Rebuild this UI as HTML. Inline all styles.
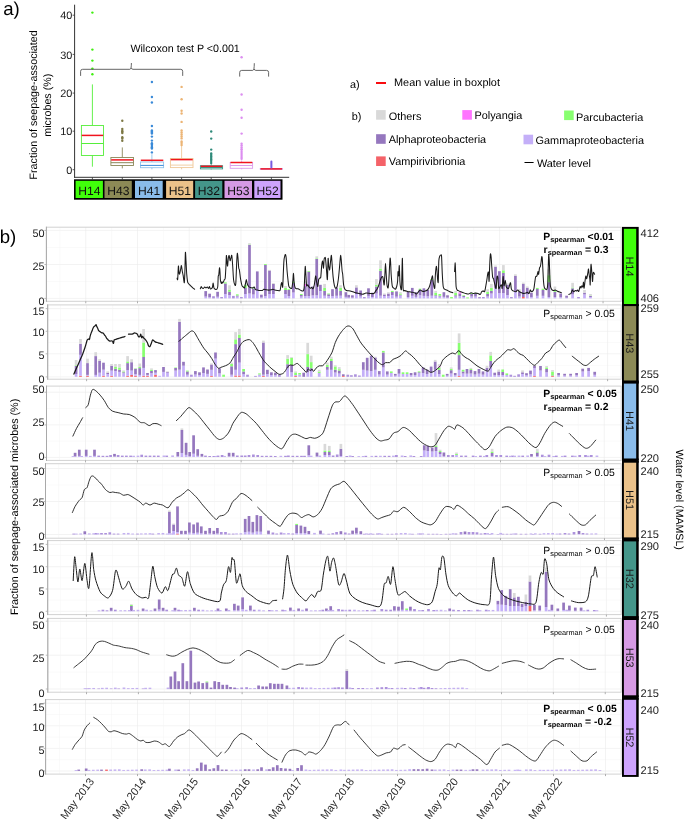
<!DOCTYPE html>
<html><head><meta charset="utf-8"><style>
html,body{margin:0;padding:0;background:#fff;}
svg{display:block;font-family:"Liberation Sans", sans-serif;-webkit-font-smoothing:antialiased;will-change:transform;text-rendering:geometricPrecision;}
</style></head><body>
<svg width="685" height="819" viewBox="0 0 685 819">
<rect x="0" y="0" width="685" height="819" fill="#fff"/>
<text x="3.2" y="14.6" font-size="18.6" text-anchor="start" fill="#000" font-weight="normal" >a)</text>
<text transform="translate(37.4,104.9) rotate(-90)" font-size="10.7" text-anchor="middle" fill="#000">Fraction of seepage-associated</text>
<text transform="translate(50.6,105.2) rotate(-90)" font-size="10.7" text-anchor="middle" fill="#000">microbes (%)</text>
<text x="72.4" y="173.9" font-size="10.9" text-anchor="end" fill="#1a1a1a" font-weight="normal" >0</text>
<line x1="72.6" y1="169.7" x2="74.6" y2="169.7" stroke="#333" stroke-width="0.8" />
<text x="72.4" y="135.4" font-size="10.9" text-anchor="end" fill="#1a1a1a" font-weight="normal" >10</text>
<line x1="72.6" y1="131.2" x2="74.6" y2="131.2" stroke="#333" stroke-width="0.8" />
<text x="72.4" y="97.3" font-size="10.9" text-anchor="end" fill="#1a1a1a" font-weight="normal" >20</text>
<line x1="72.6" y1="93.1" x2="74.6" y2="93.1" stroke="#333" stroke-width="0.8" />
<text x="72.4" y="58.6" font-size="10.9" text-anchor="end" fill="#1a1a1a" font-weight="normal" >30</text>
<line x1="72.6" y1="54.4" x2="74.6" y2="54.4" stroke="#333" stroke-width="0.8" />
<text x="72.4" y="19.4" font-size="10.9" text-anchor="end" fill="#1a1a1a" font-weight="normal" >40</text>
<line x1="72.6" y1="15.2" x2="74.6" y2="15.2" stroke="#333" stroke-width="0.8" />
<line x1="74.6" y1="4.7" x2="74.6" y2="177.8" stroke="#333" stroke-width="1" />
<line x1="74.1" y1="177.3" x2="289.2" y2="177.3" stroke="#333" stroke-width="1" />
<line x1="92.4" y1="84.4" x2="92.4" y2="125.5" stroke="#55ee3a" stroke-width="0.9" />
<line x1="92.4" y1="155.5" x2="92.4" y2="166.7" stroke="#55ee3a" stroke-width="0.9" />
<rect x="81.4" y="125.5" width="22.1" height="30" fill="none" stroke="#55ee3a" stroke-width="0.9"/>
<line x1="81.4" y1="143.5" x2="103.5" y2="143.5" stroke="#55ee3a" stroke-width="1.0" />
<line x1="81.7" y1="135.4" x2="103.2" y2="135.4" stroke="#f0141e" stroke-width="1.5" />
<circle cx="92.4" cy="12.6" r="1.2" fill="#40ee10"/>
<circle cx="92.4" cy="49.6" r="1.2" fill="#40ee10"/>
<circle cx="92.4" cy="60.6" r="1.2" fill="#40ee10"/>
<circle cx="92.4" cy="68.6" r="1.2" fill="#40ee10"/>
<circle cx="92.4" cy="74.2" r="1.2" fill="#40ee10"/>
<line x1="92.4" y1="177.3" x2="92.4" y2="179.3" stroke="#333" stroke-width="0.8" />
<line x1="122.3" y1="147.4" x2="122.3" y2="157.5" stroke="#8c8759" stroke-width="0.9" />
<line x1="122.3" y1="165.5" x2="122.3" y2="168.4" stroke="#8c8759" stroke-width="0.9" />
<rect x="110.9" y="157.5" width="22.6" height="8" fill="none" stroke="#8c8759" stroke-width="0.9"/>
<line x1="110.9" y1="162.7" x2="133.5" y2="162.7" stroke="#8c8759" stroke-width="1.0" />
<line x1="111.2" y1="159.9" x2="133.2" y2="159.9" stroke="#f0141e" stroke-width="1.5" />
<circle cx="122.3" cy="120.7" r="1.2" fill="#7d7845"/>
<circle cx="122.3" cy="129" r="1.2" fill="#7d7845"/>
<circle cx="122.3" cy="131" r="1.2" fill="#7d7845"/>
<circle cx="122.3" cy="131.8" r="1.2" fill="#7d7845"/>
<circle cx="122.3" cy="133" r="1.2" fill="#7d7845"/>
<circle cx="122.3" cy="137.2" r="1.2" fill="#7d7845"/>
<circle cx="122.3" cy="138.6" r="1.2" fill="#7d7845"/>
<circle cx="122.3" cy="140.8" r="1.2" fill="#7d7845"/>
<line x1="122.3" y1="177.3" x2="122.3" y2="179.3" stroke="#333" stroke-width="0.8" />
<line x1="151.9" y1="154.2" x2="151.9" y2="162" stroke="#8fc2ea" stroke-width="0.9" />
<line x1="151.9" y1="167.7" x2="151.9" y2="169.3" stroke="#8fc2ea" stroke-width="0.9" />
<rect x="140.5" y="162" width="23.1" height="5.7" fill="none" stroke="#8fc2ea" stroke-width="0.9"/>
<line x1="140.5" y1="165.4" x2="163.6" y2="165.4" stroke="#3a8ad8" stroke-width="1.0" />
<line x1="140.8" y1="160.3" x2="163.3" y2="160.3" stroke="#f0141e" stroke-width="1.5" />
<circle cx="151.9" cy="82" r="1.2" fill="#3a8ad8"/>
<circle cx="151.9" cy="97" r="1.2" fill="#3a8ad8"/>
<circle cx="151.9" cy="102.5" r="1.2" fill="#3a8ad8"/>
<circle cx="151.9" cy="126" r="1.2" fill="#3a8ad8"/>
<circle cx="151.9" cy="130.5" r="1.2" fill="#3a8ad8"/>
<circle cx="151.9" cy="131.5" r="1.2" fill="#3a8ad8"/>
<circle cx="151.9" cy="132.5" r="1.2" fill="#3a8ad8"/>
<circle cx="151.9" cy="133.6" r="1.2" fill="#3a8ad8"/>
<circle cx="151.9" cy="136.6" r="1.2" fill="#3a8ad8"/>
<circle cx="151.9" cy="140.6" r="1.2" fill="#3a8ad8"/>
<circle cx="151.9" cy="143.2" r="1.2" fill="#3a8ad8"/>
<circle cx="151.9" cy="144.5" r="1.2" fill="#3a8ad8"/>
<circle cx="151.9" cy="146" r="1.2" fill="#3a8ad8"/>
<circle cx="151.9" cy="147.3" r="1.2" fill="#3a8ad8"/>
<circle cx="151.9" cy="148.5" r="1.2" fill="#3a8ad8"/>
<circle cx="151.9" cy="152.4" r="1.2" fill="#3a8ad8"/>
<line x1="151.9" y1="177.3" x2="151.9" y2="179.3" stroke="#333" stroke-width="0.8" />
<line x1="181.6" y1="145.4" x2="181.6" y2="158.5" stroke="#efc898" stroke-width="0.9" />
<line x1="181.6" y1="167.6" x2="181.6" y2="169.3" stroke="#efc898" stroke-width="0.9" />
<rect x="170.4" y="158.5" width="22.6" height="9.1" fill="none" stroke="#efc898" stroke-width="0.9"/>
<line x1="170.4" y1="165.1" x2="193" y2="165.1" stroke="#f0cfa6" stroke-width="1.0" />
<line x1="170.7" y1="159.6" x2="192.7" y2="159.6" stroke="#f0141e" stroke-width="1.5" />
<circle cx="181.6" cy="86.9" r="1.2" fill="#ecb474"/>
<circle cx="181.6" cy="99.3" r="1.2" fill="#ecb474"/>
<circle cx="181.6" cy="110.7" r="1.2" fill="#ecb474"/>
<circle cx="181.6" cy="113.5" r="1.2" fill="#ecb474"/>
<circle cx="181.6" cy="121.9" r="1.2" fill="#ecb474"/>
<circle cx="181.6" cy="130.5" r="1.2" fill="#ecb474"/>
<circle cx="181.6" cy="132.5" r="1.2" fill="#ecb474"/>
<circle cx="181.6" cy="134.5" r="1.2" fill="#ecb474"/>
<circle cx="181.6" cy="136.5" r="1.2" fill="#ecb474"/>
<circle cx="181.6" cy="138.4" r="1.2" fill="#ecb474"/>
<circle cx="181.6" cy="141.5" r="1.2" fill="#ecb474"/>
<circle cx="181.6" cy="143" r="1.2" fill="#ecb474"/>
<circle cx="181.6" cy="145" r="1.2" fill="#ecb474"/>
<line x1="181.6" y1="177.3" x2="181.6" y2="179.3" stroke="#333" stroke-width="0.8" />
<line x1="211.2" y1="163.5" x2="211.2" y2="165.7" stroke="#3a9585" stroke-width="0.9" />
<line x1="211.2" y1="168.9" x2="211.2" y2="169.4" stroke="#3a9585" stroke-width="0.9" />
<rect x="200.4" y="165.7" width="22.2" height="3.2" fill="none" stroke="#3a9585" stroke-width="0.9"/>
<line x1="200.4" y1="167.5" x2="222.6" y2="167.5" stroke="#3a9585" stroke-width="1.0" />
<line x1="200.7" y1="166.3" x2="222.3" y2="166.3" stroke="#f0141e" stroke-width="1.5" />
<circle cx="211.2" cy="131.5" r="1.2" fill="#2f8a7a"/>
<circle cx="211.2" cy="138.6" r="1.2" fill="#2f8a7a"/>
<circle cx="211.2" cy="149.6" r="1.2" fill="#2f8a7a"/>
<circle cx="211.2" cy="153.4" r="1.2" fill="#2f8a7a"/>
<circle cx="211.2" cy="155" r="1.2" fill="#2f8a7a"/>
<circle cx="211.2" cy="156.5" r="1.2" fill="#2f8a7a"/>
<circle cx="211.2" cy="158" r="1.2" fill="#2f8a7a"/>
<circle cx="211.2" cy="159.5" r="1.2" fill="#2f8a7a"/>
<circle cx="211.2" cy="161" r="1.2" fill="#2f8a7a"/>
<circle cx="211.2" cy="162.9" r="1.2" fill="#2f8a7a"/>
<line x1="211.2" y1="177.3" x2="211.2" y2="179.3" stroke="#333" stroke-width="0.8" />
<line x1="241.6" y1="160.5" x2="241.6" y2="162.5" stroke="#dc9cec" stroke-width="0.9" />
<line x1="241.6" y1="168.3" x2="241.6" y2="169.3" stroke="#dc9cec" stroke-width="0.9" />
<rect x="230.2" y="162.5" width="22.4" height="5.8" fill="none" stroke="#dc9cec" stroke-width="0.9"/>
<line x1="230.2" y1="165.5" x2="252.6" y2="165.5" stroke="#dc9cec" stroke-width="1.0" />
<line x1="230.5" y1="162.5" x2="252.3" y2="162.5" stroke="#f0141e" stroke-width="1.5" />
<circle cx="241.6" cy="57.3" r="1.2" fill="#dc8ef0"/>
<circle cx="241.6" cy="94.5" r="1.2" fill="#dc8ef0"/>
<circle cx="241.6" cy="109.7" r="1.2" fill="#dc8ef0"/>
<circle cx="241.6" cy="117.7" r="1.2" fill="#dc8ef0"/>
<circle cx="241.6" cy="133.6" r="1.2" fill="#dc8ef0"/>
<circle cx="241.6" cy="143.8" r="1.2" fill="#dc8ef0"/>
<circle cx="241.6" cy="145.6" r="1.2" fill="#dc8ef0"/>
<circle cx="241.6" cy="147.5" r="1.2" fill="#dc8ef0"/>
<circle cx="241.6" cy="149.3" r="1.2" fill="#dc8ef0"/>
<circle cx="241.6" cy="151.1" r="1.2" fill="#dc8ef0"/>
<circle cx="241.6" cy="153" r="1.2" fill="#dc8ef0"/>
<circle cx="241.6" cy="155" r="1.2" fill="#dc8ef0"/>
<circle cx="241.6" cy="157" r="1.2" fill="#dc8ef0"/>
<circle cx="241.6" cy="158.8" r="1.2" fill="#dc8ef0"/>
<line x1="241.6" y1="177.3" x2="241.6" y2="179.3" stroke="#333" stroke-width="0.8" />
<line x1="271.4" y1="168.6" x2="271.4" y2="168.6" stroke="#c6a2fa" stroke-width="0.9" />
<line x1="271.4" y1="169.2" x2="271.4" y2="169.3" stroke="#c6a2fa" stroke-width="0.9" />
<rect x="260.2" y="168.6" width="22.2" height="0.6" fill="none" stroke="#c6a2fa" stroke-width="0.9"/>
<line x1="260.2" y1="168.9" x2="282.4" y2="168.9" stroke="#c6a2fa" stroke-width="1.0" />
<line x1="260.5" y1="168.9" x2="282.1" y2="168.9" stroke="#f0141e" stroke-width="1.5" />
<circle cx="271.4" cy="161.6" r="1.0" fill="#7a5ce0"/>
<circle cx="271.4" cy="162.6" r="1.0" fill="#7a5ce0"/>
<circle cx="271.4" cy="163.6" r="1.0" fill="#7a5ce0"/>
<circle cx="271.4" cy="164.6" r="1.0" fill="#7a5ce0"/>
<circle cx="271.4" cy="165.6" r="1.0" fill="#7a5ce0"/>
<circle cx="271.4" cy="166.6" r="1.0" fill="#7a5ce0"/>
<circle cx="271.4" cy="167.6" r="1.0" fill="#7a5ce0"/>
<line x1="271.4" y1="177.3" x2="271.4" y2="179.3" stroke="#333" stroke-width="0.8" />
<text x="130.4" y="52.3" font-size="10.7" text-anchor="start" fill="#000" font-weight="normal" >Wilcoxon test P &lt;0.001</text>
<path d="M80.6,75.9 L80.6,71.3 Q80.6,69.3 82.6,69.3 L129.9,69.3 Q131.4,69.3 131.4,63 M131.4,67.8 Q131.4,69.3 132.9,69.3 L180.7,69.3 Q182.7,69.3 182.7,71.3 L182.7,75.9" fill="none" stroke="#555" stroke-width="0.9"/>
<path d="M239.7,76.6 L239.7,72.4 Q239.7,70.4 241.7,70.4 L252.8,70.4 Q254.3,70.4 254.3,63.2 M254.3,68.9 Q254.3,70.4 255.8,70.4 L266.6,70.4 Q268.6,70.4 268.6,72.4 L268.6,76.6" fill="none" stroke="#555" stroke-width="0.9"/>
<rect x="74" y="179.3" width="208.5" height="20.4" fill="#000" />
<rect x="75.6" y="180.8" width="27.3" height="17.2" fill="#40ff0a" />
<text x="89.45" y="194.5" font-size="12.1" text-anchor="middle" fill="#111" font-weight="normal" >H14</text>
<rect x="104.5" y="180.8" width="27.3" height="17.2" fill="#8c8a56" />
<text x="118.35" y="194.5" font-size="12.1" text-anchor="middle" fill="#111" font-weight="normal" >H43</text>
<rect x="135" y="180.8" width="27.7" height="17.2" fill="#8abcea" />
<text x="149.05" y="194.5" font-size="12.1" text-anchor="middle" fill="#111" font-weight="normal" >H41</text>
<rect x="166.1" y="180.8" width="27.1" height="17.2" fill="#ebc28a" />
<text x="179.85" y="194.5" font-size="12.1" text-anchor="middle" fill="#111" font-weight="normal" >H51</text>
<rect x="195.1" y="180.8" width="27.2" height="17.2" fill="#44968a" />
<text x="208.9" y="194.5" font-size="12.1" text-anchor="middle" fill="#111" font-weight="normal" >H32</text>
<rect x="224.5" y="180.8" width="27.5" height="17.2" fill="#d69ae4" />
<text x="238.45" y="194.5" font-size="12.1" text-anchor="middle" fill="#111" font-weight="normal" >H53</text>
<rect x="254.3" y="180.8" width="26.2" height="17.2" fill="#cda3fd" />
<text x="267.6" y="194.5" font-size="12.1" text-anchor="middle" fill="#111" font-weight="normal" >H52</text>
<text x="350" y="87.9" font-size="10.9" text-anchor="start" fill="#000" font-weight="normal" >a)</text>
<line x1="376" y1="83" x2="386" y2="83" stroke="#f80c10" stroke-width="2.0" />
<text x="394" y="86.4" font-size="10.9" text-anchor="start" fill="#000" font-weight="normal" >Mean value in boxplot</text>
<text x="351.8" y="120.3" font-size="10.9" text-anchor="start" fill="#000" font-weight="normal" >b)</text>
<rect x="376.1" y="110.1" width="9.6" height="9.6" fill="#d9d9d9" />
<text x="388.7" y="119.6" font-size="10.9" text-anchor="start" fill="#000" font-weight="normal" >Others</text>
<rect x="462.3" y="110.1" width="9.6" height="9.6" fill="#ff74ff" />
<text x="474.4" y="119.2" font-size="10.9" text-anchor="start" fill="#000" font-weight="normal" >Polyangia</text>
<rect x="564.1" y="110.5" width="9.6" height="9.6" fill="#88ff70" />
<text x="576" y="120.5" font-size="10.9" text-anchor="start" fill="#000" font-weight="normal" >Parcubacteria</text>
<rect x="376.1" y="134.2" width="9.6" height="9.6" fill="#9577be" />
<text x="388.7" y="143" font-size="10.9" text-anchor="start" fill="#000" font-weight="normal" >Alphaproteobacteria</text>
<rect x="523.5" y="134.7" width="9.6" height="9.6" fill="#c4aff8" />
<text x="535.6" y="143.8" font-size="10.9" text-anchor="start" fill="#000" font-weight="normal" >Gammaproteobacteria</text>
<rect x="376.1" y="156.4" width="9.6" height="9.6" fill="#f46268" />
<text x="388.7" y="165.3" font-size="10.9" text-anchor="start" fill="#000" font-weight="normal" >Vampirivibrionia</text>
<line x1="524.5" y1="162.5" x2="533.6" y2="162.5" stroke="#000" stroke-width="1.0" />
<text x="536.9" y="166.8" font-size="10.9" text-anchor="start" fill="#000" font-weight="normal" >Water level</text>
<text x="-0.3" y="242.7" font-size="18.6" text-anchor="start" fill="#000" font-weight="normal" >b)</text>
<text transform="translate(18.2,506.9) rotate(-90)" font-size="10.75" text-anchor="middle" fill="#000">Fraction of seepage-associated microbes (%)</text>
<text transform="translate(675.6,499.7) rotate(90)" font-size="10.6" text-anchor="middle" fill="#000">Water level (MAMSL)</text>
<line x1="46.4" y1="247.45" x2="621.2" y2="247.45" stroke="#f4f4f4" stroke-width="0.5" />
<line x1="46.4" y1="281.45" x2="621.2" y2="281.45" stroke="#f4f4f4" stroke-width="0.5" />
<line x1="46.4" y1="230.4" x2="621.2" y2="230.4" stroke="#ebebeb" stroke-width="0.6" />
<line x1="46.4" y1="264.5" x2="621.2" y2="264.5" stroke="#ebebeb" stroke-width="0.6" />
<line x1="46.4" y1="298.4" x2="621.2" y2="298.4" stroke="#ebebeb" stroke-width="0.6" />
<line x1="59.91" y1="227.2" x2="59.91" y2="301.3" stroke="#f4f4f4" stroke-width="0.5" />
<line x1="111.64" y1="227.2" x2="111.64" y2="301.3" stroke="#f4f4f4" stroke-width="0.5" />
<line x1="163.36" y1="227.2" x2="163.36" y2="301.3" stroke="#f4f4f4" stroke-width="0.5" />
<line x1="215.09" y1="227.2" x2="215.09" y2="301.3" stroke="#f4f4f4" stroke-width="0.5" />
<line x1="266.82" y1="227.2" x2="266.82" y2="301.3" stroke="#f4f4f4" stroke-width="0.5" />
<line x1="318.55" y1="227.2" x2="318.55" y2="301.3" stroke="#f4f4f4" stroke-width="0.5" />
<line x1="370.28" y1="227.2" x2="370.28" y2="301.3" stroke="#f4f4f4" stroke-width="0.5" />
<line x1="422.01" y1="227.2" x2="422.01" y2="301.3" stroke="#f4f4f4" stroke-width="0.5" />
<line x1="473.74" y1="227.2" x2="473.74" y2="301.3" stroke="#f4f4f4" stroke-width="0.5" />
<line x1="525.46" y1="227.2" x2="525.46" y2="301.3" stroke="#f4f4f4" stroke-width="0.5" />
<line x1="577.19" y1="227.2" x2="577.19" y2="301.3" stroke="#f4f4f4" stroke-width="0.5" />
<line x1="85.77" y1="227.2" x2="85.77" y2="301.3" stroke="#ebebeb" stroke-width="0.6" />
<line x1="137.5" y1="227.2" x2="137.5" y2="301.3" stroke="#ebebeb" stroke-width="0.6" />
<line x1="189.23" y1="227.2" x2="189.23" y2="301.3" stroke="#ebebeb" stroke-width="0.6" />
<line x1="240.96" y1="227.2" x2="240.96" y2="301.3" stroke="#ebebeb" stroke-width="0.6" />
<line x1="292.69" y1="227.2" x2="292.69" y2="301.3" stroke="#ebebeb" stroke-width="0.6" />
<line x1="344.41" y1="227.2" x2="344.41" y2="301.3" stroke="#ebebeb" stroke-width="0.6" />
<line x1="396.14" y1="227.2" x2="396.14" y2="301.3" stroke="#ebebeb" stroke-width="0.6" />
<line x1="447.87" y1="227.2" x2="447.87" y2="301.3" stroke="#ebebeb" stroke-width="0.6" />
<line x1="499.6" y1="227.2" x2="499.6" y2="301.3" stroke="#ebebeb" stroke-width="0.6" />
<line x1="551.33" y1="227.2" x2="551.33" y2="301.3" stroke="#ebebeb" stroke-width="0.6" />
<line x1="603.06" y1="227.2" x2="603.06" y2="301.3" stroke="#ebebeb" stroke-width="0.6" />
<rect x="204.35" y="296.57" width="2.7" height="1.82" fill="#c4aff8" />
<rect x="204.35" y="291.1" width="2.7" height="5.47" fill="#9577be" />
<rect x="208.25" y="297.22" width="2.7" height="1.18" fill="#c4aff8" />
<rect x="208.25" y="293.7" width="2.7" height="3.52" fill="#9577be" />
<rect x="212.15" y="296.2" width="2.7" height="2.2" fill="#ad92dc" />
<rect x="216.25" y="296.75" width="2.7" height="1.65" fill="#c4aff8" />
<rect x="216.25" y="291.8" width="2.7" height="4.95" fill="#9577be" />
<rect x="220.25" y="297" width="2.7" height="1.4" fill="#ad92dc" />
<rect x="224.05" y="294" width="2.7" height="4.4" fill="#c4aff8" />
<rect x="224.05" y="283.5" width="2.7" height="10.5" fill="#9577be" />
<rect x="224.05" y="282.3" width="2.7" height="1.2" fill="#88ff70" />
<rect x="228.15" y="295" width="2.7" height="3.4" fill="#c4aff8" />
<rect x="228.15" y="291.8" width="2.7" height="3.2" fill="#9577be" />
<rect x="228.15" y="289.6" width="2.7" height="2.2" fill="#88ff70" />
<rect x="228.15" y="285.3" width="2.7" height="4.3" fill="#d9d9d9" />
<rect x="232.05" y="295.9" width="2.7" height="2.5" fill="#ad92dc" />
<rect x="235.95" y="296.5" width="2.7" height="1.9" fill="#c4aff8" />
<rect x="235.95" y="295.5" width="2.7" height="1" fill="#9577be" />
<rect x="235.95" y="294.3" width="2.7" height="1.2" fill="#88ff70" />
<rect x="240.05" y="297" width="2.7" height="1.4" fill="#ad92dc" />
<rect x="244.05" y="294" width="2.7" height="4.4" fill="#c4aff8" />
<rect x="244.05" y="288" width="2.7" height="6" fill="#9577be" />
<rect x="244.05" y="285" width="2.7" height="3" fill="#88ff70" />
<rect x="244.05" y="283.8" width="2.7" height="1.2" fill="#d9d9d9" />
<rect x="248.15" y="293.5" width="2.7" height="4.9" fill="#c4aff8" />
<rect x="248.15" y="245" width="2.7" height="48.5" fill="#9577be" />
<rect x="248.15" y="244.5" width="2.7" height="0.5" fill="#88ff70" />
<rect x="248.15" y="243.2" width="2.7" height="1.3" fill="#d9d9d9" />
<rect x="252.05" y="294.5" width="2.7" height="3.9" fill="#c4aff8" />
<rect x="252.05" y="288.5" width="2.7" height="6" fill="#9577be" />
<rect x="252.05" y="287.4" width="2.7" height="1.1" fill="#88ff70" />
<rect x="255.95" y="290" width="2.7" height="8.4" fill="#c4aff8" />
<rect x="255.95" y="271.4" width="2.7" height="18.6" fill="#9577be" />
<rect x="260.05" y="297.47" width="2.7" height="0.93" fill="#c4aff8" />
<rect x="260.05" y="294.7" width="2.7" height="2.77" fill="#9577be" />
<rect x="264.05" y="296" width="2.7" height="2.4" fill="#c4aff8" />
<rect x="264.05" y="265" width="2.7" height="31" fill="#9577be" />
<rect x="264.05" y="264.1" width="2.7" height="0.9" fill="#88ff70" />
<rect x="268.15" y="294" width="2.7" height="4.4" fill="#c4aff8" />
<rect x="268.15" y="270.5" width="2.7" height="23.5" fill="#9577be" />
<rect x="268.15" y="269.9" width="2.7" height="0.6" fill="#d9d9d9" />
<rect x="272.05" y="294" width="2.7" height="4.4" fill="#c4aff8" />
<rect x="272.05" y="284" width="2.7" height="10" fill="#9577be" />
<rect x="272.05" y="283.1" width="2.7" height="0.9" fill="#d9d9d9" />
<rect x="284.15" y="294" width="2.7" height="4.4" fill="#c4aff8" />
<rect x="284.15" y="290" width="2.7" height="4" fill="#9577be" />
<rect x="284.15" y="288" width="2.7" height="2" fill="#88ff70" />
<rect x="284.15" y="286" width="2.7" height="2" fill="#d9d9d9" />
<rect x="287.55" y="296" width="2.7" height="2.4" fill="#c4aff8" />
<rect x="287.55" y="290" width="2.7" height="6" fill="#9577be" />
<rect x="287.55" y="289.2" width="2.7" height="0.8" fill="#88ff70" />
<rect x="292.05" y="292.5" width="2.7" height="5.9" fill="#c4aff8" />
<rect x="292.05" y="283" width="2.7" height="9.5" fill="#9577be" />
<rect x="292.05" y="281.7" width="2.7" height="1.3" fill="#88ff70" />
<rect x="299.95" y="296.5" width="2.7" height="1.9" fill="#c4aff8" />
<rect x="299.95" y="295" width="2.7" height="1.5" fill="#9577be" />
<rect x="299.95" y="294" width="2.7" height="1" fill="#88ff70" />
<rect x="303.95" y="296" width="2.7" height="2.4" fill="#c4aff8" />
<rect x="303.95" y="286.1" width="2.7" height="9.9" fill="#9577be" />
<rect x="303.95" y="283.9" width="2.7" height="2.2" fill="#ff74ff" />
<rect x="303.95" y="280.8" width="2.7" height="3.1" fill="#d9d9d9" />
<rect x="307.45" y="296" width="2.7" height="2.4" fill="#c4aff8" />
<rect x="307.45" y="271.7" width="2.7" height="24.3" fill="#9577be" />
<rect x="307.45" y="271" width="2.7" height="0.7" fill="#88ff70" />
<rect x="311.45" y="295.42" width="2.7" height="2.98" fill="#c4aff8" />
<rect x="311.45" y="286.5" width="2.7" height="8.92" fill="#9577be" />
<rect x="315.35" y="295.3" width="2.7" height="3.1" fill="#c4aff8" />
<rect x="315.35" y="259" width="2.7" height="36.3" fill="#9577be" />
<rect x="315.35" y="258.3" width="2.7" height="0.7" fill="#88ff70" />
<rect x="315.35" y="256.3" width="2.7" height="2" fill="#d9d9d9" />
<rect x="319.05" y="291" width="2.7" height="7.4" fill="#c4aff8" />
<rect x="319.05" y="284.8" width="2.7" height="6.2" fill="#9577be" />
<rect x="323.25" y="295.7" width="2.7" height="2.7" fill="#c4aff8" />
<rect x="323.25" y="290.9" width="2.7" height="4.8" fill="#9577be" />
<rect x="323.25" y="287.9" width="2.7" height="3" fill="#88ff70" />
<rect x="323.25" y="283.9" width="2.7" height="4" fill="#d9d9d9" />
<rect x="327.25" y="296" width="2.7" height="2.4" fill="#c4aff8" />
<rect x="327.25" y="294.3" width="2.7" height="1.7" fill="#9577be" />
<rect x="327.25" y="293.5" width="2.7" height="0.8" fill="#88ff70" />
<rect x="331.15" y="296.1" width="2.7" height="2.3" fill="#c4aff8" />
<rect x="331.15" y="289.2" width="2.7" height="6.9" fill="#9577be" />
<rect x="335.25" y="295.77" width="2.7" height="2.62" fill="#c4aff8" />
<rect x="335.25" y="287.9" width="2.7" height="7.88" fill="#9577be" />
<rect x="339.25" y="295.7" width="2.7" height="2.7" fill="#c4aff8" />
<rect x="339.25" y="290.9" width="2.7" height="4.8" fill="#9577be" />
<rect x="339.25" y="287.9" width="2.7" height="3" fill="#88ff70" />
<rect x="339.25" y="285.2" width="2.7" height="2.7" fill="#d9d9d9" />
<rect x="344.55" y="296.85" width="2.7" height="1.55" fill="#c4aff8" />
<rect x="344.55" y="292.2" width="2.7" height="4.65" fill="#9577be" />
<rect x="347.35" y="297.52" width="2.7" height="0.88" fill="#c4aff8" />
<rect x="347.35" y="294.9" width="2.7" height="2.62" fill="#9577be" />
<rect x="351.05" y="297.62" width="2.7" height="0.77" fill="#c4aff8" />
<rect x="351.05" y="295.3" width="2.7" height="2.32" fill="#9577be" />
<rect x="355.05" y="294" width="2.7" height="4.4" fill="#c4aff8" />
<rect x="355.05" y="287.4" width="2.7" height="6.6" fill="#9577be" />
<rect x="355.05" y="285.2" width="2.7" height="2.2" fill="#d9d9d9" />
<rect x="359.25" y="296.42" width="2.7" height="1.98" fill="#c4aff8" />
<rect x="359.25" y="290.5" width="2.7" height="5.92" fill="#9577be" />
<rect x="362.95" y="297" width="2.7" height="1.4" fill="#ad92dc" />
<rect x="367.15" y="295.88" width="2.7" height="2.52" fill="#c4aff8" />
<rect x="367.15" y="288.3" width="2.7" height="7.57" fill="#9577be" />
<rect x="371.05" y="296.97" width="2.7" height="1.43" fill="#c4aff8" />
<rect x="371.05" y="292.7" width="2.7" height="4.27" fill="#9577be" />
<rect x="375.05" y="293.5" width="2.7" height="4.9" fill="#c4aff8" />
<rect x="375.05" y="286.5" width="2.7" height="7" fill="#9577be" />
<rect x="375.05" y="284.8" width="2.7" height="1.7" fill="#88ff70" />
<rect x="375.05" y="279.1" width="2.7" height="5.7" fill="#d9d9d9" />
<rect x="379.15" y="295.7" width="2.7" height="2.7" fill="#c4aff8" />
<rect x="379.15" y="270.8" width="2.7" height="24.9" fill="#9577be" />
<rect x="379.15" y="268.6" width="2.7" height="2.2" fill="#88ff70" />
<rect x="379.15" y="260.3" width="2.7" height="8.3" fill="#d9d9d9" />
<rect x="383.05" y="296" width="2.7" height="2.4" fill="#c4aff8" />
<rect x="383.05" y="294.5" width="2.7" height="1.5" fill="#9577be" />
<rect x="383.05" y="293.5" width="2.7" height="1" fill="#d9d9d9" />
<rect x="387.05" y="296" width="2.7" height="2.4" fill="#c4aff8" />
<rect x="387.05" y="293.5" width="2.7" height="2.5" fill="#9577be" />
<rect x="387.05" y="292.2" width="2.7" height="1.3" fill="#d9d9d9" />
<rect x="390.95" y="295" width="2.7" height="3.4" fill="#c4aff8" />
<rect x="390.95" y="292" width="2.7" height="3" fill="#9577be" />
<rect x="390.95" y="290.9" width="2.7" height="1.1" fill="#88ff70" />
<rect x="395.15" y="296.65" width="2.7" height="1.75" fill="#c4aff8" />
<rect x="395.15" y="291.4" width="2.7" height="5.25" fill="#9577be" />
<rect x="399.05" y="295.5" width="2.7" height="2.9" fill="#c4aff8" />
<rect x="399.05" y="294.8" width="2.7" height="0.7" fill="#9577be" />
<rect x="399.05" y="293.5" width="2.7" height="1.3" fill="#88ff70" />
<rect x="399.05" y="292.2" width="2.7" height="1.3" fill="#d9d9d9" />
<rect x="406.75" y="297" width="2.7" height="1.4" fill="#c4aff8" />
<rect x="406.75" y="291.8" width="2.7" height="5.2" fill="#9577be" />
<rect x="406.75" y="290.9" width="2.7" height="0.9" fill="#d9d9d9" />
<rect x="410.95" y="295.77" width="2.7" height="2.62" fill="#c4aff8" />
<rect x="410.95" y="287.9" width="2.7" height="7.88" fill="#9577be" />
<rect x="414.65" y="296.85" width="2.7" height="1.55" fill="#c4aff8" />
<rect x="414.65" y="292.2" width="2.7" height="4.65" fill="#9577be" />
<rect x="418.65" y="295.3" width="2.7" height="3.1" fill="#c4aff8" />
<rect x="418.65" y="289.6" width="2.7" height="5.7" fill="#9577be" />
<rect x="418.65" y="288.7" width="2.7" height="0.9" fill="#88ff70" />
<rect x="422.55" y="295.88" width="2.7" height="2.52" fill="#c4aff8" />
<rect x="422.55" y="288.3" width="2.7" height="7.57" fill="#9577be" />
<rect x="426.45" y="296.3" width="2.7" height="2.1" fill="#c4aff8" />
<rect x="426.45" y="290" width="2.7" height="6.3" fill="#9577be" />
<rect x="430.45" y="295.7" width="2.7" height="2.7" fill="#c4aff8" />
<rect x="430.45" y="280" width="2.7" height="15.7" fill="#9577be" />
<rect x="430.45" y="279.1" width="2.7" height="0.9" fill="#88ff70" />
<rect x="434.35" y="296" width="2.7" height="2.4" fill="#c4aff8" />
<rect x="434.35" y="295.3" width="2.7" height="0.7" fill="#9577be" />
<rect x="434.35" y="292.7" width="2.7" height="2.6" fill="#88ff70" />
<rect x="434.35" y="290.9" width="2.7" height="1.8" fill="#d9d9d9" />
<rect x="438.45" y="296.5" width="2.7" height="1.9" fill="#c4aff8" />
<rect x="438.45" y="295.7" width="2.7" height="0.8" fill="#9577be" />
<rect x="438.45" y="294" width="2.7" height="1.7" fill="#88ff70" />
<rect x="442.55" y="296.85" width="2.7" height="1.55" fill="#c4aff8" />
<rect x="442.55" y="292.2" width="2.7" height="4.65" fill="#9577be" />
<rect x="446.15" y="297.62" width="2.7" height="0.77" fill="#c4aff8" />
<rect x="446.15" y="295.3" width="2.7" height="2.32" fill="#9577be" />
<rect x="450.15" y="297" width="2.7" height="1.4" fill="#88ff70" />
<rect x="454.25" y="296.5" width="2.7" height="1.9" fill="#c4aff8" />
<rect x="454.25" y="295.3" width="2.7" height="1.2" fill="#9577be" />
<rect x="454.25" y="292.7" width="2.7" height="2.6" fill="#88ff70" />
<rect x="454.25" y="290.9" width="2.7" height="1.8" fill="#d9d9d9" />
<rect x="458.45" y="296" width="2.7" height="2.4" fill="#c4aff8" />
<rect x="458.45" y="293.5" width="2.7" height="2.5" fill="#9577be" />
<rect x="458.45" y="292.2" width="2.7" height="1.3" fill="#ff74ff" />
<rect x="462.35" y="297" width="2.7" height="1.4" fill="#c4aff8" />
<rect x="462.35" y="296" width="2.7" height="1" fill="#9577be" />
<rect x="462.35" y="295.3" width="2.7" height="0.7" fill="#88ff70" />
<rect x="466.25" y="297.4" width="2.7" height="1" fill="#88ff70" />
<rect x="470.25" y="296.5" width="2.7" height="1.9" fill="#c4aff8" />
<rect x="470.25" y="294" width="2.7" height="2.5" fill="#9577be" />
<rect x="470.25" y="293.1" width="2.7" height="0.9" fill="#88ff70" />
<rect x="474.15" y="296.5" width="2.7" height="1.9" fill="#c4aff8" />
<rect x="474.15" y="293.8" width="2.7" height="2.7" fill="#9577be" />
<rect x="474.15" y="293.2" width="2.7" height="0.6" fill="#88ff70" />
<rect x="474.15" y="292.7" width="2.7" height="0.5" fill="#d9d9d9" />
<rect x="478.15" y="297" width="2.7" height="1.4" fill="#ad92dc" />
<rect x="482.05" y="297" width="2.7" height="1.4" fill="#ad92dc" />
<rect x="486.25" y="296.5" width="2.7" height="1.9" fill="#c4aff8" />
<rect x="486.25" y="294" width="2.7" height="2.5" fill="#9577be" />
<rect x="486.25" y="291.8" width="2.7" height="2.2" fill="#88ff70" />
<rect x="486.25" y="289.2" width="2.7" height="2.6" fill="#d9d9d9" />
<rect x="490.05" y="293.5" width="2.7" height="4.9" fill="#c4aff8" />
<rect x="490.05" y="290.9" width="2.7" height="2.6" fill="#9577be" />
<rect x="490.05" y="287.9" width="2.7" height="3" fill="#88ff70" />
<rect x="490.05" y="283.9" width="2.7" height="4" fill="#d9d9d9" />
<rect x="494.15" y="288.3" width="2.7" height="10.1" fill="#c4aff8" />
<rect x="494.15" y="266.8" width="2.7" height="21.5" fill="#9577be" />
<rect x="494.15" y="265.5" width="2.7" height="1.3" fill="#d9d9d9" />
<rect x="498.05" y="293.1" width="2.7" height="5.3" fill="#c4aff8" />
<rect x="498.05" y="271.2" width="2.7" height="21.9" fill="#9577be" />
<rect x="502.05" y="293.1" width="2.7" height="5.3" fill="#c4aff8" />
<rect x="502.05" y="273" width="2.7" height="20.1" fill="#9577be" />
<rect x="502.05" y="270.3" width="2.7" height="2.7" fill="#88ff70" />
<rect x="502.05" y="265.1" width="2.7" height="5.2" fill="#d9d9d9" />
<rect x="506.15" y="295" width="2.7" height="3.4" fill="#c4aff8" />
<rect x="506.15" y="284.8" width="2.7" height="10.2" fill="#9577be" />
<rect x="506.15" y="283.5" width="2.7" height="1.3" fill="#d9d9d9" />
<rect x="510.05" y="297" width="2.7" height="1.4" fill="#ad92dc" />
<rect x="514.05" y="291.8" width="2.7" height="6.6" fill="#c4aff8" />
<rect x="514.05" y="276" width="2.7" height="15.8" fill="#9577be" />
<rect x="514.05" y="274.3" width="2.7" height="1.7" fill="#d9d9d9" />
<rect x="518.05" y="296.5" width="2.7" height="1.9" fill="#c4aff8" />
<rect x="518.05" y="291.8" width="2.7" height="4.7" fill="#9577be" />
<rect x="518.05" y="289.2" width="2.7" height="2.6" fill="#d9d9d9" />
<rect x="521.95" y="297" width="2.7" height="1.4" fill="#f46268" />
<rect x="521.95" y="284" width="2.7" height="13" fill="#9577be" />
<rect x="521.95" y="282.6" width="2.7" height="1.4" fill="#d9d9d9" />
<rect x="525.95" y="294.5" width="2.7" height="3.9" fill="#c4aff8" />
<rect x="525.95" y="287.8" width="2.7" height="6.7" fill="#9577be" />
<rect x="525.95" y="286.5" width="2.7" height="1.3" fill="#d9d9d9" />
<rect x="530.05" y="296.97" width="2.7" height="1.43" fill="#c4aff8" />
<rect x="530.05" y="292.7" width="2.7" height="4.27" fill="#9577be" />
<rect x="535.95" y="295.8" width="2.7" height="2.6" fill="#c4aff8" />
<rect x="535.95" y="289" width="2.7" height="6.8" fill="#9577be" />
<rect x="535.95" y="287.9" width="2.7" height="1.1" fill="#88ff70" />
<rect x="541.65" y="295.8" width="2.7" height="2.6" fill="#c4aff8" />
<rect x="541.65" y="290" width="2.7" height="5.8" fill="#9577be" />
<rect x="541.65" y="288.7" width="2.7" height="1.3" fill="#88ff70" />
<rect x="547.55" y="297" width="2.7" height="1.4" fill="#c4aff8" />
<rect x="547.55" y="282.2" width="2.7" height="14.8" fill="#9577be" />
<rect x="547.55" y="275.2" width="2.7" height="7" fill="#88ff70" />
<rect x="547.55" y="269" width="2.7" height="6.2" fill="#d9d9d9" />
<rect x="553.55" y="297" width="2.7" height="1.4" fill="#c4aff8" />
<rect x="553.55" y="291.8" width="2.7" height="5.2" fill="#9577be" />
<rect x="553.55" y="290" width="2.7" height="1.8" fill="#88ff70" />
<rect x="553.55" y="286.5" width="2.7" height="3.5" fill="#d9d9d9" />
<rect x="559.35" y="297.17" width="2.7" height="1.23" fill="#c4aff8" />
<rect x="559.35" y="293.5" width="2.7" height="3.67" fill="#9577be" />
<rect x="565.25" y="297.72" width="2.7" height="0.68" fill="#c4aff8" />
<rect x="565.25" y="295.7" width="2.7" height="2.02" fill="#9577be" />
<rect x="571.25" y="294.4" width="2.7" height="4" fill="#c4aff8" />
<rect x="571.25" y="288.3" width="2.7" height="6.1" fill="#9577be" />
<rect x="571.25" y="287.5" width="2.7" height="0.8" fill="#88ff70" />
<rect x="571.25" y="282.8" width="2.7" height="4.7" fill="#d9d9d9" />
<rect x="577.15" y="297" width="2.7" height="1.4" fill="#ad92dc" />
<rect x="583.15" y="294.4" width="2.7" height="4" fill="#c4aff8" />
<rect x="583.15" y="292.7" width="2.7" height="1.7" fill="#9577be" />
<rect x="583.15" y="290" width="2.7" height="2.7" fill="#d9d9d9" />
<rect x="589.15" y="297" width="2.7" height="1.4" fill="#c4aff8" />
<rect x="589.15" y="296" width="2.7" height="1" fill="#9577be" />
<rect x="589.15" y="295.6" width="2.7" height="0.4" fill="#88ff70" />
<rect x="589.15" y="294" width="2.7" height="1.6" fill="#d9d9d9" />
<path d="M177.1,278.3 C177.19,278.43 177.52,280.94 177.7,279.2 C177.88,277.46 178.22,266.88 178.4,266 C178.58,265.12 178.82,271.88 179,273 C179.18,274.12 179.47,274.4 179.7,273.9 C179.93,273.4 180.36,270.68 180.6,269.5 C180.84,268.32 181.16,265.35 181.4,265.6 C181.64,265.86 182.05,269.87 182.3,271.3 C182.56,272.73 182.92,274.08 183.2,275.7 C183.48,277.31 184.06,283.32 184.3,282.7 C184.54,282.08 184.74,275.59 184.9,271.3 C185.06,267.01 185.24,253.89 185.4,252.4 C185.56,250.91 185.82,257.75 186,260.8 C186.18,263.85 186.47,270.92 186.7,273.9 C186.93,276.88 187.34,280.44 187.6,281.8 C187.85,283.16 188.19,283.06 188.5,283.5 C188.81,283.94 189.38,284.46 189.8,284.9 C190.23,285.34 191,286.1 191.5,286.6 C192,287.1 192.86,288.03 193.3,288.4 C193.74,288.77 194.42,289.09 194.6,289.2" fill="none" stroke="#1a1a1a" stroke-width="1.05" stroke-linejoin="round" stroke-linecap="round"/>
<path d="M200.3,288.8 C200.43,288.49 200.96,286.73 201.2,286.6 C201.44,286.47 201.7,287.64 202,287.9 C202.3,288.15 202.92,288.53 203.3,288.4 C203.68,288.27 204.32,287.07 204.7,287 C205.08,286.93 205.63,287.9 206,287.9 C206.37,287.9 206.93,286.93 207.3,287 C207.67,287.07 208.29,288.46 208.6,288.4 C208.91,288.34 209.26,286.54 209.5,286.6 C209.74,286.66 209.99,288.55 210.3,288.8 C210.61,289.06 211.39,288.65 211.7,288.4 C212.01,288.14 212.29,287.75 212.5,287 C212.71,286.25 213,282.97 213.2,283.1 C213.4,283.23 213.62,287.04 213.9,287.9 C214.18,288.76 214.77,289.02 215.2,289.2 C215.62,289.38 216.53,289.62 216.9,289.2 C217.27,288.77 217.62,288 217.8,286.2 C217.98,284.4 218.06,278.12 218.2,276.5 C218.34,274.88 218.62,276.03 218.8,274.8 C218.98,273.57 219.33,268.17 219.5,267.8 C219.67,267.43 219.87,270.47 220,272.2 C220.13,273.93 220.22,278.4 220.4,280 C220.58,281.6 221.07,283.25 221.3,283.5 C221.53,283.75 221.82,281.86 222,281.8 C222.18,281.74 222.39,283.1 222.6,283.1 C222.81,283.1 223.25,282.3 223.5,281.8 C223.75,281.3 224.16,280.1 224.4,279.6 C224.64,279.1 224.99,280.1 225.2,278.3 C225.41,276.5 225.73,270.13 225.9,266.9 C226.07,263.67 226.24,256.12 226.4,255.5 C226.56,254.88 226.83,261.01 227,262.5 C227.17,263.99 227.42,266.62 227.6,266 C227.78,265.38 228.07,259.59 228.3,258.1 C228.53,256.61 228.94,255.12 229.2,255.5 C229.45,255.88 229.86,260.43 230.1,260.8 C230.34,261.17 230.66,258.85 230.9,258.1 C231.14,257.35 231.55,254.38 231.8,255.5 C232.06,256.62 232.44,262.53 232.7,266 C232.95,269.47 233.29,277.32 233.6,280 C233.91,282.68 234.59,284.4 234.9,284.9 C235.21,285.4 235.55,286.67 235.8,283.5 C236.06,280.33 236.49,266.78 236.7,262.5 C236.91,258.22 237.12,253.92 237.3,253.3 C237.48,252.68 237.8,256.05 238,258.1 C238.2,260.15 238.52,266.19 238.7,267.8 C238.88,269.42 239.14,268.76 239.3,269.5 C239.46,270.24 239.62,271.63 239.8,273 C239.98,274.37 240.3,277.46 240.6,279.2 C240.9,280.94 241.52,284.19 241.9,285.3 C242.28,286.41 242.92,286.63 243.3,287 C243.68,287.37 244.29,288.4 244.6,287.9 C244.91,287.4 245.26,284.68 245.5,283.5 C245.74,282.32 246.06,279.6 246.3,279.6 C246.54,279.6 246.89,282.56 247.2,283.5 C247.51,284.44 248.06,285.63 248.5,286.2 C248.94,286.77 249.73,287.26 250.3,287.5 C250.87,287.74 251.95,287.97 252.5,287.9 C253.05,287.83 253.77,286.75 254.2,287 C254.62,287.25 255.06,289.26 255.5,289.7 C255.94,290.14 256.68,289.99 257.3,290.1 C257.92,290.21 259.16,290.46 259.9,290.5 C260.64,290.54 261.95,290.58 262.5,290.4 C263.05,290.22 263.3,289.3 263.8,289.2 C264.3,289.1 265.31,289.57 266,289.7 C266.69,289.83 267.95,290.1 268.7,290.1 C269.45,290.1 270.69,289.83 271.3,289.7 C271.91,289.57 272.5,289.14 273,289.2 C273.5,289.26 274.18,289.93 274.8,290.1 C275.42,290.27 276.66,290.36 277.4,290.4 C278.14,290.44 279.48,291.25 280,290.4 C280.52,289.55 280.85,285.49 281.1,284.4 C281.36,283.31 281.57,282.33 281.8,282.7 C282.03,283.07 282.47,288.62 282.7,287 C282.93,285.38 283.22,275.14 283.4,271.3 C283.58,267.46 283.79,262.14 284,259.9 C284.21,257.66 284.69,256.25 284.9,255.5 C285.11,254.75 285.32,254.23 285.5,254.6 C285.68,254.97 285.97,255.73 286.2,258.1 C286.43,260.47 286.85,268.2 287.1,271.3 C287.36,274.4 287.76,277.89 288,280 C288.24,282.11 288.5,285.08 288.8,286.2 C289.1,287.32 289.85,287.6 290.1,287.9 C290.36,288.2 290.35,288.3 290.6,288.3 C290.86,288.3 291.59,288.89 291.9,287.9 C292.21,286.91 292.57,283.35 292.8,281.3 C293.03,279.25 293.32,273.27 293.5,273.4 C293.68,273.53 293.89,280.22 294.1,282.2 C294.31,284.18 294.69,286.48 295,287.4 C295.31,288.32 295.86,288.52 296.3,288.7 C296.74,288.88 297.66,288.57 298.1,288.7 C298.54,288.83 298.97,289.35 299.4,289.6 C299.82,289.86 300.55,290.32 301.1,290.5 C301.65,290.68 302.86,291.34 303.3,290.9 C303.74,290.46 303.99,289.75 304.2,287.4 C304.41,285.05 304.64,277.28 304.8,274.3 C304.96,271.32 305.13,266.03 305.3,266.4 C305.47,266.77 305.82,274.17 306,276.9 C306.18,279.63 306.36,284.58 306.6,285.7 C306.84,286.82 307.36,284.62 307.7,284.8 C308.04,284.98 308.63,286.5 309,287 C309.37,287.5 309.93,288.24 310.3,288.3 C310.67,288.36 311.22,287.34 311.6,287.4 C311.98,287.46 312.62,289.07 313,288.7 C313.38,288.33 313.93,286.6 314.3,284.8 C314.67,283 315.29,276.5 315.6,276 C315.91,275.5 316.19,279.81 316.5,281.3 C316.81,282.79 317.49,286.75 317.8,286.5 C318.11,286.25 318.39,280.73 318.7,279.5 C319.01,278.27 319.7,278.17 320,277.8 C320.3,277.43 320.56,278.64 320.8,276.9 C321.04,275.16 321.44,267.74 321.7,265.5 C321.95,263.26 322.35,260.73 322.6,261.1 C322.86,261.47 323.29,268.34 323.5,268.1 C323.71,267.86 323.92,260.89 324.1,259.4 C324.28,257.91 324.6,257.73 324.8,257.6 C325,257.47 325.26,256.76 325.5,258.5 C325.74,260.24 326.23,266.92 326.5,269.9 C326.77,272.88 327.17,281.12 327.4,279.5 C327.63,277.88 327.92,260.48 328.1,258.5 C328.28,256.52 328.49,263.88 328.7,265.5 C328.91,267.12 329.35,270.4 329.6,269.9 C329.86,269.4 330.25,264.05 330.5,262 C330.75,259.95 331.16,254.9 331.4,255.4 C331.64,255.9 331.96,262.45 332.2,265.5 C332.44,268.55 332.79,274.04 333.1,276.9 C333.41,279.76 334.03,284.08 334.4,285.7 C334.77,287.31 335.32,288.19 335.7,288.3 C336.08,288.41 336.72,287.86 337.1,286.5 C337.48,285.14 338.1,280.92 338.4,278.7 C338.7,276.48 338.96,273.41 339.2,270.8 C339.44,268.19 339.9,262.48 340.1,260.3 C340.3,258.12 340.44,255.53 340.6,255.4 C340.76,255.27 340.99,257.22 341.2,259.4 C341.41,261.58 341.89,268.69 342.1,270.8 C342.31,272.91 342.49,272.32 342.7,274.3 C342.91,276.28 343.29,282.69 343.6,284.8 C343.91,286.91 344.46,288.39 344.9,289.2 C345.34,290.01 346.26,290.29 346.7,290.5 C347.14,290.71 347.49,290.64 348,290.7 C348.51,290.76 349.61,290.74 350.3,290.9 C350.99,291.06 352.16,291.55 352.9,291.8 C353.64,292.06 354.64,292.46 355.5,292.7 C356.36,292.94 358.01,293.29 359,293.5 C359.99,293.71 361.51,294.26 362.5,294.2 C363.49,294.14 364.94,293.21 366,293.1 C367.06,292.99 368.88,293.34 370,293.4 C371.12,293.46 373.09,293.85 373.9,293.5 C374.71,293.15 375.26,291.51 375.7,290.9 C376.14,290.29 376.63,289.82 377,289.2 C377.37,288.58 377.99,287.25 378.3,286.5 C378.61,285.75 378.89,284.89 379.2,283.9 C379.51,282.91 380.13,280.49 380.5,279.5 C380.87,278.51 381.47,277.27 381.8,276.9 C382.13,276.53 382.56,276.28 382.8,276.9 C383.04,277.52 383.3,280.18 383.5,281.3 C383.7,282.42 384,285.79 384.2,284.8 C384.4,283.81 384.72,277.35 384.9,274.3 C385.08,271.25 385.32,263.3 385.5,263.3 C385.68,263.3 385.99,271.25 386.2,274.3 C386.41,277.35 386.73,282.87 387,284.8 C387.27,286.73 387.85,288.4 388.1,287.9 C388.36,287.4 388.6,284.22 388.8,281.3 C389,278.38 389.32,270.59 389.5,267.3 C389.68,264.01 389.94,258.85 390.1,258.1 C390.26,257.35 390.44,259.61 390.6,262 C390.76,264.39 390.96,271.59 391.2,275 C391.44,278.41 391.9,284.22 392.3,286.1 C392.7,287.98 393.56,287.86 394,288.3 C394.44,288.74 395.02,289.45 395.4,289.2 C395.78,288.94 396.39,287.62 396.7,286.5 C397.01,285.38 397.42,283.41 397.6,281.3 C397.78,279.19 397.86,272.35 398,271.6 C398.14,270.85 398.42,276.86 398.6,276 C398.78,275.14 399.12,264.75 399.3,265.5 C399.48,266.25 399.72,278.2 399.9,281.3 C400.08,284.4 400.37,286.28 400.6,287.4 C400.83,288.52 401.32,291.06 401.5,289.2 C401.68,287.34 401.77,278.65 401.9,274.3 C402.03,269.95 402.23,256.52 402.4,258.5 C402.57,260.48 402.79,283.77 403.1,288.3 C403.41,292.83 404.01,290.06 404.6,290.5 C405.19,290.94 406.55,291.22 407.3,291.4 C408.05,291.58 409.16,291.69 409.9,291.8 C410.64,291.91 411.76,292.02 412.5,292.2 C413.24,292.38 414.53,292.85 415.1,293.1 C415.67,293.36 416.06,294.13 416.5,294 C416.94,293.87 417.7,292.77 418.2,292.2 C418.7,291.63 419.5,290.18 420,290 C420.5,289.82 421.15,290.7 421.7,290.9 C422.25,291.1 423.35,291.4 423.9,291.4 C424.45,291.4 425.1,291.1 425.6,290.9 C426.1,290.7 426.96,290.37 427.4,290 C427.84,289.63 428.33,289.04 428.7,288.3 C429.07,287.56 429.69,285.79 430,284.8 C430.31,283.81 430.64,282.29 430.9,281.3 C431.15,280.31 431.57,278.55 431.8,277.8 C432.03,277.05 432.32,275.5 432.5,276 C432.68,276.5 432.89,279.81 433.1,281.3 C433.31,282.79 433.76,285.56 434,286.5 C434.24,287.44 434.62,289.39 434.8,287.9 C434.98,286.41 435.09,279.05 435.3,276 C435.51,272.95 436.06,267.14 436.3,266.4 C436.54,265.66 436.8,268.82 437,270.8 C437.2,272.78 437.52,278.91 437.7,280.4 C437.88,281.89 438.14,284.03 438.3,281.3 C438.46,278.57 438.6,264.64 438.8,261.1 C439,257.56 439.39,257.16 439.7,256.3 C440.01,255.44 440.73,254.93 441,255 C441.27,255.07 441.42,254.07 441.6,256.8 C441.78,259.53 442.07,270.09 442.3,274.3 C442.53,278.51 442.89,284.39 443.2,286.5 C443.51,288.61 444,288.7 444.5,289.2 C445,289.7 446.02,289.69 446.7,290 C447.38,290.31 448.44,291.02 449.3,291.4 C450.16,291.78 452.3,292.52 452.8,292.7" fill="none" stroke="#1a1a1a" stroke-width="1.05" stroke-linejoin="round" stroke-linecap="round"/>
<path d="M454.6,271.6 C454.69,270.37 455.06,262.77 455.2,262.9 C455.34,263.03 455.47,269.16 455.6,272.5 C455.73,275.84 455.87,284.02 456.1,286.5 C456.33,288.98 456.93,289.43 457.2,290 C457.47,290.57 457.52,290.25 458,290.5 C458.48,290.75 459.85,291.49 460.6,291.8 C461.35,292.11 462.55,292.46 463.3,292.7 C464.05,292.94 465.16,293.32 465.9,293.5 C466.64,293.68 467.76,294.11 468.5,294 C469.24,293.89 470.42,292.77 471.1,292.7 C471.78,292.63 472.68,293.44 473.3,293.5 C473.92,293.56 474.82,293.1 475.5,293.1 C476.18,293.1 477.42,293.32 478.1,293.5 C478.78,293.68 479.8,294.64 480.3,294.4 C480.8,294.16 481.22,292.3 481.6,291.8 C481.98,291.3 482.56,290.96 483,290.9 C483.44,290.84 484.27,292.26 484.7,291.4 C485.12,290.54 485.69,286.49 486,284.8 C486.31,283.11 486.64,281.12 486.9,279.5 C487.15,277.88 487.57,274.39 487.8,273.4 C488.03,272.41 488.32,271.38 488.5,272.5 C488.68,273.62 488.93,282.29 489.1,281.3 C489.27,280.31 489.52,269.35 489.7,265.5 C489.88,261.65 490.2,255.33 490.4,254.1 C490.6,252.87 490.92,255.19 491.1,256.8 C491.28,258.42 491.49,262.65 491.7,265.5 C491.91,268.35 492.35,275.03 492.6,276.9 C492.86,278.77 493.26,277.95 493.5,278.7 C493.74,279.45 494.06,281.21 494.3,282.2 C494.54,283.19 494.94,284.84 495.2,285.7 C495.45,286.56 495.85,289.55 496.1,288.3 C496.36,287.05 496.75,278.39 497,276.9 C497.25,275.41 497.66,276.19 497.9,277.8 C498.14,279.42 498.4,287.07 498.7,288.3 C499,289.53 499.62,287 500,286.5 C500.38,286 501.09,284.55 501.4,284.8 C501.71,285.06 501.96,289.48 502.2,288.3 C502.44,287.12 502.85,276.87 503.1,276.5 C503.36,276.13 503.69,285.15 504,285.7 C504.31,286.25 504.99,280.29 505.3,280.4 C505.61,280.51 505.89,285.38 506.2,286.5 C506.51,287.62 507.13,288.1 507.5,288.3 C507.87,288.5 508.46,288.52 508.8,287.9 C509.14,287.28 509.64,284.59 509.9,283.9 C510.15,283.21 510.39,282.25 510.6,283 C510.81,283.75 511.03,288.08 511.4,289.2 C511.77,290.32 512.58,290.53 513.2,290.9 C513.82,291.27 515.18,291.93 515.8,291.8 C516.42,291.67 517.09,290 517.6,290 C518.11,290 518.83,291.42 519.4,291.8 C519.97,292.18 520.98,292.46 521.6,292.7 C522.22,292.94 523.19,293.44 523.8,293.5 C524.41,293.56 525.4,293.28 525.9,293.1 C526.4,292.92 526.86,292.14 527.3,292.2 C527.74,292.26 528.58,293.81 529,293.5 C529.42,293.19 529.99,290.3 530.3,290 C530.61,289.7 530.89,291.2 531.2,291.4 C531.51,291.6 532.13,291.71 532.5,291.4 C532.87,291.09 533.49,290.39 533.8,289.2 C534.11,288.01 534.45,284.74 534.7,283 C534.96,281.26 535.29,277.89 535.6,276.9 C535.91,275.91 536.56,276.75 536.9,276 C537.24,275.25 537.76,271.84 538,271.6 C538.24,271.36 538.39,274.8 538.6,274.3 C538.81,273.8 539.25,269.22 539.5,268.1 C539.75,266.98 540.17,267.26 540.4,266.4 C540.63,265.54 540.92,263.36 541.1,262 C541.28,260.64 541.53,257.3 541.7,256.8 C541.87,256.3 542.13,256.64 542.3,258.5 C542.47,260.36 542.73,266.67 542.9,269.9 C543.07,273.13 543.3,278.82 543.5,281.3 C543.7,283.78 543.99,286.28 544.3,287.4 C544.61,288.52 545.32,288.94 545.7,289.2 C546.08,289.45 546.7,290.08 547,289.2 C547.3,288.32 547.62,286.36 547.8,283 C547.98,279.64 548.17,269.52 548.3,265.5 C548.43,261.48 548.56,255.22 548.7,254.6 C548.84,253.98 549.13,257.69 549.3,261.1 C549.47,264.51 549.73,275.1 549.9,278.7 C550.07,282.3 550.23,284.96 550.5,286.5 C550.77,288.04 551.38,289.03 551.8,289.6 C552.22,290.17 553,290.44 553.5,290.5 C554,290.56 554.8,289.94 555.3,290 C555.8,290.06 556.5,290.64 557,290.9 C557.5,291.15 558.18,291.55 558.8,291.8 C559.42,292.06 561.03,292.57 561.4,292.7" fill="none" stroke="#1a1a1a" stroke-width="1.05" stroke-linejoin="round" stroke-linecap="round"/>
<path d="M568.8,294.4 C569.1,294.27 570.4,294.12 570.9,293.5 C571.4,292.88 571.92,290.24 572.3,290 C572.68,289.76 573.18,291.73 573.6,291.8 C574.02,291.87 574.88,290.63 575.3,290.5 C575.72,290.37 576.29,290.97 576.6,290.9 C576.91,290.83 577.19,289.93 577.5,290 C577.81,290.07 578.43,291.9 578.8,291.4 C579.17,290.9 579.79,287 580.1,286.5 C580.41,286 580.75,288.01 581,287.9 C581.25,287.79 581.64,285.83 581.9,285.7 C582.15,285.57 582.57,287.5 582.8,287 C583.03,286.5 583.32,282.02 583.5,282.2 C583.68,282.38 583.89,288.43 584.1,288.3 C584.31,288.17 584.76,283.04 585,281.3 C585.24,279.56 585.56,276.37 585.8,276 C586.04,275.63 586.4,279.2 586.7,278.7 C587,278.2 587.64,273.87 587.9,272.5 C588.15,271.13 588.33,268.75 588.5,269 C588.67,269.25 588.92,272.93 589.1,274.3 C589.28,275.67 589.64,277.21 589.8,278.7 C589.96,280.19 590.07,286.05 590.2,284.8 C590.33,283.55 590.57,272.82 590.7,269.9 C590.83,266.98 590.96,264.07 591.1,264.2 C591.24,264.33 591.54,268.87 591.7,270.8 C591.86,272.73 592.07,276.31 592.2,277.8 C592.33,279.29 592.47,281.92 592.6,281.3 C592.73,280.68 592.94,274.65 593.1,273.4 C593.26,272.15 593.49,272.37 593.7,272.5 C593.91,272.63 594.47,274.05 594.6,274.3" fill="none" stroke="#1a1a1a" stroke-width="1.05" stroke-linejoin="round" stroke-linecap="round"/>
<rect x="46.4" y="227.2" width="574.8" height="74.1" fill="none" stroke="#d2d2d2" stroke-width="1"/>
<line x1="46.4" y1="226.7" x2="46.4" y2="301.8" stroke="#a9a9a9" stroke-width="1.0" />
<line x1="44.4" y1="230.4" x2="46.4" y2="230.4" stroke="#a9a9a9" stroke-width="0.8" />
<text x="44.5" y="236.9" font-size="10.9" text-anchor="end" fill="#222" font-weight="normal" >50</text>
<line x1="44.4" y1="264.5" x2="46.4" y2="264.5" stroke="#a9a9a9" stroke-width="0.8" />
<text x="44.5" y="270.4" font-size="10.9" text-anchor="end" fill="#222" font-weight="normal" >25</text>
<line x1="44.4" y1="298.4" x2="46.4" y2="298.4" stroke="#a9a9a9" stroke-width="0.8" />
<text x="44.5" y="304.7" font-size="10.9" text-anchor="end" fill="#222" font-weight="normal" >0</text>
<line x1="85.77" y1="301.3" x2="85.77" y2="303.3" stroke="#999" stroke-width="0.8" />
<line x1="137.5" y1="301.3" x2="137.5" y2="303.3" stroke="#999" stroke-width="0.8" />
<line x1="189.23" y1="301.3" x2="189.23" y2="303.3" stroke="#999" stroke-width="0.8" />
<line x1="240.96" y1="301.3" x2="240.96" y2="303.3" stroke="#999" stroke-width="0.8" />
<line x1="292.69" y1="301.3" x2="292.69" y2="303.3" stroke="#999" stroke-width="0.8" />
<line x1="344.41" y1="301.3" x2="344.41" y2="303.3" stroke="#999" stroke-width="0.8" />
<line x1="396.14" y1="301.3" x2="396.14" y2="303.3" stroke="#999" stroke-width="0.8" />
<line x1="447.87" y1="301.3" x2="447.87" y2="303.3" stroke="#999" stroke-width="0.8" />
<line x1="499.6" y1="301.3" x2="499.6" y2="303.3" stroke="#999" stroke-width="0.8" />
<line x1="551.33" y1="301.3" x2="551.33" y2="303.3" stroke="#999" stroke-width="0.8" />
<line x1="603.06" y1="301.3" x2="603.06" y2="303.3" stroke="#999" stroke-width="0.8" />
<rect x="622" y="226.9" width="16.7" height="79.1" fill="#000" />
<rect x="622" y="304.1" width="16.7" height="2" fill="#000" />
<rect x="623.9" y="228.8" width="12.3" height="75.3" fill="#40ff0a" />
<text transform="translate(626.1,266.45) rotate(90)" font-size="10.9" text-anchor="middle" fill="#1a1a1a">H14</text>
<text x="640.5" y="237.3" font-size="11.1" text-anchor="start" fill="#222" font-weight="normal" >412</text>
<text x="640.5" y="302.1" font-size="11.1" text-anchor="start" fill="#222" font-weight="normal" >406</text>
<line x1="47.7" y1="319.95" x2="621.2" y2="319.95" stroke="#f4f4f4" stroke-width="0.5" />
<line x1="47.7" y1="342.55" x2="621.2" y2="342.55" stroke="#f4f4f4" stroke-width="0.5" />
<line x1="47.7" y1="365.35" x2="621.2" y2="365.35" stroke="#f4f4f4" stroke-width="0.5" />
<line x1="47.7" y1="308.6" x2="621.2" y2="308.6" stroke="#ebebeb" stroke-width="0.6" />
<line x1="47.7" y1="331.3" x2="621.2" y2="331.3" stroke="#ebebeb" stroke-width="0.6" />
<line x1="47.7" y1="353.8" x2="621.2" y2="353.8" stroke="#ebebeb" stroke-width="0.6" />
<line x1="47.7" y1="376.9" x2="621.2" y2="376.9" stroke="#ebebeb" stroke-width="0.6" />
<line x1="60.55" y1="304.9" x2="60.55" y2="379.2" stroke="#f4f4f4" stroke-width="0.5" />
<line x1="112.65" y1="304.9" x2="112.65" y2="379.2" stroke="#f4f4f4" stroke-width="0.5" />
<line x1="164.75" y1="304.9" x2="164.75" y2="379.2" stroke="#f4f4f4" stroke-width="0.5" />
<line x1="216.85" y1="304.9" x2="216.85" y2="379.2" stroke="#f4f4f4" stroke-width="0.5" />
<line x1="268.95" y1="304.9" x2="268.95" y2="379.2" stroke="#f4f4f4" stroke-width="0.5" />
<line x1="321.05" y1="304.9" x2="321.05" y2="379.2" stroke="#f4f4f4" stroke-width="0.5" />
<line x1="373.15" y1="304.9" x2="373.15" y2="379.2" stroke="#f4f4f4" stroke-width="0.5" />
<line x1="425.25" y1="304.9" x2="425.25" y2="379.2" stroke="#f4f4f4" stroke-width="0.5" />
<line x1="477.35" y1="304.9" x2="477.35" y2="379.2" stroke="#f4f4f4" stroke-width="0.5" />
<line x1="529.45" y1="304.9" x2="529.45" y2="379.2" stroke="#f4f4f4" stroke-width="0.5" />
<line x1="581.55" y1="304.9" x2="581.55" y2="379.2" stroke="#f4f4f4" stroke-width="0.5" />
<line x1="86.6" y1="304.9" x2="86.6" y2="379.2" stroke="#ebebeb" stroke-width="0.6" />
<line x1="138.7" y1="304.9" x2="138.7" y2="379.2" stroke="#ebebeb" stroke-width="0.6" />
<line x1="190.8" y1="304.9" x2="190.8" y2="379.2" stroke="#ebebeb" stroke-width="0.6" />
<line x1="242.9" y1="304.9" x2="242.9" y2="379.2" stroke="#ebebeb" stroke-width="0.6" />
<line x1="295" y1="304.9" x2="295" y2="379.2" stroke="#ebebeb" stroke-width="0.6" />
<line x1="347.1" y1="304.9" x2="347.1" y2="379.2" stroke="#ebebeb" stroke-width="0.6" />
<line x1="399.2" y1="304.9" x2="399.2" y2="379.2" stroke="#ebebeb" stroke-width="0.6" />
<line x1="451.3" y1="304.9" x2="451.3" y2="379.2" stroke="#ebebeb" stroke-width="0.6" />
<line x1="503.4" y1="304.9" x2="503.4" y2="379.2" stroke="#ebebeb" stroke-width="0.6" />
<line x1="555.5" y1="304.9" x2="555.5" y2="379.2" stroke="#ebebeb" stroke-width="0.6" />
<line x1="607.6" y1="304.9" x2="607.6" y2="379.2" stroke="#ebebeb" stroke-width="0.6" />
<rect x="74.75" y="374" width="2.7" height="2.8" fill="#c4aff8" />
<rect x="74.75" y="366" width="2.7" height="8" fill="#9577be" />
<rect x="74.75" y="365.3" width="2.7" height="0.7" fill="#88ff70" />
<rect x="74.75" y="360" width="2.7" height="5.3" fill="#d9d9d9" />
<rect x="79.15" y="375.8" width="2.7" height="1" fill="#f46268" />
<rect x="79.15" y="354.8" width="2.7" height="21" fill="#c4aff8" />
<rect x="79.15" y="343.8" width="2.7" height="11" fill="#9577be" />
<rect x="79.15" y="339" width="2.7" height="4.8" fill="#d9d9d9" />
<rect x="86.15" y="375.8" width="2.7" height="1" fill="#f46268" />
<rect x="86.15" y="374.9" width="2.7" height="0.9" fill="#c4aff8" />
<rect x="86.15" y="363.1" width="2.7" height="11.8" fill="#9577be" />
<rect x="86.15" y="358.7" width="2.7" height="4.4" fill="#d9d9d9" />
<rect x="94.35" y="374.9" width="2.7" height="1.9" fill="#c4aff8" />
<rect x="94.35" y="356.1" width="2.7" height="18.8" fill="#9577be" />
<rect x="94.35" y="352.2" width="2.7" height="3.9" fill="#d9d9d9" />
<rect x="98.25" y="372.7" width="2.7" height="4.1" fill="#c4aff8" />
<rect x="98.25" y="360.9" width="2.7" height="11.8" fill="#9577be" />
<rect x="98.25" y="359.2" width="2.7" height="1.7" fill="#d9d9d9" />
<rect x="102.15" y="375.8" width="2.7" height="1" fill="#f46268" />
<rect x="102.15" y="369.7" width="2.7" height="6.1" fill="#c4aff8" />
<rect x="102.15" y="362.7" width="2.7" height="7" fill="#9577be" />
<rect x="106.35" y="374" width="2.7" height="2.8" fill="#c4aff8" />
<rect x="106.35" y="372.7" width="2.7" height="1.3" fill="#9577be" />
<rect x="106.35" y="371.4" width="2.7" height="1.3" fill="#d9d9d9" />
<rect x="110.25" y="375.8" width="2.7" height="1" fill="#f46268" />
<rect x="110.25" y="370.6" width="2.7" height="5.2" fill="#c4aff8" />
<rect x="110.25" y="365.7" width="2.7" height="4.9" fill="#9577be" />
<rect x="110.25" y="364" width="2.7" height="1.7" fill="#d9d9d9" />
<rect x="114.15" y="371" width="2.7" height="5.8" fill="#c4aff8" />
<rect x="114.15" y="368.8" width="2.7" height="2.2" fill="#9577be" />
<rect x="114.15" y="367" width="2.7" height="1.8" fill="#88ff70" />
<rect x="114.15" y="364" width="2.7" height="3" fill="#d9d9d9" />
<rect x="118.15" y="371.9" width="2.7" height="4.9" fill="#c4aff8" />
<rect x="118.15" y="369.7" width="2.7" height="2.2" fill="#9577be" />
<rect x="118.15" y="367.5" width="2.7" height="2.2" fill="#88ff70" />
<rect x="118.15" y="364" width="2.7" height="3.5" fill="#d9d9d9" />
<rect x="122.25" y="373.2" width="2.7" height="3.6" fill="#c4aff8" />
<rect x="122.25" y="372.3" width="2.7" height="0.9" fill="#9577be" />
<rect x="122.25" y="371.4" width="2.7" height="0.9" fill="#88ff70" />
<rect x="122.25" y="370.4" width="2.7" height="1" fill="#d9d9d9" />
<rect x="126.25" y="375.8" width="2.7" height="1" fill="#f46268" />
<rect x="126.25" y="370.1" width="2.7" height="5.7" fill="#c4aff8" />
<rect x="126.25" y="363.1" width="2.7" height="7" fill="#9577be" />
<rect x="126.25" y="361.4" width="2.7" height="1.7" fill="#88ff70" />
<rect x="126.25" y="356.1" width="2.7" height="5.3" fill="#d9d9d9" />
<rect x="130.25" y="375" width="2.7" height="1.8" fill="#f46268" />
<rect x="130.25" y="370.6" width="2.7" height="4.4" fill="#c4aff8" />
<rect x="130.25" y="362.2" width="2.7" height="8.4" fill="#9577be" />
<rect x="130.25" y="359.2" width="2.7" height="3" fill="#d9d9d9" />
<rect x="134.15" y="375.8" width="2.7" height="1" fill="#f46268" />
<rect x="134.15" y="374.1" width="2.7" height="1.7" fill="#c4aff8" />
<rect x="134.15" y="368.8" width="2.7" height="5.3" fill="#9577be" />
<rect x="134.15" y="368.4" width="2.7" height="0.4" fill="#88ff70" />
<rect x="138.35" y="374.9" width="2.7" height="1.9" fill="#c4aff8" />
<rect x="138.35" y="368.1" width="2.7" height="6.8" fill="#9577be" />
<rect x="138.35" y="367" width="2.7" height="1.1" fill="#88ff70" />
<rect x="138.35" y="363.5" width="2.7" height="3.5" fill="#d9d9d9" />
<rect x="142.25" y="375.8" width="2.7" height="1" fill="#f46268" />
<rect x="142.25" y="367.9" width="2.7" height="7.9" fill="#c4aff8" />
<rect x="142.25" y="357" width="2.7" height="10.9" fill="#9577be" />
<rect x="142.25" y="342.5" width="2.7" height="14.5" fill="#88ff70" />
<rect x="142.25" y="329" width="2.7" height="13.5" fill="#d9d9d9" />
<rect x="146.15" y="375.8" width="2.7" height="1" fill="#f46268" />
<rect x="146.15" y="374.9" width="2.7" height="0.9" fill="#c4aff8" />
<rect x="146.15" y="373" width="2.7" height="1.9" fill="#9577be" />
<rect x="150.15" y="373.2" width="2.7" height="3.6" fill="#c4aff8" />
<rect x="150.15" y="371" width="2.7" height="2.2" fill="#9577be" />
<rect x="150.15" y="369.7" width="2.7" height="1.3" fill="#88ff70" />
<rect x="150.15" y="368.4" width="2.7" height="1.3" fill="#d9d9d9" />
<rect x="154.15" y="375" width="2.7" height="1.8" fill="#f46268" />
<rect x="154.15" y="372.7" width="2.7" height="2.3" fill="#c4aff8" />
<rect x="154.15" y="370.1" width="2.7" height="2.6" fill="#9577be" />
<rect x="158.25" y="375.8" width="2.7" height="1" fill="#c4aff8" />
<rect x="162.15" y="371.9" width="2.7" height="4.9" fill="#c4aff8" />
<rect x="162.15" y="367" width="2.7" height="4.9" fill="#9577be" />
<rect x="166.15" y="372.7" width="2.7" height="4.1" fill="#c4aff8" />
<rect x="166.15" y="371.9" width="2.7" height="0.8" fill="#9577be" />
<rect x="166.15" y="371.4" width="2.7" height="0.5" fill="#d9d9d9" />
<rect x="174.25" y="370.6" width="2.7" height="6.2" fill="#c4aff8" />
<rect x="174.25" y="368" width="2.7" height="2.6" fill="#9577be" />
<rect x="174.25" y="367.5" width="2.7" height="0.5" fill="#88ff70" />
<rect x="178.15" y="369.7" width="2.7" height="7.1" fill="#c4aff8" />
<rect x="178.15" y="321.9" width="2.7" height="47.8" fill="#9577be" />
<rect x="178.15" y="318.9" width="2.7" height="3" fill="#d9d9d9" />
<rect x="182.15" y="365.7" width="2.7" height="11.1" fill="#c4aff8" />
<rect x="182.15" y="361.8" width="2.7" height="3.9" fill="#9577be" />
<rect x="186.05" y="374.7" width="2.7" height="2.1" fill="#c4aff8" />
<rect x="186.05" y="371.5" width="2.7" height="3.2" fill="#9577be" />
<rect x="186.05" y="370.6" width="2.7" height="0.9" fill="#88ff70" />
<rect x="190.05" y="374.7" width="2.7" height="2.1" fill="#ad92dc" />
<rect x="194.05" y="374.52" width="2.7" height="2.28" fill="#c4aff8" />
<rect x="194.05" y="371.1" width="2.7" height="3.42" fill="#9577be" />
<rect x="198.15" y="375" width="2.7" height="1.8" fill="#c4aff8" />
<rect x="198.15" y="372.3" width="2.7" height="2.7" fill="#9577be" />
<rect x="202.15" y="373.04" width="2.7" height="3.76" fill="#c4aff8" />
<rect x="202.15" y="367.4" width="2.7" height="5.64" fill="#9577be" />
<rect x="206.15" y="373.88" width="2.7" height="2.92" fill="#c4aff8" />
<rect x="206.15" y="369.5" width="2.7" height="4.38" fill="#9577be" />
<rect x="210.15" y="376" width="2.7" height="0.8" fill="#f46268" />
<rect x="210.15" y="369.8" width="2.7" height="6.2" fill="#c4aff8" />
<rect x="210.15" y="364.5" width="2.7" height="5.3" fill="#9577be" />
<rect x="210.15" y="363.4" width="2.7" height="1.1" fill="#d9d9d9" />
<rect x="214.15" y="358.6" width="2.7" height="18.2" fill="#c4aff8" />
<rect x="214.15" y="352.5" width="2.7" height="6.1" fill="#9577be" />
<rect x="218.15" y="373.36" width="2.7" height="3.44" fill="#c4aff8" />
<rect x="218.15" y="368.2" width="2.7" height="5.16" fill="#9577be" />
<rect x="222.25" y="374.7" width="2.7" height="2.1" fill="#88ff70" />
<rect x="230.25" y="374.7" width="2.7" height="2.1" fill="#c4aff8" />
<rect x="230.25" y="366.3" width="2.7" height="8.4" fill="#9577be" />
<rect x="230.25" y="364" width="2.7" height="2.3" fill="#88ff70" />
<rect x="230.25" y="362.6" width="2.7" height="1.4" fill="#d9d9d9" />
<rect x="234.25" y="375.5" width="2.7" height="1.3" fill="#f46268" />
<rect x="234.25" y="369.8" width="2.7" height="5.7" fill="#c4aff8" />
<rect x="234.25" y="344.1" width="2.7" height="25.7" fill="#9577be" />
<rect x="234.25" y="339.3" width="2.7" height="4.8" fill="#88ff70" />
<rect x="234.25" y="332.1" width="2.7" height="7.2" fill="#d9d9d9" />
<rect x="238.05" y="375.5" width="2.7" height="1.3" fill="#f46268" />
<rect x="238.05" y="362.6" width="2.7" height="12.9" fill="#c4aff8" />
<rect x="238.05" y="338" width="2.7" height="24.6" fill="#9577be" />
<rect x="238.05" y="334.5" width="2.7" height="3.5" fill="#88ff70" />
<rect x="238.05" y="328.9" width="2.7" height="5.6" fill="#d9d9d9" />
<rect x="242.25" y="374.2" width="2.7" height="2.6" fill="#c4aff8" />
<rect x="242.25" y="371.5" width="2.7" height="2.7" fill="#9577be" />
<rect x="242.25" y="369" width="2.7" height="2.5" fill="#88ff70" />
<rect x="246.15" y="374.7" width="2.7" height="2.1" fill="#ad92dc" />
<rect x="254.15" y="375.9" width="2.7" height="0.9" fill="#ad92dc" />
<rect x="258.15" y="374.5" width="2.7" height="2.3" fill="#c4aff8" />
<rect x="258.15" y="373.4" width="2.7" height="1.1" fill="#88ff70" />
<rect x="262.05" y="376" width="2.7" height="0.8" fill="#f46268" />
<rect x="262.05" y="374.7" width="2.7" height="1.3" fill="#c4aff8" />
<rect x="262.05" y="342.5" width="2.7" height="32.2" fill="#9577be" />
<rect x="262.05" y="340.6" width="2.7" height="1.9" fill="#d9d9d9" />
<rect x="266.05" y="374" width="2.7" height="2.8" fill="#c4aff8" />
<rect x="266.05" y="369.8" width="2.7" height="4.2" fill="#9577be" />
<rect x="270.05" y="375" width="2.7" height="1.8" fill="#c4aff8" />
<rect x="270.05" y="372.3" width="2.7" height="2.7" fill="#9577be" />
<rect x="274.05" y="375.16" width="2.7" height="1.64" fill="#c4aff8" />
<rect x="274.05" y="372.7" width="2.7" height="2.46" fill="#9577be" />
<rect x="278.05" y="374.7" width="2.7" height="2.1" fill="#ad92dc" />
<rect x="286.25" y="368.2" width="2.7" height="8.6" fill="#c4aff8" />
<rect x="286.25" y="364.2" width="2.7" height="4" fill="#9577be" />
<rect x="286.25" y="358.6" width="2.7" height="5.6" fill="#88ff70" />
<rect x="286.25" y="355.1" width="2.7" height="3.5" fill="#d9d9d9" />
<rect x="290.25" y="372.3" width="2.7" height="4.5" fill="#c4aff8" />
<rect x="290.25" y="365" width="2.7" height="7.3" fill="#9577be" />
<rect x="290.25" y="357.8" width="2.7" height="7.2" fill="#88ff70" />
<rect x="290.25" y="357" width="2.7" height="0.8" fill="#d9d9d9" />
<rect x="294.25" y="376" width="2.7" height="0.8" fill="#f46268" />
<rect x="294.25" y="375" width="2.7" height="1" fill="#c4aff8" />
<rect x="294.25" y="372.5" width="2.7" height="2.5" fill="#88ff70" />
<rect x="294.25" y="371.4" width="2.7" height="1.1" fill="#d9d9d9" />
<rect x="298.25" y="374.5" width="2.7" height="2.3" fill="#c4aff8" />
<rect x="298.25" y="373" width="2.7" height="1.5" fill="#88ff70" />
<rect x="302.35" y="372.7" width="2.7" height="4.1" fill="#9577be" />
<rect x="306.35" y="372.3" width="2.7" height="4.5" fill="#c4aff8" />
<rect x="306.35" y="367" width="2.7" height="5.3" fill="#9577be" />
<rect x="306.35" y="354.1" width="2.7" height="12.9" fill="#88ff70" />
<rect x="306.35" y="342.9" width="2.7" height="11.2" fill="#d9d9d9" />
<rect x="309.85" y="371.1" width="2.7" height="5.7" fill="#c4aff8" />
<rect x="309.85" y="368.2" width="2.7" height="2.9" fill="#9577be" />
<rect x="309.85" y="362.1" width="2.7" height="6.1" fill="#88ff70" />
<rect x="309.85" y="355.7" width="2.7" height="6.4" fill="#d9d9d9" />
<rect x="317.85" y="373" width="2.7" height="3.8" fill="#c4aff8" />
<rect x="317.85" y="371.5" width="2.7" height="1.5" fill="#88ff70" />
<rect x="317.85" y="369.8" width="2.7" height="1.7" fill="#d9d9d9" />
<rect x="325.95" y="369.8" width="2.7" height="7" fill="#c4aff8" />
<rect x="325.95" y="367" width="2.7" height="2.8" fill="#9577be" />
<rect x="325.95" y="364.8" width="2.7" height="2.2" fill="#88ff70" />
<rect x="325.95" y="362.6" width="2.7" height="2.2" fill="#d9d9d9" />
<rect x="329.95" y="369.8" width="2.7" height="7" fill="#c4aff8" />
<rect x="329.95" y="361" width="2.7" height="8.8" fill="#9577be" />
<rect x="329.95" y="358.6" width="2.7" height="2.4" fill="#88ff70" />
<rect x="329.95" y="356.7" width="2.7" height="1.9" fill="#d9d9d9" />
<rect x="333.95" y="372.5" width="2.7" height="4.3" fill="#c4aff8" />
<rect x="333.95" y="369.8" width="2.7" height="2.7" fill="#9577be" />
<rect x="333.95" y="366.5" width="2.7" height="3.3" fill="#88ff70" />
<rect x="333.95" y="365.3" width="2.7" height="1.2" fill="#d9d9d9" />
<rect x="337.95" y="373.5" width="2.7" height="3.3" fill="#c4aff8" />
<rect x="337.95" y="370.6" width="2.7" height="2.9" fill="#9577be" />
<rect x="337.95" y="369.2" width="2.7" height="1.4" fill="#88ff70" />
<rect x="337.95" y="367.1" width="2.7" height="2.1" fill="#d9d9d9" />
<rect x="341.95" y="376" width="2.7" height="0.8" fill="#f46268" />
<rect x="341.95" y="374.3" width="2.7" height="1.7" fill="#9577be" />
<rect x="346.45" y="374.7" width="2.7" height="2.1" fill="#ad92dc" />
<rect x="350.05" y="375.2" width="2.7" height="1.6" fill="#ad92dc" />
<rect x="354.05" y="374.3" width="2.7" height="2.5" fill="#ad92dc" />
<rect x="358.05" y="375.5" width="2.7" height="1.3" fill="#ad92dc" />
<rect x="361.95" y="369.8" width="2.7" height="7" fill="#c4aff8" />
<rect x="361.95" y="362.2" width="2.7" height="7.6" fill="#9577be" />
<rect x="365.85" y="370.6" width="2.7" height="6.2" fill="#c4aff8" />
<rect x="365.85" y="357.8" width="2.7" height="12.8" fill="#9577be" />
<rect x="369.85" y="371" width="2.7" height="5.8" fill="#c4aff8" />
<rect x="369.85" y="355.7" width="2.7" height="15.3" fill="#9577be" />
<rect x="373.95" y="369.8" width="2.7" height="7" fill="#c4aff8" />
<rect x="373.95" y="357.5" width="2.7" height="12.3" fill="#9577be" />
<rect x="373.95" y="356.7" width="2.7" height="0.8" fill="#d9d9d9" />
<rect x="377.95" y="374.52" width="2.7" height="2.28" fill="#c4aff8" />
<rect x="377.95" y="371.1" width="2.7" height="3.42" fill="#9577be" />
<rect x="381.95" y="367.4" width="2.7" height="9.4" fill="#c4aff8" />
<rect x="381.95" y="352.5" width="2.7" height="14.9" fill="#9577be" />
<rect x="381.95" y="350.9" width="2.7" height="1.6" fill="#88ff70" />
<rect x="385.95" y="374.64" width="2.7" height="2.16" fill="#c4aff8" />
<rect x="385.95" y="371.4" width="2.7" height="3.24" fill="#9577be" />
<rect x="389.95" y="373" width="2.7" height="3.8" fill="#c4aff8" />
<rect x="389.95" y="371.4" width="2.7" height="1.6" fill="#88ff70" />
<rect x="393.95" y="375.64" width="2.7" height="1.16" fill="#c4aff8" />
<rect x="393.95" y="373.9" width="2.7" height="1.74" fill="#9577be" />
<rect x="397.65" y="373.68" width="2.7" height="3.12" fill="#c4aff8" />
<rect x="397.65" y="369" width="2.7" height="4.68" fill="#9577be" />
<rect x="401.65" y="374" width="2.7" height="2.8" fill="#c4aff8" />
<rect x="401.65" y="372.3" width="2.7" height="1.7" fill="#88ff70" />
<rect x="405.75" y="374" width="2.7" height="2.8" fill="#c4aff8" />
<rect x="405.75" y="372.3" width="2.7" height="1.7" fill="#88ff70" />
<rect x="409.75" y="375.28" width="2.7" height="1.52" fill="#c4aff8" />
<rect x="409.75" y="373" width="2.7" height="2.28" fill="#9577be" />
<rect x="413.75" y="375" width="2.7" height="1.8" fill="#c4aff8" />
<rect x="413.75" y="372.3" width="2.7" height="2.7" fill="#9577be" />
<rect x="417.75" y="373" width="2.7" height="3.8" fill="#c4aff8" />
<rect x="417.75" y="372.3" width="2.7" height="0.7" fill="#9577be" />
<rect x="417.75" y="371.4" width="2.7" height="0.9" fill="#88ff70" />
<rect x="421.75" y="373.04" width="2.7" height="3.76" fill="#c4aff8" />
<rect x="421.75" y="367.4" width="2.7" height="5.64" fill="#9577be" />
<rect x="425.75" y="374" width="2.7" height="2.8" fill="#c4aff8" />
<rect x="425.75" y="369.8" width="2.7" height="4.2" fill="#9577be" />
<rect x="429.75" y="372.72" width="2.7" height="4.08" fill="#c4aff8" />
<rect x="429.75" y="366.6" width="2.7" height="6.12" fill="#9577be" />
<rect x="433.85" y="369.8" width="2.7" height="7" fill="#c4aff8" />
<rect x="433.85" y="361.5" width="2.7" height="8.3" fill="#9577be" />
<rect x="433.85" y="359.9" width="2.7" height="1.6" fill="#d9d9d9" />
<rect x="437.85" y="374" width="2.7" height="2.8" fill="#c4aff8" />
<rect x="437.85" y="369.8" width="2.7" height="4.2" fill="#9577be" />
<rect x="437.85" y="367.4" width="2.7" height="2.4" fill="#88ff70" />
<rect x="437.85" y="366.3" width="2.7" height="1.1" fill="#ff74ff" />
<rect x="437.85" y="364.2" width="2.7" height="2.1" fill="#d9d9d9" />
<rect x="441.85" y="374.7" width="2.7" height="2.1" fill="#88ff70" />
<rect x="445.85" y="375.64" width="2.7" height="1.16" fill="#c4aff8" />
<rect x="445.85" y="373.9" width="2.7" height="1.74" fill="#9577be" />
<rect x="449.85" y="373.5" width="2.7" height="3.3" fill="#c4aff8" />
<rect x="449.85" y="370.2" width="2.7" height="3.3" fill="#9577be" />
<rect x="449.85" y="368.7" width="2.7" height="1.5" fill="#88ff70" />
<rect x="449.85" y="367.4" width="2.7" height="1.3" fill="#d9d9d9" />
<rect x="453.85" y="375.28" width="2.7" height="1.52" fill="#c4aff8" />
<rect x="453.85" y="373" width="2.7" height="2.28" fill="#9577be" />
<rect x="457.75" y="376" width="2.7" height="0.8" fill="#f46268" />
<rect x="457.75" y="369.8" width="2.7" height="6.2" fill="#c4aff8" />
<rect x="457.75" y="355.1" width="2.7" height="14.7" fill="#9577be" />
<rect x="457.75" y="342.9" width="2.7" height="12.2" fill="#88ff70" />
<rect x="457.75" y="333.4" width="2.7" height="9.5" fill="#d9d9d9" />
<rect x="461.75" y="373.5" width="2.7" height="3.3" fill="#c4aff8" />
<rect x="461.75" y="371.5" width="2.7" height="2" fill="#9577be" />
<rect x="461.75" y="369.8" width="2.7" height="1.7" fill="#88ff70" />
<rect x="465.65" y="373.68" width="2.7" height="3.12" fill="#c4aff8" />
<rect x="465.65" y="369" width="2.7" height="4.68" fill="#9577be" />
<rect x="469.55" y="373.5" width="2.7" height="3.3" fill="#c4aff8" />
<rect x="469.55" y="370" width="2.7" height="3.5" fill="#9577be" />
<rect x="469.55" y="369" width="2.7" height="1" fill="#88ff70" />
<rect x="469.55" y="367.9" width="2.7" height="1.1" fill="#d9d9d9" />
<rect x="473.65" y="374.52" width="2.7" height="2.28" fill="#c4aff8" />
<rect x="473.65" y="371.1" width="2.7" height="3.42" fill="#9577be" />
<rect x="477.65" y="373.68" width="2.7" height="3.12" fill="#c4aff8" />
<rect x="477.65" y="369" width="2.7" height="4.68" fill="#9577be" />
<rect x="481.65" y="374.64" width="2.7" height="2.16" fill="#c4aff8" />
<rect x="481.65" y="371.4" width="2.7" height="3.24" fill="#9577be" />
<rect x="485.65" y="371.2" width="2.7" height="5.6" fill="#c4aff8" />
<rect x="485.65" y="367.7" width="2.7" height="3.5" fill="#9577be" />
<rect x="485.65" y="365.8" width="2.7" height="1.9" fill="#d9d9d9" />
<rect x="489.35" y="367.4" width="2.7" height="9.4" fill="#c4aff8" />
<rect x="489.35" y="361" width="2.7" height="6.4" fill="#9577be" />
<rect x="489.35" y="355.4" width="2.7" height="5.6" fill="#88ff70" />
<rect x="489.35" y="351.9" width="2.7" height="3.5" fill="#d9d9d9" />
<rect x="493.35" y="375.16" width="2.7" height="1.64" fill="#c4aff8" />
<rect x="493.35" y="372.7" width="2.7" height="2.46" fill="#9577be" />
<rect x="497.35" y="375" width="2.7" height="1.8" fill="#c4aff8" />
<rect x="497.35" y="371.5" width="2.7" height="3.5" fill="#9577be" />
<rect x="497.35" y="369.5" width="2.7" height="2" fill="#d9d9d9" />
<rect x="501.35" y="375" width="2.7" height="1.8" fill="#c4aff8" />
<rect x="501.35" y="372" width="2.7" height="3" fill="#9577be" />
<rect x="501.35" y="369.5" width="2.7" height="2.5" fill="#88ff70" />
<rect x="505.45" y="375" width="2.7" height="1.8" fill="#c4aff8" />
<rect x="505.45" y="373.4" width="2.7" height="1.6" fill="#88ff70" />
<rect x="509.45" y="374.7" width="2.7" height="2.1" fill="#ad92dc" />
<rect x="513.25" y="375.8" width="2.7" height="1" fill="#ad92dc" />
<rect x="517.25" y="374.3" width="2.7" height="2.5" fill="#ad92dc" />
<rect x="521.15" y="374" width="2.7" height="2.8" fill="#c4aff8" />
<rect x="521.15" y="372.3" width="2.7" height="1.7" fill="#9577be" />
<rect x="521.15" y="370.4" width="2.7" height="1.9" fill="#d9d9d9" />
<rect x="525.15" y="375.36" width="2.7" height="1.44" fill="#c4aff8" />
<rect x="525.15" y="373.2" width="2.7" height="2.16" fill="#9577be" />
<rect x="529.15" y="374.32" width="2.7" height="2.48" fill="#c4aff8" />
<rect x="529.15" y="370.6" width="2.7" height="3.72" fill="#9577be" />
<rect x="533.15" y="376" width="2.7" height="0.8" fill="#f46268" />
<rect x="533.15" y="368.2" width="2.7" height="7.8" fill="#c4aff8" />
<rect x="533.15" y="365.8" width="2.7" height="2.4" fill="#9577be" />
<rect x="533.15" y="365" width="2.7" height="0.8" fill="#d9d9d9" />
<rect x="539.15" y="370.5" width="2.7" height="6.3" fill="#c4aff8" />
<rect x="539.15" y="366" width="2.7" height="4.5" fill="#9577be" />
<rect x="545.25" y="372.3" width="2.7" height="4.5" fill="#c4aff8" />
<rect x="545.25" y="369" width="2.7" height="3.3" fill="#9577be" />
<rect x="545.25" y="367.4" width="2.7" height="1.6" fill="#88ff70" />
<rect x="545.25" y="366" width="2.7" height="1.4" fill="#d9d9d9" />
<rect x="551.15" y="376" width="2.7" height="0.8" fill="#f46268" />
<rect x="551.15" y="375.5" width="2.7" height="0.5" fill="#9577be" />
<rect x="551.15" y="371.5" width="2.7" height="4" fill="#88ff70" />
<rect x="551.15" y="370" width="2.7" height="1.5" fill="#d9d9d9" />
<rect x="557.25" y="375.28" width="2.7" height="1.52" fill="#c4aff8" />
<rect x="557.25" y="373" width="2.7" height="2.28" fill="#9577be" />
<rect x="563.25" y="375.6" width="2.7" height="1.2" fill="#c4aff8" />
<rect x="563.25" y="373.8" width="2.7" height="1.8" fill="#9577be" />
<rect x="569.25" y="375.6" width="2.7" height="1.2" fill="#c4aff8" />
<rect x="569.25" y="373.8" width="2.7" height="1.8" fill="#9577be" />
<rect x="575.25" y="375.28" width="2.7" height="1.52" fill="#c4aff8" />
<rect x="575.25" y="373" width="2.7" height="2.28" fill="#9577be" />
<rect x="581.35" y="371.5" width="2.7" height="5.3" fill="#c4aff8" />
<rect x="581.35" y="368.7" width="2.7" height="2.8" fill="#9577be" />
<rect x="587.25" y="371" width="2.7" height="5.8" fill="#c4aff8" />
<rect x="587.25" y="367.9" width="2.7" height="3.1" fill="#9577be" />
<rect x="593.35" y="374.8" width="2.7" height="2" fill="#c4aff8" />
<rect x="593.35" y="371.8" width="2.7" height="3" fill="#9577be" />
<path d="M73.9,374.1 C74.34,373.09 76.12,369 77,367 C77.88,365 79.29,361.86 80.1,360 C80.91,358.14 82.02,355.63 82.7,353.9 C83.38,352.17 84.4,349.29 84.9,347.8 C85.4,346.31 85.89,344.46 86.2,343.4 C86.51,342.34 86.79,340.92 87.1,340.3 C87.41,339.68 88.07,339.11 88.4,339 C88.73,338.89 89.16,339.87 89.4,339.5 C89.64,339.13 89.84,337.33 90.1,336.4 C90.35,335.46 90.89,333.76 91.2,332.9 C91.51,332.04 92.06,330.92 92.3,330.3 C92.54,329.68 92.69,329 92.9,328.5 C93.11,328 93.5,327.17 93.8,326.8 C94.1,326.43 94.67,326.21 95,325.9 C95.33,325.59 95.86,324.54 96.1,324.6 C96.34,324.66 96.49,325.8 96.7,326.3 C96.91,326.8 97.34,327.53 97.6,328.1 C97.85,328.67 98.19,329.8 98.5,330.3 C98.81,330.8 99.43,331.29 99.8,331.6 C100.17,331.91 100.73,332.32 101.1,332.5 C101.47,332.68 102.09,332.79 102.4,332.9 C102.71,333.01 102.99,332.99 103.3,333.3 C103.61,333.61 104.23,334.6 104.6,335.1 C104.97,335.6 105.59,336.3 105.9,336.8 C106.21,337.3 106.57,338.29 106.8,338.6 C107.03,338.91 107.26,338.76 107.5,339 C107.74,339.24 108.16,339.99 108.5,340.3 C108.84,340.61 109.52,341.13 109.9,341.2 C110.28,341.27 110.83,340.8 111.2,340.8 C111.57,340.8 112.19,340.83 112.5,341.2 C112.81,341.57 113.16,343.58 113.4,343.4 C113.64,343.22 113.9,340.45 114.2,339.9 C114.5,339.35 115,339.68 115.5,339.5 C116,339.32 117.08,338.81 117.7,338.6 C118.32,338.39 119.21,338.21 119.9,338 C120.59,337.79 121.92,337.3 122.6,337.1 C123.28,336.9 124.36,336.7 124.7,336.6 C125.04,336.5 124.96,336.43 125,336.4" fill="none" stroke="#1a1a1a" stroke-width="1.25" stroke-linejoin="round" stroke-linecap="round"/>
<path d="M128.5,334.2 C128.87,334.2 130.48,334.26 131.1,334.2 C131.72,334.14 132.4,333.98 132.9,333.8 C133.4,333.62 134.17,332.97 134.6,332.9 C135.03,332.83 135.52,333.12 135.9,333.3 C136.28,333.48 136.92,333.7 137.3,334.2 C137.68,334.7 138.23,336.49 138.6,336.8 C138.97,337.11 139.59,336.77 139.9,336.4 C140.21,336.03 140.56,334.02 140.8,334.2 C141.04,334.38 141.36,337.39 141.6,337.7 C141.84,338.01 142.19,336.34 142.5,336.4 C142.81,336.46 143.36,337.6 143.8,338.1 C144.24,338.6 145.1,339.28 145.6,339.9 C146.1,340.52 146.88,341.64 147.3,342.5 C147.73,343.36 148.22,345.43 148.6,346 C148.98,346.57 149.62,346.87 150,346.5 C150.38,346.13 150.93,344.33 151.3,343.4 C151.67,342.46 152.23,340.27 152.6,339.9 C152.97,339.53 153.46,340.49 153.9,340.8 C154.34,341.11 155.2,341.86 155.7,342.1 C156.2,342.34 156.9,342.34 157.4,342.5 C157.9,342.66 158.7,343.04 159.2,343.2 C159.7,343.36 160.4,343.44 160.9,343.6 C161.4,343.76 162.44,344.2 162.7,344.3" fill="none" stroke="#1a1a1a" stroke-width="1.25" stroke-linejoin="round" stroke-linecap="round"/>
<path d="M178.9,341.2 C179.21,340.96 180.65,339.88 181.1,339.5 C181.55,339.12 181.28,339.21 182.1,338.5 C182.92,337.79 185.58,335.56 186.9,334.5 C188.22,333.44 190.37,331.34 191.4,331 C192.43,330.66 193.46,331.38 194.2,332.1 C194.94,332.82 195.81,334.74 196.6,336.1 C197.39,337.46 198.78,339.99 199.8,341.7 C200.82,343.41 202.67,346.6 203.8,348.2 C204.93,349.8 206.67,351.53 207.8,353 C208.93,354.47 210.78,357.01 211.8,358.6 C212.82,360.19 214.08,362.84 215,364.2 C215.92,365.56 217.49,367.75 218.3,368.2 C219.11,368.65 219.91,367.67 220.7,367.4 C221.49,367.13 222.99,366.64 223.9,366.3 C224.81,365.96 226.19,365.52 227.1,365 C228.01,364.48 229.39,363.73 230.3,362.6 C231.21,361.47 232.59,358.47 233.5,357 C234.41,355.53 235.79,353.79 236.7,352.2 C237.61,350.61 238.99,347.29 239.9,345.8 C240.81,344.31 242.18,342.51 243.1,341.7 C244.02,340.89 245.48,340.38 246.4,340.1 C247.32,339.82 248.69,339.36 249.6,339.7 C250.51,340.04 251.89,341.41 252.8,342.5 C253.71,343.59 255.24,346.14 256,347.4 C256.76,348.66 257.44,350.04 258.2,351.4 C258.96,352.76 260.49,355.53 261.4,357 C262.31,358.47 263.69,360.67 264.6,361.8 C265.51,362.93 266.88,364.09 267.8,365 C268.72,365.91 270.07,367.29 271.1,368.2 C272.13,369.11 273.97,370.54 275.1,371.4 C276.23,372.26 277.97,374.02 279.1,374.3 C280.23,374.58 282.19,373.92 283.1,373.4 C284.01,372.88 284.82,371.56 285.5,370.6 C286.18,369.64 287.22,367.39 287.9,366.6 C288.58,365.81 289.51,365.18 290.3,365 C291.09,364.82 292.54,365.53 293.5,365.3 C294.46,365.07 296.18,363.33 297.1,363.4 C298.02,363.47 299.14,365.01 300,365.8 C300.86,366.59 302.29,368.08 303.2,369 C304.11,369.92 305.72,372.3 306.4,372.3 C307.08,372.3 307.43,369.24 308,369 C308.57,368.76 309.83,370.6 310.4,370.6 C310.97,370.6 311.55,368.89 312,369 C312.45,369.11 313.03,371.51 313.6,371.4 C314.17,371.29 315.21,368.99 316,368.2 C316.79,367.41 318.29,366.14 319.2,365.8 C320.11,365.46 321.48,366.25 322.4,365.8 C323.32,365.35 324.78,363.73 325.7,362.6 C326.62,361.47 327.99,359.27 328.9,357.8 C329.81,356.33 331.19,354.37 332.1,352.2 C333.01,350.03 334.39,344.78 335.3,342.5 C336.21,340.22 337.48,337.8 338.5,336.1 C339.52,334.4 341.37,331.86 342.5,330.5 C343.63,329.14 345.48,327.11 346.5,326.5 C347.52,325.89 348.78,325.86 349.7,326.2 C350.62,326.54 352.08,327.72 353,328.9 C353.92,330.08 355.18,332.69 356.2,334.5 C357.22,336.31 359.21,340.1 360.2,341.7 C361.19,343.3 362.21,344.54 363.2,345.8 C364.19,347.06 366.07,349.28 367.2,350.6 C368.33,351.92 370.05,353.85 371.2,355.1 C372.35,356.35 374.15,358.27 375.3,359.4 C376.45,360.53 378.28,362.35 379.3,363.1 C380.32,363.85 381.59,364.77 382.5,364.7 C383.41,364.63 384.68,362.9 385.7,362.6 C386.72,362.3 388.68,363.05 389.7,362.6 C390.72,362.15 391.88,360.08 392.9,359.4 C393.92,358.72 395.75,358.37 396.9,357.8 C398.05,357.23 400.08,356.12 401,355.4 C401.92,354.68 402.72,353.34 403.4,352.7 C404.08,352.06 405.12,350.86 405.8,350.9 C406.48,350.94 407.41,352.36 408.2,353 C408.99,353.64 410.38,354.49 411.4,355.4 C412.42,356.31 414.27,358.15 415.4,359.4 C416.53,360.65 418.27,362.95 419.4,364.2 C420.53,365.45 422.27,367.35 423.4,368.2 C424.53,369.05 426.37,369.62 427.4,370.2 C428.43,370.78 429.78,372.13 430.7,372.3 C431.62,372.47 432.99,371.87 433.9,371.4 C434.81,370.93 436.19,369.79 437.1,369 C438.01,368.21 439.51,367.05 440.3,365.8 C441.09,364.55 441.91,361.45 442.7,360.2 C443.49,358.95 444.99,357.79 445.9,357 C446.81,356.21 448.19,355.17 449.1,354.6 C450.01,354.03 451.38,353.11 452.3,353 C453.22,352.89 454.68,354.14 455.6,353.8 C456.52,353.46 457.89,350.49 458.8,350.6 C459.71,350.71 460.98,353.58 462,354.6 C463.02,355.62 465.01,357.12 466,357.8 C466.99,358.48 468.01,358.72 469,359.4 C469.99,360.08 471.87,361.69 473,362.6 C474.13,363.51 475.85,365.01 477,365.8 C478.15,366.59 479.95,367.58 481.1,368.2 C482.25,368.82 484.08,369.79 485.1,370.2 C486.12,370.61 487.51,371.5 488.3,371.1 C489.09,370.7 489.91,368.6 490.7,367.4 C491.49,366.2 492.99,363.73 493.9,362.6 C494.81,361.47 496.19,360.19 497.1,359.4 C498.01,358.61 499.28,357.91 500.3,357 C501.32,356.09 503.27,354.02 504.3,353 C505.33,351.98 506.68,350.21 507.6,349.8 C508.52,349.39 509.89,350.27 510.8,350.1 C511.71,349.93 513.15,348.42 514,348.6 C514.85,348.78 515.95,350.62 516.8,351.4 C517.65,352.18 519.09,353.53 520,354.1 C520.91,354.67 522.28,354.76 523.2,355.4 C524.12,356.04 525.47,357.58 526.5,358.6 C527.53,359.62 529.37,361.65 530.5,362.6 C531.63,363.55 533.48,365.3 534.5,365.3 C535.52,365.3 536.68,363.55 537.7,362.6 C538.72,361.65 540.57,359.96 541.7,358.6 C542.83,357.24 544.57,354.13 545.7,353 C546.83,351.87 548.67,351.68 549.7,350.6 C550.73,349.52 552.08,346.59 553,345.4 C553.92,344.21 555.29,342.95 556.2,342.2 C557.11,341.45 558.49,339.87 559.4,340.1 C560.31,340.33 561.69,342.72 562.6,343.8 C563.51,344.88 565.35,347.15 565.8,347.7" fill="none" stroke="#1a1a1a" stroke-width="0.95" stroke-linejoin="round" stroke-linecap="round"/>
<path d="M572.2,356.2 C572.77,356.65 575.05,358.49 576.2,359.4 C577.35,360.31 579.27,361.81 580.3,362.6 C581.33,363.39 582.59,364.62 583.5,365 C584.41,365.38 585.68,365.71 586.7,365.3 C587.72,364.89 589.57,363.01 590.7,362.1 C591.83,361.19 593.57,359.74 594.7,358.9 C595.83,358.06 598.13,356.58 598.7,356.2" fill="none" stroke="#1a1a1a" stroke-width="0.95" stroke-linejoin="round" stroke-linecap="round"/>
<rect x="47.7" y="304.9" width="573.5" height="74.3" fill="none" stroke="#d2d2d2" stroke-width="1"/>
<line x1="47.7" y1="304.4" x2="47.7" y2="379.7" stroke="#a9a9a9" stroke-width="1.0" />
<line x1="45.7" y1="308.6" x2="47.7" y2="308.6" stroke="#a9a9a9" stroke-width="0.8" />
<text x="44.5" y="314.7" font-size="10.9" text-anchor="end" fill="#222" font-weight="normal" >15</text>
<line x1="45.7" y1="331.3" x2="47.7" y2="331.3" stroke="#a9a9a9" stroke-width="0.8" />
<text x="44.5" y="336.3" font-size="10.9" text-anchor="end" fill="#222" font-weight="normal" >10</text>
<line x1="45.7" y1="353.8" x2="47.7" y2="353.8" stroke="#a9a9a9" stroke-width="0.8" />
<text x="44.5" y="358.6" font-size="10.9" text-anchor="end" fill="#222" font-weight="normal" >5</text>
<line x1="45.7" y1="376.9" x2="47.7" y2="376.9" stroke="#a9a9a9" stroke-width="0.8" />
<text x="44.5" y="383" font-size="10.9" text-anchor="end" fill="#222" font-weight="normal" >0</text>
<line x1="86.6" y1="379.2" x2="86.6" y2="381.2" stroke="#999" stroke-width="0.8" />
<line x1="138.7" y1="379.2" x2="138.7" y2="381.2" stroke="#999" stroke-width="0.8" />
<line x1="190.8" y1="379.2" x2="190.8" y2="381.2" stroke="#999" stroke-width="0.8" />
<line x1="242.9" y1="379.2" x2="242.9" y2="381.2" stroke="#999" stroke-width="0.8" />
<line x1="295" y1="379.2" x2="295" y2="381.2" stroke="#999" stroke-width="0.8" />
<line x1="347.1" y1="379.2" x2="347.1" y2="381.2" stroke="#999" stroke-width="0.8" />
<line x1="399.2" y1="379.2" x2="399.2" y2="381.2" stroke="#999" stroke-width="0.8" />
<line x1="451.3" y1="379.2" x2="451.3" y2="381.2" stroke="#999" stroke-width="0.8" />
<line x1="503.4" y1="379.2" x2="503.4" y2="381.2" stroke="#999" stroke-width="0.8" />
<line x1="555.5" y1="379.2" x2="555.5" y2="381.2" stroke="#999" stroke-width="0.8" />
<line x1="607.6" y1="379.2" x2="607.6" y2="381.2" stroke="#999" stroke-width="0.8" />
<rect x="622" y="304.2" width="16.7" height="78.2" fill="#000" />
<rect x="622" y="380.5" width="16.7" height="3.1" fill="#000" />
<rect x="623.9" y="306.1" width="12.3" height="74.4" fill="#8c8a56" />
<text transform="translate(626.1,343.3) rotate(90)" font-size="10.9" text-anchor="middle" fill="#1a1a1a">H43</text>
<text x="640.5" y="312.4" font-size="11.1" text-anchor="start" fill="#222" font-weight="normal" >259</text>
<text x="640.5" y="378.3" font-size="11.1" text-anchor="start" fill="#222" font-weight="normal" >255</text>
<line x1="46.5" y1="408.55" x2="621.2" y2="408.55" stroke="#f4f4f4" stroke-width="0.5" />
<line x1="46.5" y1="441.15" x2="621.2" y2="441.15" stroke="#f4f4f4" stroke-width="0.5" />
<line x1="46.5" y1="392.2" x2="621.2" y2="392.2" stroke="#ebebeb" stroke-width="0.6" />
<line x1="46.5" y1="424.9" x2="621.2" y2="424.9" stroke="#ebebeb" stroke-width="0.6" />
<line x1="46.5" y1="457.4" x2="621.2" y2="457.4" stroke="#ebebeb" stroke-width="0.6" />
<line x1="59.59" y1="386.1" x2="59.59" y2="460.4" stroke="#f4f4f4" stroke-width="0.5" />
<line x1="111.46" y1="386.1" x2="111.46" y2="460.4" stroke="#f4f4f4" stroke-width="0.5" />
<line x1="163.34" y1="386.1" x2="163.34" y2="460.4" stroke="#f4f4f4" stroke-width="0.5" />
<line x1="215.21" y1="386.1" x2="215.21" y2="460.4" stroke="#f4f4f4" stroke-width="0.5" />
<line x1="267.08" y1="386.1" x2="267.08" y2="460.4" stroke="#f4f4f4" stroke-width="0.5" />
<line x1="318.95" y1="386.1" x2="318.95" y2="460.4" stroke="#f4f4f4" stroke-width="0.5" />
<line x1="370.82" y1="386.1" x2="370.82" y2="460.4" stroke="#f4f4f4" stroke-width="0.5" />
<line x1="422.69" y1="386.1" x2="422.69" y2="460.4" stroke="#f4f4f4" stroke-width="0.5" />
<line x1="474.56" y1="386.1" x2="474.56" y2="460.4" stroke="#f4f4f4" stroke-width="0.5" />
<line x1="526.44" y1="386.1" x2="526.44" y2="460.4" stroke="#f4f4f4" stroke-width="0.5" />
<line x1="578.31" y1="386.1" x2="578.31" y2="460.4" stroke="#f4f4f4" stroke-width="0.5" />
<line x1="85.53" y1="386.1" x2="85.53" y2="460.4" stroke="#ebebeb" stroke-width="0.6" />
<line x1="137.4" y1="386.1" x2="137.4" y2="460.4" stroke="#ebebeb" stroke-width="0.6" />
<line x1="189.27" y1="386.1" x2="189.27" y2="460.4" stroke="#ebebeb" stroke-width="0.6" />
<line x1="241.14" y1="386.1" x2="241.14" y2="460.4" stroke="#ebebeb" stroke-width="0.6" />
<line x1="293.01" y1="386.1" x2="293.01" y2="460.4" stroke="#ebebeb" stroke-width="0.6" />
<line x1="344.89" y1="386.1" x2="344.89" y2="460.4" stroke="#ebebeb" stroke-width="0.6" />
<line x1="396.76" y1="386.1" x2="396.76" y2="460.4" stroke="#ebebeb" stroke-width="0.6" />
<line x1="448.63" y1="386.1" x2="448.63" y2="460.4" stroke="#ebebeb" stroke-width="0.6" />
<line x1="500.5" y1="386.1" x2="500.5" y2="460.4" stroke="#ebebeb" stroke-width="0.6" />
<line x1="552.37" y1="386.1" x2="552.37" y2="460.4" stroke="#ebebeb" stroke-width="0.6" />
<line x1="604.24" y1="386.1" x2="604.24" y2="460.4" stroke="#ebebeb" stroke-width="0.6" />
<rect x="73.75" y="456.37" width="2.7" height="0.63" fill="#c4aff8" />
<rect x="73.75" y="452.8" width="2.7" height="3.57" fill="#9577be" />
<rect x="77.95" y="455.9" width="2.7" height="1.1" fill="#c4aff8" />
<rect x="77.95" y="449.7" width="2.7" height="6.2" fill="#9577be" />
<rect x="84.85" y="455.9" width="2.7" height="1.1" fill="#c4aff8" />
<rect x="84.85" y="449.7" width="2.7" height="6.2" fill="#9577be" />
<rect x="93.15" y="455.9" width="2.7" height="1.1" fill="#c4aff8" />
<rect x="93.15" y="449.7" width="2.7" height="6.2" fill="#9577be" />
<rect x="97.35" y="455.6" width="2.7" height="1.4" fill="#ad92dc" />
<rect x="101.55" y="455.8" width="2.7" height="1.2" fill="#ad92dc" />
<rect x="105.65" y="455.8" width="2.7" height="1.2" fill="#ad92dc" />
<rect x="109.25" y="455" width="2.7" height="2" fill="#ad92dc" />
<rect x="113.15" y="456.53" width="2.7" height="0.47" fill="#c4aff8" />
<rect x="113.15" y="453.9" width="2.7" height="2.63" fill="#9577be" />
<rect x="116.75" y="455" width="2.7" height="2" fill="#ad92dc" />
<rect x="120.95" y="455.6" width="2.7" height="1.4" fill="#ad92dc" />
<rect x="125.05" y="455.6" width="2.7" height="1.4" fill="#ad92dc" />
<rect x="129.25" y="455.6" width="2.7" height="1.4" fill="#ad92dc" />
<rect x="140.35" y="454.7" width="2.7" height="2.3" fill="#ad92dc" />
<rect x="144.55" y="455.6" width="2.7" height="1.4" fill="#ad92dc" />
<rect x="148.65" y="455.6" width="2.7" height="1.4" fill="#ad92dc" />
<rect x="152.85" y="455.6" width="2.7" height="1.4" fill="#ad92dc" />
<rect x="156.95" y="455.6" width="2.7" height="1.4" fill="#ad92dc" />
<rect x="165.35" y="455.6" width="2.7" height="1.4" fill="#ad92dc" />
<rect x="176.45" y="456.25" width="2.7" height="0.75" fill="#c4aff8" />
<rect x="176.45" y="452" width="2.7" height="4.25" fill="#9577be" />
<rect x="180.55" y="453" width="2.7" height="4" fill="#c4aff8" />
<rect x="180.55" y="430" width="2.7" height="23" fill="#9577be" />
<rect x="180.55" y="428.4" width="2.7" height="1.6" fill="#d9d9d9" />
<rect x="184.75" y="454.87" width="2.7" height="2.13" fill="#c4aff8" />
<rect x="184.75" y="442.8" width="2.7" height="12.07" fill="#9577be" />
<rect x="188.35" y="456.25" width="2.7" height="0.75" fill="#c4aff8" />
<rect x="188.35" y="452" width="2.7" height="4.25" fill="#9577be" />
<rect x="192.25" y="453.75" width="2.7" height="3.25" fill="#c4aff8" />
<rect x="192.25" y="435.3" width="2.7" height="18.44" fill="#9577be" />
<rect x="196.35" y="455.83" width="2.7" height="1.17" fill="#c4aff8" />
<rect x="196.35" y="449.2" width="2.7" height="6.63" fill="#9577be" />
<rect x="200.55" y="456.53" width="2.7" height="0.47" fill="#c4aff8" />
<rect x="200.55" y="453.9" width="2.7" height="2.63" fill="#9577be" />
<rect x="204.15" y="455.6" width="2.7" height="1.4" fill="#ad92dc" />
<rect x="208.35" y="456" width="2.7" height="1" fill="#ad92dc" />
<rect x="212.45" y="456" width="2.7" height="1" fill="#ad92dc" />
<rect x="216.65" y="455.6" width="2.7" height="1.4" fill="#ad92dc" />
<rect x="220.75" y="455" width="2.7" height="2" fill="#ad92dc" />
<rect x="227.75" y="456.37" width="2.7" height="0.63" fill="#c4aff8" />
<rect x="227.75" y="452.8" width="2.7" height="3.57" fill="#9577be" />
<rect x="231.85" y="456.37" width="2.7" height="0.63" fill="#c4aff8" />
<rect x="231.85" y="452.8" width="2.7" height="3.57" fill="#9577be" />
<rect x="235.95" y="455.5" width="2.7" height="1.5" fill="#ad92dc" />
<rect x="240.35" y="455.5" width="2.7" height="1.5" fill="#ad92dc" />
<rect x="243.85" y="455.5" width="2.7" height="1.5" fill="#ad92dc" />
<rect x="247.65" y="455" width="2.7" height="2" fill="#ad92dc" />
<rect x="252.05" y="454.5" width="2.7" height="2.5" fill="#ad92dc" />
<rect x="256.35" y="455" width="2.7" height="2" fill="#ad92dc" />
<rect x="260.75" y="455.8" width="2.7" height="1.2" fill="#ad92dc" />
<rect x="265.15" y="455.8" width="2.7" height="1.2" fill="#ad92dc" />
<rect x="269.55" y="455.8" width="2.7" height="1.2" fill="#ad92dc" />
<rect x="273.95" y="456" width="2.7" height="1" fill="#ad92dc" />
<rect x="284.15" y="455.8" width="2.7" height="1.2" fill="#ad92dc" />
<rect x="287.05" y="455.5" width="2.7" height="1.5" fill="#ad92dc" />
<rect x="291.45" y="455.8" width="2.7" height="1.2" fill="#ad92dc" />
<rect x="295.85" y="455.8" width="2.7" height="1.2" fill="#ad92dc" />
<rect x="300.15" y="455.8" width="2.7" height="1.2" fill="#ad92dc" />
<rect x="303.15" y="455.8" width="2.7" height="1.2" fill="#ad92dc" />
<rect x="307.45" y="455.25" width="2.7" height="1.75" fill="#c4aff8" />
<rect x="307.45" y="445.3" width="2.7" height="9.94" fill="#9577be" />
<rect x="315.65" y="456.34" width="2.7" height="0.66" fill="#c4aff8" />
<rect x="315.65" y="452.6" width="2.7" height="3.74" fill="#9577be" />
<rect x="323.55" y="455" width="2.7" height="2" fill="#c4aff8" />
<rect x="323.55" y="452" width="2.7" height="3" fill="#9577be" />
<rect x="323.55" y="450.5" width="2.7" height="1.5" fill="#88ff70" />
<rect x="323.55" y="443.9" width="2.7" height="6.6" fill="#d9d9d9" />
<rect x="327.95" y="455" width="2.7" height="2" fill="#c4aff8" />
<rect x="327.95" y="452" width="2.7" height="3" fill="#9577be" />
<rect x="327.95" y="450.5" width="2.7" height="1.5" fill="#88ff70" />
<rect x="327.95" y="445.9" width="2.7" height="4.6" fill="#d9d9d9" />
<rect x="331.75" y="455.5" width="2.7" height="1.5" fill="#ad92dc" />
<rect x="335.85" y="454.5" width="2.7" height="2.5" fill="#ad92dc" />
<rect x="339.55" y="456" width="2.7" height="1" fill="#c4aff8" />
<rect x="339.55" y="448.8" width="2.7" height="7.2" fill="#9577be" />
<rect x="339.55" y="443.9" width="2.7" height="4.9" fill="#d9d9d9" />
<rect x="345.45" y="456" width="2.7" height="1" fill="#ad92dc" />
<rect x="351.25" y="456" width="2.7" height="1" fill="#ad92dc" />
<rect x="364.45" y="455.8" width="2.7" height="1.2" fill="#ad92dc" />
<rect x="374.65" y="455.8" width="2.7" height="1.2" fill="#ad92dc" />
<rect x="383.35" y="455.8" width="2.7" height="1.2" fill="#ad92dc" />
<rect x="387.75" y="455.8" width="2.7" height="1.2" fill="#ad92dc" />
<rect x="395.05" y="455" width="2.7" height="2" fill="#ad92dc" />
<rect x="403.85" y="456" width="2.7" height="1" fill="#ad92dc" />
<rect x="412.55" y="456" width="2.7" height="1" fill="#ad92dc" />
<rect x="419.85" y="456" width="2.7" height="1" fill="#ad92dc" />
<rect x="422.95" y="450.5" width="2.7" height="6.5" fill="#c4aff8" />
<rect x="422.95" y="445.3" width="2.7" height="5.2" fill="#9577be" />
<rect x="426.45" y="451" width="2.7" height="6" fill="#c4aff8" />
<rect x="426.45" y="445.9" width="2.7" height="5.1" fill="#9577be" />
<rect x="430.85" y="451.5" width="2.7" height="5.5" fill="#c4aff8" />
<rect x="430.85" y="447.6" width="2.7" height="3.9" fill="#9577be" />
<rect x="434.65" y="451" width="2.7" height="6" fill="#c4aff8" />
<rect x="434.65" y="447" width="2.7" height="4" fill="#9577be" />
<rect x="434.65" y="445.5" width="2.7" height="1.5" fill="#88ff70" />
<rect x="434.65" y="433.1" width="2.7" height="12.4" fill="#d9d9d9" />
<rect x="438.75" y="454" width="2.7" height="3" fill="#c4aff8" />
<rect x="438.75" y="452" width="2.7" height="2" fill="#9577be" />
<rect x="438.75" y="451" width="2.7" height="1" fill="#88ff70" />
<rect x="438.75" y="449.7" width="2.7" height="1.3" fill="#d9d9d9" />
<rect x="442.55" y="456.32" width="2.7" height="0.68" fill="#c4aff8" />
<rect x="442.55" y="452.5" width="2.7" height="3.82" fill="#9577be" />
<rect x="446.95" y="455" width="2.7" height="2" fill="#ad92dc" />
<rect x="451.35" y="455" width="2.7" height="2" fill="#ad92dc" />
<rect x="455.15" y="455" width="2.7" height="2" fill="#c4aff8" />
<rect x="455.15" y="454" width="2.7" height="1" fill="#88ff70" />
<rect x="455.15" y="452.5" width="2.7" height="1.5" fill="#d9d9d9" />
<rect x="460.05" y="455.6" width="2.7" height="1.4" fill="#ad92dc" />
<rect x="464.45" y="455.6" width="2.7" height="1.4" fill="#ad92dc" />
<rect x="471.75" y="455.6" width="2.7" height="1.4" fill="#ad92dc" />
<rect x="479.05" y="455.6" width="2.7" height="1.4" fill="#ad92dc" />
<rect x="485.45" y="455" width="2.7" height="2" fill="#ad92dc" />
<rect x="490.75" y="456" width="2.7" height="1" fill="#c4aff8" />
<rect x="490.75" y="453" width="2.7" height="3" fill="#9577be" />
<rect x="490.75" y="451.5" width="2.7" height="1.5" fill="#88ff70" />
<rect x="490.75" y="448.8" width="2.7" height="2.7" fill="#d9d9d9" />
<rect x="495.15" y="455" width="2.7" height="2" fill="#ad92dc" />
<rect x="499.45" y="455" width="2.7" height="2" fill="#ad92dc" />
<rect x="505.35" y="455.6" width="2.7" height="1.4" fill="#ad92dc" />
<rect x="511.15" y="455.6" width="2.7" height="1.4" fill="#ad92dc" />
<rect x="521.35" y="455.6" width="2.7" height="1.4" fill="#ad92dc" />
<rect x="530.15" y="456.55" width="2.7" height="0.45" fill="#c4aff8" />
<rect x="530.15" y="454" width="2.7" height="2.55" fill="#9577be" />
<rect x="535.95" y="456" width="2.7" height="1" fill="#c4aff8" />
<rect x="535.95" y="452.5" width="2.7" height="3.5" fill="#9577be" />
<rect x="535.95" y="451.5" width="2.7" height="1" fill="#88ff70" />
<rect x="535.95" y="448.8" width="2.7" height="2.7" fill="#d9d9d9" />
<rect x="540.95" y="454.7" width="2.7" height="2.3" fill="#ad92dc" />
<rect x="547.65" y="454.7" width="2.7" height="2.3" fill="#ad92dc" />
<rect x="554.95" y="455.6" width="2.7" height="1.4" fill="#ad92dc" />
<rect x="563.75" y="455.6" width="2.7" height="1.4" fill="#ad92dc" />
<rect x="571.05" y="455.6" width="2.7" height="1.4" fill="#ad92dc" />
<rect x="578.35" y="455" width="2.7" height="2" fill="#ad92dc" />
<rect x="584.15" y="455" width="2.7" height="2" fill="#ad92dc" />
<rect x="589.95" y="455" width="2.7" height="2" fill="#ad92dc" />
<rect x="71.65" y="456.1" width="2.7" height="0.9" fill="#c4b1f0" />
<rect x="80.31" y="455.98" width="2.7" height="1.02" fill="#c4b1f0" />
<rect x="88.97" y="455.87" width="2.7" height="1.13" fill="#c4b1f0" />
<rect x="132.27" y="455.75" width="2.7" height="1.25" fill="#c4b1f0" />
<rect x="136.6" y="455.63" width="2.7" height="1.37" fill="#c4b1f0" />
<rect x="162.58" y="455.52" width="2.7" height="1.48" fill="#c4b1f0" />
<rect x="171.24" y="455.4" width="2.7" height="1.6" fill="#c4b1f0" />
<rect x="214.54" y="456.04" width="2.7" height="0.96" fill="#c4b1f0" />
<rect x="223.2" y="455.93" width="2.7" height="1.07" fill="#c4b1f0" />
<rect x="279.49" y="455.81" width="2.7" height="1.19" fill="#c4b1f0" />
<rect x="309.8" y="455.69" width="2.7" height="1.31" fill="#c4b1f0" />
<rect x="318.46" y="455.57" width="2.7" height="1.42" fill="#c4b1f0" />
<rect x="348.77" y="455.46" width="2.7" height="1.54" fill="#c4b1f0" />
<rect x="357.43" y="456.1" width="2.7" height="0.9" fill="#c4b1f0" />
<rect x="361.76" y="455.98" width="2.7" height="1.02" fill="#c4b1f0" />
<rect x="370.42" y="455.87" width="2.7" height="1.13" fill="#c4b1f0" />
<rect x="379.08" y="455.75" width="2.7" height="1.25" fill="#c4b1f0" />
<rect x="392.07" y="455.63" width="2.7" height="1.37" fill="#c4b1f0" />
<rect x="400.73" y="455.52" width="2.7" height="1.48" fill="#c4b1f0" />
<rect x="409.39" y="455.4" width="2.7" height="1.6" fill="#c4b1f0" />
<rect x="474.34" y="456.04" width="2.7" height="0.96" fill="#c4b1f0" />
<rect x="483" y="455.93" width="2.7" height="1.07" fill="#c4b1f0" />
<rect x="508.98" y="455.81" width="2.7" height="1.19" fill="#c4b1f0" />
<rect x="513.31" y="455.69" width="2.7" height="1.31" fill="#c4b1f0" />
<rect x="517.64" y="455.57" width="2.7" height="1.42" fill="#c4b1f0" />
<rect x="526.3" y="455.46" width="2.7" height="1.54" fill="#c4b1f0" />
<rect x="543.62" y="456.1" width="2.7" height="0.9" fill="#c4b1f0" />
<rect x="552.28" y="455.98" width="2.7" height="1.02" fill="#c4b1f0" />
<rect x="560.94" y="455.87" width="2.7" height="1.13" fill="#c4b1f0" />
<rect x="573.93" y="455.75" width="2.7" height="1.25" fill="#c4b1f0" />
<rect x="586.92" y="455.63" width="2.7" height="1.37" fill="#c4b1f0" />
<rect x="595.58" y="455.52" width="2.7" height="1.48" fill="#c4b1f0" />
<path d="M72.9,436.1 C73.41,435.01 75.52,430.28 76.5,428.4 C77.48,426.52 78.94,424.3 79.8,422.8 C80.66,421.3 82.2,418.51 82.6,417.8" fill="none" stroke="#1a1a1a" stroke-width="0.9" stroke-linejoin="round" stroke-linecap="round"/>
<path d="M85.7,407.6 C86.05,407.2 87.53,406.57 88.2,404.8 C88.87,403.03 89.78,397.27 90.4,395.1 C91.02,392.93 91.82,390.1 92.6,389.5 C93.38,388.9 94.84,390.11 95.9,390.9 C96.96,391.69 98.91,393.73 100.1,395.1 C101.29,396.47 103.12,398.83 104.3,400.6 C105.48,402.37 107.22,406.1 108.4,407.6 C109.58,409.1 111.23,410.49 112.6,411.2 C113.97,411.91 116.53,412.2 118.1,412.6 C119.67,413 122.13,413.73 123.7,414 C125.27,414.27 127.63,414.03 129.2,414.5 C130.77,414.97 133.23,416.19 134.8,417.3 C136.37,418.41 138.93,421.52 140.3,422.3 C141.67,423.08 143.24,422.33 144.5,422.8 C145.76,423.27 148.02,425.47 149.2,425.6 C150.38,425.73 151.7,423.97 152.8,423.7 C153.91,423.43 155.82,423.43 157,423.7 C158.18,423.97 160.52,425.33 161.1,425.6" fill="none" stroke="#1a1a1a" stroke-width="0.9" stroke-linejoin="round" stroke-linecap="round"/>
<path d="M176.4,420.6 C176.98,420.05 179.32,417.96 180.5,416.7 C181.68,415.44 183.51,412.99 184.7,411.7 C185.89,410.41 187.72,407.78 188.9,407.6 C190.08,407.42 191.63,409.22 193,410.4 C194.37,411.58 197.03,414.14 198.6,415.9 C200.17,417.66 202.53,420.83 204.1,422.8 C205.67,424.77 208.13,427.83 209.7,429.8 C211.27,431.77 213.83,435.33 215.2,436.7 C216.57,438.07 218.22,439.3 219.4,439.5 C220.58,439.7 222.32,438.89 223.5,438.1 C224.68,437.31 226.78,435.05 227.7,433.9 C228.62,432.75 229.26,431.49 230,430 C230.74,428.51 232.08,424.96 232.9,423.4 C233.72,421.84 234.96,420.23 235.8,419 C236.64,417.77 237.96,415.65 238.8,414.7 C239.64,413.75 240.67,412.43 241.7,412.3 C242.73,412.17 244.87,413.05 246.1,413.8 C247.33,414.55 248.96,416.24 250.4,417.6 C251.84,418.96 254.64,421.54 256.3,423.4 C257.96,425.26 260.44,428.63 262.1,430.7 C263.76,432.77 266.34,436.13 268,438 C269.66,439.87 272.16,442.45 273.8,443.9 C275.44,445.34 278.35,447.59 279.6,448.2 C280.85,448.81 281.57,449.23 282.6,448.2 C283.63,447.17 285.67,442.76 286.9,440.9 C288.13,439.04 290.05,436.05 291.3,435.1 C292.55,434.15 294.45,434.07 295.7,434.2 C296.95,434.33 298.66,435.38 300.1,436 C301.55,436.62 304.45,438.4 305.9,438.6 C307.34,438.8 309.05,437.44 310.3,437.4 C311.55,437.36 313.45,438.41 314.7,438.3 C315.95,438.19 317.87,437.46 319.1,436.6 C320.33,435.74 322.17,434.69 323.4,432.2 C324.63,429.71 326.55,422.73 327.8,419 C329.05,415.27 331.17,408.29 332.2,405.9 C333.23,403.51 334.07,402.72 335.1,402.1 C336.13,401.48 338.25,402.32 339.5,401.5 C340.75,400.68 342.87,396.92 343.9,396.3 C344.93,395.68 345.57,395.95 346.8,397.1 C348.03,398.25 350.94,402.12 352.6,404.4 C354.26,406.68 356.84,410.71 358.5,413.2 C360.16,415.69 362.66,419.52 364.3,422 C365.94,424.48 368.44,428.43 370.1,430.7 C371.76,432.97 374.54,436.56 376,438 C377.46,439.44 379.17,440.6 380.4,440.9 C381.63,441.2 383.47,440.38 384.7,440.1 C385.93,439.82 387.85,439.89 389.1,438.9 C390.35,437.91 392.25,434.13 393.5,433.1 C394.75,432.07 396.65,432.35 397.9,431.6 C399.15,430.85 401.27,428.34 402.3,427.8 C403.33,427.26 404.17,427.39 405.2,427.8 C406.23,428.21 408.37,429.67 409.6,430.7 C410.83,431.73 412.67,433.85 413.9,435.1 C415.13,436.35 417.1,438.38 418.3,439.5 C419.5,440.62 421.25,442.18 422.4,443 C423.55,443.82 425.21,444.76 426.4,445.3 C427.59,445.84 429.57,446.8 430.8,446.8 C432.03,446.8 433.87,446.55 435.1,445.3 C436.33,444.05 438.25,440.07 439.5,438 C440.75,435.93 442.65,432.36 443.9,430.7 C445.15,429.04 447.05,426.71 448.3,426.3 C449.55,425.89 451.79,427.38 452.7,427.8 C453.61,428.23 454.09,429.71 454.7,429.3 C455.31,428.89 455.84,425.11 457,424.9 C458.16,424.69 461.24,426.57 462.9,427.8 C464.56,429.03 467.04,431.86 468.7,433.6 C470.36,435.34 472.94,438.36 474.6,440.1 C476.26,441.84 478.95,444.54 480.4,445.9 C481.84,447.26 483.55,449.57 484.8,449.7 C486.05,449.83 487.75,448.66 489.2,446.8 C490.64,444.94 493.36,438.88 495,436.6 C496.64,434.32 499.14,432.03 500.8,430.7 C502.46,429.37 505.04,427.61 506.7,427.2 C508.36,426.79 510.84,427.09 512.5,427.8 C514.16,428.51 516.74,430.75 518.4,432.2 C520.06,433.64 522.56,436.34 524.2,438 C525.84,439.66 528.34,442.54 530,443.9 C531.66,445.26 534.45,447.81 535.9,447.6 C537.35,447.39 538.97,444.38 540.2,442.4 C541.43,440.42 543.14,436.08 544.6,433.6 C546.06,431.12 549.06,426.54 550.5,424.9 C551.94,423.26 553.57,422.08 554.8,422 C556.03,421.92 558.08,423.69 559.2,424.3 C560.32,424.91 562.2,426.02 562.7,426.3" fill="none" stroke="#1a1a1a" stroke-width="0.9" stroke-linejoin="round" stroke-linecap="round"/>
<path d="M569.4,433.6 C570.02,434.22 572.34,436.54 573.8,438 C575.26,439.46 578.04,442.45 579.7,443.9 C581.36,445.34 584.06,447.79 585.5,448.2 C586.94,448.61 588.45,447.95 589.9,446.8 C591.35,445.65 594.88,441.05 595.7,440.1" fill="none" stroke="#1a1a1a" stroke-width="0.9" stroke-linejoin="round" stroke-linecap="round"/>
<rect x="46.5" y="386.1" width="574.7" height="74.3" fill="none" stroke="#d2d2d2" stroke-width="1"/>
<line x1="46.5" y1="385.6" x2="46.5" y2="460.9" stroke="#a9a9a9" stroke-width="1.0" />
<line x1="44.5" y1="392.2" x2="46.5" y2="392.2" stroke="#a9a9a9" stroke-width="0.8" />
<text x="44.5" y="392.8" font-size="10.9" text-anchor="end" fill="#222" font-weight="normal" >50</text>
<line x1="44.5" y1="424.9" x2="46.5" y2="424.9" stroke="#a9a9a9" stroke-width="0.8" />
<text x="44.5" y="425.9" font-size="10.9" text-anchor="end" fill="#222" font-weight="normal" >25</text>
<line x1="44.5" y1="457.4" x2="46.5" y2="457.4" stroke="#a9a9a9" stroke-width="0.8" />
<text x="44.5" y="460.2" font-size="10.9" text-anchor="end" fill="#222" font-weight="normal" >0</text>
<line x1="85.53" y1="460.4" x2="85.53" y2="462.4" stroke="#999" stroke-width="0.8" />
<line x1="137.4" y1="460.4" x2="137.4" y2="462.4" stroke="#999" stroke-width="0.8" />
<line x1="189.27" y1="460.4" x2="189.27" y2="462.4" stroke="#999" stroke-width="0.8" />
<line x1="241.14" y1="460.4" x2="241.14" y2="462.4" stroke="#999" stroke-width="0.8" />
<line x1="293.01" y1="460.4" x2="293.01" y2="462.4" stroke="#999" stroke-width="0.8" />
<line x1="344.89" y1="460.4" x2="344.89" y2="462.4" stroke="#999" stroke-width="0.8" />
<line x1="396.76" y1="460.4" x2="396.76" y2="462.4" stroke="#999" stroke-width="0.8" />
<line x1="448.63" y1="460.4" x2="448.63" y2="462.4" stroke="#999" stroke-width="0.8" />
<line x1="500.5" y1="460.4" x2="500.5" y2="462.4" stroke="#999" stroke-width="0.8" />
<line x1="552.37" y1="460.4" x2="552.37" y2="462.4" stroke="#999" stroke-width="0.8" />
<line x1="604.24" y1="460.4" x2="604.24" y2="462.4" stroke="#999" stroke-width="0.8" />
<rect x="622" y="381.7" width="16.7" height="78.7" fill="#000" />
<rect x="622" y="458.5" width="16.7" height="4.2" fill="#000" />
<rect x="623.9" y="383.6" width="12.3" height="74.9" fill="#8abcea" />
<text transform="translate(626.1,421.05) rotate(90)" font-size="10.9" text-anchor="middle" fill="#1a1a1a">H41</text>
<text x="640.5" y="393.3" font-size="11.1" text-anchor="start" fill="#222" font-weight="normal" >250</text>
<text x="640.5" y="461.5" font-size="11.1" text-anchor="start" fill="#222" font-weight="normal" >220</text>
<line x1="45.5" y1="485" x2="621.2" y2="485" stroke="#f4f4f4" stroke-width="0.5" />
<line x1="45.5" y1="518" x2="621.2" y2="518" stroke="#f4f4f4" stroke-width="0.5" />
<line x1="45.5" y1="468.5" x2="621.2" y2="468.5" stroke="#ebebeb" stroke-width="0.6" />
<line x1="45.5" y1="501.5" x2="621.2" y2="501.5" stroke="#ebebeb" stroke-width="0.6" />
<line x1="45.5" y1="534.5" x2="621.2" y2="534.5" stroke="#ebebeb" stroke-width="0.6" />
<line x1="58.62" y1="463.7" x2="58.62" y2="538.2" stroke="#f4f4f4" stroke-width="0.5" />
<line x1="110.61" y1="463.7" x2="110.61" y2="538.2" stroke="#f4f4f4" stroke-width="0.5" />
<line x1="162.59" y1="463.7" x2="162.59" y2="538.2" stroke="#f4f4f4" stroke-width="0.5" />
<line x1="214.58" y1="463.7" x2="214.58" y2="538.2" stroke="#f4f4f4" stroke-width="0.5" />
<line x1="266.56" y1="463.7" x2="266.56" y2="538.2" stroke="#f4f4f4" stroke-width="0.5" />
<line x1="318.55" y1="463.7" x2="318.55" y2="538.2" stroke="#f4f4f4" stroke-width="0.5" />
<line x1="370.54" y1="463.7" x2="370.54" y2="538.2" stroke="#f4f4f4" stroke-width="0.5" />
<line x1="422.52" y1="463.7" x2="422.52" y2="538.2" stroke="#f4f4f4" stroke-width="0.5" />
<line x1="474.51" y1="463.7" x2="474.51" y2="538.2" stroke="#f4f4f4" stroke-width="0.5" />
<line x1="526.49" y1="463.7" x2="526.49" y2="538.2" stroke="#f4f4f4" stroke-width="0.5" />
<line x1="578.48" y1="463.7" x2="578.48" y2="538.2" stroke="#f4f4f4" stroke-width="0.5" />
<line x1="84.61" y1="463.7" x2="84.61" y2="538.2" stroke="#ebebeb" stroke-width="0.6" />
<line x1="136.6" y1="463.7" x2="136.6" y2="538.2" stroke="#ebebeb" stroke-width="0.6" />
<line x1="188.59" y1="463.7" x2="188.59" y2="538.2" stroke="#ebebeb" stroke-width="0.6" />
<line x1="240.57" y1="463.7" x2="240.57" y2="538.2" stroke="#ebebeb" stroke-width="0.6" />
<line x1="292.56" y1="463.7" x2="292.56" y2="538.2" stroke="#ebebeb" stroke-width="0.6" />
<line x1="344.54" y1="463.7" x2="344.54" y2="538.2" stroke="#ebebeb" stroke-width="0.6" />
<line x1="396.53" y1="463.7" x2="396.53" y2="538.2" stroke="#ebebeb" stroke-width="0.6" />
<line x1="448.51" y1="463.7" x2="448.51" y2="538.2" stroke="#ebebeb" stroke-width="0.6" />
<line x1="500.5" y1="463.7" x2="500.5" y2="538.2" stroke="#ebebeb" stroke-width="0.6" />
<line x1="552.49" y1="463.7" x2="552.49" y2="538.2" stroke="#ebebeb" stroke-width="0.6" />
<line x1="604.47" y1="463.7" x2="604.47" y2="538.2" stroke="#ebebeb" stroke-width="0.6" />
<rect x="72.35" y="533.6" width="2.7" height="0.9" fill="#ad92dc" />
<rect x="83.45" y="534.02" width="2.7" height="0.48" fill="#c4aff8" />
<rect x="83.45" y="531.3" width="2.7" height="2.72" fill="#9577be" />
<rect x="94.55" y="533" width="2.7" height="1.5" fill="#ad92dc" />
<rect x="100.15" y="533" width="2.7" height="1.5" fill="#ad92dc" />
<rect x="104.25" y="533" width="2.7" height="1.5" fill="#ad92dc" />
<rect x="108.45" y="532.3" width="2.7" height="2.2" fill="#ad92dc" />
<rect x="112.65" y="533.6" width="2.7" height="0.9" fill="#ad92dc" />
<rect x="116.75" y="533.6" width="2.7" height="0.9" fill="#ad92dc" />
<rect x="136.15" y="533.6" width="2.7" height="0.9" fill="#ad92dc" />
<rect x="151.45" y="533.6" width="2.7" height="0.9" fill="#ad92dc" />
<rect x="168.05" y="533" width="2.7" height="1.5" fill="#c4aff8" />
<rect x="168.05" y="512" width="2.7" height="21" fill="#9577be" />
<rect x="168.05" y="510.5" width="2.7" height="1.5" fill="#d9d9d9" />
<rect x="172.25" y="531" width="2.7" height="3.6" fill="#c4aff8" />
<rect x="172.25" y="524.5" width="2.7" height="6.5" fill="#9577be" />
<rect x="172.25" y="523.6" width="2.7" height="0.9" fill="#d9d9d9" />
<rect x="176.15" y="533.6" width="2.7" height="0.9" fill="#f46268" />
<rect x="176.15" y="532" width="2.7" height="1.6" fill="#c4aff8" />
<rect x="176.15" y="506.4" width="2.7" height="25.6" fill="#9577be" />
<rect x="180.05" y="533.94" width="2.7" height="0.56" fill="#c4aff8" />
<rect x="180.05" y="530.8" width="2.7" height="3.14" fill="#9577be" />
<rect x="184.15" y="533.94" width="2.7" height="0.56" fill="#c4aff8" />
<rect x="184.15" y="530.8" width="2.7" height="3.14" fill="#9577be" />
<rect x="188.05" y="532.7" width="2.7" height="1.8" fill="#c4aff8" />
<rect x="188.05" y="522.5" width="2.7" height="10.2" fill="#9577be" />
<rect x="192.25" y="532.99" width="2.7" height="1.51" fill="#c4aff8" />
<rect x="192.25" y="524.4" width="2.7" height="8.59" fill="#9577be" />
<rect x="196.15" y="532.7" width="2.7" height="1.8" fill="#c4aff8" />
<rect x="196.15" y="522.5" width="2.7" height="10.2" fill="#9577be" />
<rect x="199.95" y="533.28" width="2.7" height="1.22" fill="#c4aff8" />
<rect x="199.95" y="526.4" width="2.7" height="6.88" fill="#9577be" />
<rect x="204.15" y="533.94" width="2.7" height="0.56" fill="#c4aff8" />
<rect x="204.15" y="530.8" width="2.7" height="3.14" fill="#9577be" />
<rect x="208.35" y="533.52" width="2.7" height="0.98" fill="#c4aff8" />
<rect x="208.35" y="528" width="2.7" height="5.52" fill="#9577be" />
<rect x="212.45" y="533.94" width="2.7" height="0.56" fill="#c4aff8" />
<rect x="212.45" y="530.8" width="2.7" height="3.14" fill="#9577be" />
<rect x="216.05" y="533.52" width="2.7" height="0.98" fill="#c4aff8" />
<rect x="216.05" y="528" width="2.7" height="5.52" fill="#9577be" />
<rect x="219.95" y="532" width="2.7" height="2.5" fill="#ad92dc" />
<rect x="224.15" y="532" width="2.7" height="2.5" fill="#ad92dc" />
<rect x="227.75" y="533.6" width="2.7" height="0.9" fill="#ad92dc" />
<rect x="231.85" y="533.6" width="2.7" height="0.9" fill="#ad92dc" />
<rect x="243.85" y="532.16" width="2.7" height="2.34" fill="#c4aff8" />
<rect x="243.85" y="518.9" width="2.7" height="13.26" fill="#9577be" />
<rect x="247.65" y="531.73" width="2.7" height="2.77" fill="#c4aff8" />
<rect x="247.65" y="516" width="2.7" height="15.73" fill="#9577be" />
<rect x="251.45" y="532.61" width="2.7" height="1.89" fill="#c4aff8" />
<rect x="251.45" y="521.9" width="2.7" height="10.71" fill="#9577be" />
<rect x="255.55" y="531.59" width="2.7" height="2.91" fill="#c4aff8" />
<rect x="255.55" y="515.1" width="2.7" height="16.49" fill="#9577be" />
<rect x="259.35" y="531.73" width="2.7" height="2.77" fill="#c4aff8" />
<rect x="259.35" y="516" width="2.7" height="15.73" fill="#9577be" />
<rect x="267.15" y="533.91" width="2.7" height="0.59" fill="#c4aff8" />
<rect x="267.15" y="530.6" width="2.7" height="3.31" fill="#9577be" />
<rect x="271.55" y="532.5" width="2.7" height="2" fill="#ad92dc" />
<rect x="275.35" y="533.5" width="2.7" height="1" fill="#ad92dc" />
<rect x="279.75" y="532.5" width="2.7" height="2" fill="#ad92dc" />
<rect x="291.45" y="533.5" width="2.7" height="1" fill="#ad92dc" />
<rect x="295.25" y="533" width="2.7" height="1.5" fill="#c4aff8" />
<rect x="295.25" y="525" width="2.7" height="8" fill="#9577be" />
<rect x="295.25" y="523.9" width="2.7" height="1.1" fill="#88ff70" />
<rect x="299.55" y="533.16" width="2.7" height="1.34" fill="#c4aff8" />
<rect x="299.55" y="525.6" width="2.7" height="7.56" fill="#9577be" />
<rect x="303.65" y="533" width="2.7" height="1.6" fill="#c4aff8" />
<rect x="303.65" y="526.8" width="2.7" height="6.2" fill="#9577be" />
<rect x="307.45" y="533.98" width="2.7" height="0.52" fill="#c4aff8" />
<rect x="307.45" y="531" width="2.7" height="2.98" fill="#9577be" />
<rect x="319.15" y="533.91" width="2.7" height="0.59" fill="#c4aff8" />
<rect x="319.15" y="530.6" width="2.7" height="3.31" fill="#9577be" />
<rect x="327.35" y="533.8" width="2.7" height="0.7" fill="#ad92dc" />
<rect x="331.45" y="533.2" width="2.7" height="1.3" fill="#ad92dc" />
<rect x="335.25" y="532" width="2.7" height="2.5" fill="#ad92dc" />
<rect x="339.55" y="534" width="2.7" height="0.5" fill="#c4aff8" />
<rect x="339.55" y="531.2" width="2.7" height="2.8" fill="#9577be" />
<rect x="343.95" y="532.5" width="2.7" height="2" fill="#ad92dc" />
<rect x="347.75" y="533.5" width="2.7" height="1" fill="#ad92dc" />
<rect x="351.25" y="533.91" width="2.7" height="0.59" fill="#c4aff8" />
<rect x="351.25" y="530.6" width="2.7" height="3.31" fill="#9577be" />
<rect x="355.05" y="533.48" width="2.7" height="1.02" fill="#c4aff8" />
<rect x="355.05" y="527.7" width="2.7" height="5.78" fill="#9577be" />
<rect x="359.45" y="534" width="2.7" height="0.5" fill="#c4aff8" />
<rect x="359.45" y="531.2" width="2.7" height="2.8" fill="#9577be" />
<rect x="362.95" y="533.8" width="2.7" height="0.7" fill="#ad92dc" />
<rect x="367.35" y="533.8" width="2.7" height="0.7" fill="#ad92dc" />
<rect x="371.75" y="533.8" width="2.7" height="0.7" fill="#ad92dc" />
<rect x="376.05" y="533.5" width="2.7" height="1" fill="#ad92dc" />
<rect x="380.45" y="533.8" width="2.7" height="0.7" fill="#ad92dc" />
<rect x="386.35" y="533.8" width="2.7" height="0.7" fill="#ad92dc" />
<rect x="390.65" y="533.8" width="2.7" height="0.7" fill="#ad92dc" />
<rect x="395.05" y="533.5" width="2.7" height="1" fill="#ad92dc" />
<rect x="411.15" y="533.8" width="2.7" height="0.7" fill="#ad92dc" />
<rect x="419.05" y="533.5" width="2.7" height="1" fill="#ad92dc" />
<rect x="427.15" y="533.8" width="2.7" height="0.7" fill="#ad92dc" />
<rect x="431.65" y="533.8" width="2.7" height="0.7" fill="#ad92dc" />
<rect x="435.65" y="533.8" width="2.7" height="0.7" fill="#ad92dc" />
<rect x="439.65" y="534" width="2.7" height="0.5" fill="#ad92dc" />
<rect x="444.65" y="533.8" width="2.7" height="0.7" fill="#ad92dc" />
<rect x="448.65" y="533.8" width="2.7" height="0.7" fill="#ad92dc" />
<rect x="454.65" y="533.5" width="2.7" height="1" fill="#ad92dc" />
<rect x="459.65" y="532" width="2.7" height="2.5" fill="#ad92dc" />
<rect x="463.65" y="534.05" width="2.7" height="0.45" fill="#c4aff8" />
<rect x="463.65" y="531.5" width="2.7" height="2.55" fill="#9577be" />
<rect x="467.65" y="532" width="2.7" height="2.5" fill="#ad92dc" />
<rect x="471.65" y="532" width="2.7" height="2.5" fill="#ad92dc" />
<rect x="475.65" y="532.3" width="2.7" height="2.2" fill="#ad92dc" />
<rect x="479.65" y="533.5" width="2.7" height="1" fill="#ad92dc" />
<rect x="483.65" y="533" width="2.7" height="1.5" fill="#ad92dc" />
<rect x="488.65" y="534" width="2.7" height="0.5" fill="#ad92dc" />
<rect x="496.65" y="534" width="2.7" height="0.5" fill="#ad92dc" />
<rect x="501.65" y="533.8" width="2.7" height="0.7" fill="#ad92dc" />
<rect x="505.65" y="533.8" width="2.7" height="0.7" fill="#ad92dc" />
<rect x="509.65" y="533.8" width="2.7" height="0.7" fill="#ad92dc" />
<rect x="514.65" y="533.5" width="2.7" height="1" fill="#ad92dc" />
<rect x="519.65" y="533.8" width="2.7" height="0.7" fill="#ad92dc" />
<rect x="524.65" y="533.8" width="2.7" height="0.7" fill="#ad92dc" />
<rect x="531.65" y="534" width="2.7" height="0.5" fill="#ad92dc" />
<rect x="538.65" y="533.8" width="2.7" height="0.7" fill="#ad92dc" />
<rect x="558.65" y="533.5" width="2.7" height="1" fill="#ad92dc" />
<rect x="563.65" y="533" width="2.7" height="1.5" fill="#ad92dc" />
<rect x="567.65" y="533.5" width="2.7" height="1" fill="#ad92dc" />
<rect x="572.65" y="532" width="2.7" height="2.5" fill="#ad92dc" />
<rect x="577.65" y="533.98" width="2.7" height="0.52" fill="#c4aff8" />
<rect x="577.65" y="531" width="2.7" height="2.98" fill="#9577be" />
<rect x="581.65" y="533" width="2.7" height="1.5" fill="#ad92dc" />
<rect x="585.65" y="533.5" width="2.7" height="1" fill="#ad92dc" />
<rect x="74.98" y="533.6" width="2.7" height="0.9" fill="#c4b1f0" />
<rect x="79.31" y="533.48" width="2.7" height="1.02" fill="#c4b1f0" />
<rect x="87.97" y="533.37" width="2.7" height="1.13" fill="#c4b1f0" />
<rect x="92.3" y="533.25" width="2.7" height="1.25" fill="#c4b1f0" />
<rect x="96.63" y="533.13" width="2.7" height="1.37" fill="#c4b1f0" />
<rect x="122.61" y="533.02" width="2.7" height="1.48" fill="#c4b1f0" />
<rect x="126.94" y="532.9" width="2.7" height="1.6" fill="#c4b1f0" />
<rect x="131.27" y="533.54" width="2.7" height="0.96" fill="#c4b1f0" />
<rect x="139.93" y="533.42" width="2.7" height="1.07" fill="#c4b1f0" />
<rect x="144.26" y="533.31" width="2.7" height="1.19" fill="#c4b1f0" />
<rect x="148.59" y="533.19" width="2.7" height="1.31" fill="#c4b1f0" />
<rect x="157.25" y="533.08" width="2.7" height="1.42" fill="#c4b1f0" />
<rect x="161.58" y="532.96" width="2.7" height="1.54" fill="#c4b1f0" />
<rect x="165.91" y="533.6" width="2.7" height="0.9" fill="#c4b1f0" />
<rect x="170.24" y="533.48" width="2.7" height="1.02" fill="#c4b1f0" />
<rect x="235.19" y="533.37" width="2.7" height="1.13" fill="#c4b1f0" />
<rect x="239.52" y="533.25" width="2.7" height="1.25" fill="#c4b1f0" />
<rect x="282.82" y="533.13" width="2.7" height="1.37" fill="#c4b1f0" />
<rect x="287.15" y="533.02" width="2.7" height="1.48" fill="#c4b1f0" />
<rect x="313.13" y="532.9" width="2.7" height="1.6" fill="#c4b1f0" />
<rect x="321.79" y="533.54" width="2.7" height="0.96" fill="#c4b1f0" />
<rect x="365.09" y="533.42" width="2.7" height="1.07" fill="#c4b1f0" />
<rect x="369.42" y="533.31" width="2.7" height="1.19" fill="#c4b1f0" />
<rect x="378.08" y="533.19" width="2.7" height="1.31" fill="#c4b1f0" />
<rect x="399.73" y="533.08" width="2.7" height="1.42" fill="#c4b1f0" />
<rect x="404.06" y="532.96" width="2.7" height="1.54" fill="#c4b1f0" />
<rect x="408.39" y="533.6" width="2.7" height="0.9" fill="#c4b1f0" />
<rect x="417.05" y="533.48" width="2.7" height="1.02" fill="#c4b1f0" />
<rect x="421.38" y="533.37" width="2.7" height="1.13" fill="#c4b1f0" />
<rect x="451.69" y="533.25" width="2.7" height="1.25" fill="#c4b1f0" />
<rect x="486.33" y="533.13" width="2.7" height="1.37" fill="#c4b1f0" />
<rect x="490.66" y="533.02" width="2.7" height="1.48" fill="#c4b1f0" />
<rect x="499.32" y="532.9" width="2.7" height="1.6" fill="#c4b1f0" />
<rect x="512.31" y="533.54" width="2.7" height="0.96" fill="#c4b1f0" />
<rect x="529.63" y="533.42" width="2.7" height="1.07" fill="#c4b1f0" />
<rect x="533.96" y="533.31" width="2.7" height="1.19" fill="#c4b1f0" />
<rect x="542.62" y="533.19" width="2.7" height="1.31" fill="#c4b1f0" />
<rect x="546.95" y="533.08" width="2.7" height="1.42" fill="#c4b1f0" />
<rect x="551.28" y="532.96" width="2.7" height="1.54" fill="#c4b1f0" />
<rect x="555.61" y="533.6" width="2.7" height="0.9" fill="#c4b1f0" />
<rect x="590.25" y="533.48" width="2.7" height="1.02" fill="#c4b1f0" />
<rect x="594.58" y="533.37" width="2.7" height="1.13" fill="#c4b1f0" />
<path d="M72.4,512.5 C72.78,511.64 74.12,508.13 75.1,506.4 C76.08,504.67 78.31,501.56 79.3,500.3 C80.29,499.04 81.39,499 82.1,497.5 C82.81,496 83.59,491.12 84.3,489.7 C85.01,488.28 86.43,488.68 87.1,487.5 C87.77,486.32 88.42,482.97 89,481.4 C89.58,479.83 90.53,477.11 91.2,476.4 C91.87,475.69 92.84,475.89 93.7,476.4 C94.56,476.91 96.19,478.89 97.3,480 C98.41,481.11 100.32,482.83 101.5,484.2 C102.68,485.57 104.42,488.52 105.6,489.7 C106.78,490.88 108.81,492.17 109.8,492.5 C110.79,492.83 111.82,492 112.6,492 C113.38,492 114.32,492.34 115.3,492.5 C116.28,492.66 118.31,492.7 119.5,493.1 C120.69,493.5 122.52,495.1 123.7,495.3 C124.88,495.5 126.62,494.3 127.8,494.5 C128.98,494.7 130.81,496.01 132,496.7 C133.19,497.39 135.02,498.62 136.2,499.4 C137.38,500.18 139.32,501.41 140.3,502.2 C141.28,502.99 142.31,504.87 143.1,505 C143.89,505.13 144.92,503.1 145.9,503.1 C146.88,503.1 148.82,505 150,505 C151.18,505 153.02,503.21 154.2,503.1 C155.38,502.99 157.12,503.93 158.3,504.2 C159.48,504.47 161.13,504.49 162.5,505 C163.87,505.51 166.63,508.2 168,507.8 C169.37,507.4 171.01,503.57 172.2,502.2 C173.39,500.83 175.22,499.01 176.4,498.1 C177.58,497.19 179.32,496.59 180.5,495.8 C181.68,495.01 183.64,493.36 184.7,492.5 C185.76,491.64 187.02,489.7 188,489.7 C188.98,489.7 190.3,491.31 191.6,492.5 C192.9,493.69 195.63,496.33 197.2,498.1 C198.77,499.87 201.13,503.12 202.7,505 C204.27,506.88 206.73,509.63 208.3,511.4 C209.87,513.17 212.62,516.37 213.8,517.5 C214.98,518.63 215.81,519.6 216.6,519.4 C217.39,519.2 218.42,516.68 219.4,516.1 C220.38,515.52 222.32,515.89 223.5,515.3 C224.68,514.7 226.78,513.03 227.7,511.9 C228.62,510.77 229.26,508.79 230,507.3 C230.74,505.81 231.99,502.65 232.9,501.4 C233.81,500.15 235.24,499.62 236.4,498.5 C237.56,497.38 239.73,493.91 241.1,493.5 C242.47,493.09 244.57,494.61 246.1,495.6 C247.63,496.59 251.08,499.81 251.9,500.5" fill="none" stroke="#1a1a1a" stroke-width="0.9" stroke-linejoin="round" stroke-linecap="round"/>
<path d="M257.7,507.3 C258.54,508.12 261.94,511.46 263.6,513.1 C265.26,514.74 267.74,517.46 269.4,518.9 C271.06,520.34 273.77,522.27 275.3,523.3 C276.83,524.33 278.97,526.61 280.2,526.2 C281.43,525.79 282.84,522.04 284,520.4 C285.16,518.76 287.15,515.63 288.4,514.6 C289.65,513.57 291.55,513.19 292.8,513.1 C294.05,513.01 295.97,513.38 297.2,514 C298.43,514.62 300.47,517.22 301.5,517.5 C302.53,517.78 303.47,516.41 304.5,516 C305.53,515.59 307.57,514.47 308.8,514.6 C310.03,514.73 311.95,516.9 313.2,516.9 C314.45,516.9 316.35,515.76 317.6,514.6 C318.85,513.44 320.75,510.98 322,508.7 C323.25,506.42 325.17,501.31 326.4,498.5 C327.63,495.69 329.47,490.76 330.7,488.9 C331.93,487.04 333.85,486.11 335.1,485.4 C336.35,484.69 338.25,484.48 339.5,483.9 C340.75,483.32 342.67,481.09 343.9,481.3 C345.13,481.51 346.75,483.78 348.2,485.4 C349.64,487.01 352.44,490.63 354.1,492.7 C355.76,494.77 358.24,497.93 359.9,500 C361.56,502.07 364.14,505.32 365.8,507.3 C367.46,509.28 369.96,512.36 371.6,514 C373.24,515.64 375.95,518.4 377.4,518.9 C378.84,519.4 380.55,517.91 381.8,517.5 C383.05,517.09 384.95,516.41 386.2,516 C387.45,515.59 389.57,515.29 390.6,514.6 C391.63,513.91 392.47,511.53 393.5,511.1 C394.53,510.68 396.45,512.14 397.9,511.6 C399.34,511.06 402.04,507.3 403.7,507.3 C405.36,507.3 407.94,510.16 409.6,511.6 C411.26,513.05 413.76,516.04 415.4,517.5 C417.04,518.96 419.64,520.99 421.2,521.9 C422.76,522.81 425.04,523.49 426.4,523.9 C427.76,524.31 429.57,525.08 430.8,524.8 C432.03,524.52 433.87,523.34 435.1,521.9 C436.33,520.46 438.25,516.56 439.5,514.6 C440.75,512.64 442.87,509.26 443.9,508.1 C444.93,506.94 445.77,506.51 446.8,506.4 C447.83,506.29 450.17,506.89 451.2,507.3 C452.23,507.71 453.28,509.6 454.1,509.3 C454.92,509 455.75,505.28 457,505.2 C458.25,505.12 461.24,507.45 462.9,508.7 C464.56,509.95 467.04,512.55 468.7,514 C470.36,515.45 472.94,517.37 474.6,518.9 C476.26,520.43 478.84,523.43 480.4,524.8 C481.96,526.17 484.16,529.01 485.6,528.6 C487.05,528.19 489.27,523.97 490.6,521.9 C491.93,519.83 493.88,515.66 495,514 C496.12,512.34 498,510.74 498.5,510.2" fill="none" stroke="#1a1a1a" stroke-width="0.9" stroke-linejoin="round" stroke-linecap="round"/>
<path d="M502.3,507.3 C503.12,507.22 506.44,506.29 508.1,506.7 C509.76,507.11 512.34,509.08 514,510.2 C515.66,511.32 518.16,513.24 519.8,514.6 C521.44,515.96 523.94,518.48 525.6,519.8 C527.26,521.12 530.25,523.19 531.5,523.9 C532.75,524.61 533.37,525.51 534.4,524.8 C535.43,524.09 537.35,520.97 538.8,518.9 C540.25,516.83 543.15,512.27 544.6,510.2 C546.05,508.13 547.75,505.42 549,504.3 C550.25,503.18 552.15,502.41 553.4,502.3 C554.65,502.19 556.64,502.92 557.8,503.5 C558.96,504.08 561.06,505.99 561.6,506.4" fill="none" stroke="#1a1a1a" stroke-width="0.9" stroke-linejoin="round" stroke-linecap="round"/>
<path d="M569.4,514 C570.24,514.82 573.64,518.27 575.3,519.8 C576.96,521.33 579.65,524.09 581.1,524.8 C582.55,525.51 584.25,525.42 585.5,524.8 C586.75,524.18 588.45,521.77 589.9,520.4 C591.35,519.03 594.88,515.85 595.7,515.1" fill="none" stroke="#1a1a1a" stroke-width="0.9" stroke-linejoin="round" stroke-linecap="round"/>
<rect x="45.5" y="463.7" width="575.7" height="74.5" fill="none" stroke="#d2d2d2" stroke-width="1"/>
<line x1="45.5" y1="463.2" x2="45.5" y2="538.7" stroke="#a9a9a9" stroke-width="1.0" />
<line x1="43.5" y1="468.5" x2="45.5" y2="468.5" stroke="#a9a9a9" stroke-width="0.8" />
<text x="44.5" y="474.9" font-size="10.9" text-anchor="end" fill="#222" font-weight="normal" >50</text>
<line x1="43.5" y1="501.5" x2="45.5" y2="501.5" stroke="#a9a9a9" stroke-width="0.8" />
<text x="44.5" y="505.9" font-size="10.9" text-anchor="end" fill="#222" font-weight="normal" >25</text>
<line x1="43.5" y1="534.5" x2="45.5" y2="534.5" stroke="#a9a9a9" stroke-width="0.8" />
<text x="44.5" y="539.9" font-size="10.9" text-anchor="end" fill="#222" font-weight="normal" >0</text>
<line x1="84.61" y1="538.2" x2="84.61" y2="540.2" stroke="#999" stroke-width="0.8" />
<line x1="136.6" y1="538.2" x2="136.6" y2="540.2" stroke="#999" stroke-width="0.8" />
<line x1="188.59" y1="538.2" x2="188.59" y2="540.2" stroke="#999" stroke-width="0.8" />
<line x1="240.57" y1="538.2" x2="240.57" y2="540.2" stroke="#999" stroke-width="0.8" />
<line x1="292.56" y1="538.2" x2="292.56" y2="540.2" stroke="#999" stroke-width="0.8" />
<line x1="344.54" y1="538.2" x2="344.54" y2="540.2" stroke="#999" stroke-width="0.8" />
<line x1="396.53" y1="538.2" x2="396.53" y2="540.2" stroke="#999" stroke-width="0.8" />
<line x1="448.51" y1="538.2" x2="448.51" y2="540.2" stroke="#999" stroke-width="0.8" />
<line x1="500.5" y1="538.2" x2="500.5" y2="540.2" stroke="#999" stroke-width="0.8" />
<line x1="552.49" y1="538.2" x2="552.49" y2="540.2" stroke="#999" stroke-width="0.8" />
<line x1="604.47" y1="538.2" x2="604.47" y2="540.2" stroke="#999" stroke-width="0.8" />
<rect x="622" y="460.8" width="16.7" height="78.5" fill="#000" />
<rect x="622" y="537.4" width="16.7" height="4" fill="#000" />
<rect x="623.9" y="462.7" width="12.3" height="74.7" fill="#ebc28a" />
<text transform="translate(626.1,500.05) rotate(90)" font-size="10.9" text-anchor="middle" fill="#1a1a1a">H51</text>
<text x="640.5" y="474.5" font-size="11.1" text-anchor="start" fill="#222" font-weight="normal" >240</text>
<text x="640.5" y="538.4" font-size="11.1" text-anchor="start" fill="#222" font-weight="normal" >215</text>
<line x1="47.7" y1="555.55" x2="621.2" y2="555.55" stroke="#f4f4f4" stroke-width="0.5" />
<line x1="47.7" y1="577.85" x2="621.2" y2="577.85" stroke="#f4f4f4" stroke-width="0.5" />
<line x1="47.7" y1="600.15" x2="621.2" y2="600.15" stroke="#f4f4f4" stroke-width="0.5" />
<line x1="47.7" y1="544.4" x2="621.2" y2="544.4" stroke="#ebebeb" stroke-width="0.6" />
<line x1="47.7" y1="566.7" x2="621.2" y2="566.7" stroke="#ebebeb" stroke-width="0.6" />
<line x1="47.7" y1="589" x2="621.2" y2="589" stroke="#ebebeb" stroke-width="0.6" />
<line x1="47.7" y1="611.3" x2="621.2" y2="611.3" stroke="#ebebeb" stroke-width="0.6" />
<line x1="60.4" y1="540.6" x2="60.4" y2="614.6" stroke="#f4f4f4" stroke-width="0.5" />
<line x1="112.4" y1="540.6" x2="112.4" y2="614.6" stroke="#f4f4f4" stroke-width="0.5" />
<line x1="164.4" y1="540.6" x2="164.4" y2="614.6" stroke="#f4f4f4" stroke-width="0.5" />
<line x1="216.4" y1="540.6" x2="216.4" y2="614.6" stroke="#f4f4f4" stroke-width="0.5" />
<line x1="268.4" y1="540.6" x2="268.4" y2="614.6" stroke="#f4f4f4" stroke-width="0.5" />
<line x1="320.4" y1="540.6" x2="320.4" y2="614.6" stroke="#f4f4f4" stroke-width="0.5" />
<line x1="372.4" y1="540.6" x2="372.4" y2="614.6" stroke="#f4f4f4" stroke-width="0.5" />
<line x1="424.4" y1="540.6" x2="424.4" y2="614.6" stroke="#f4f4f4" stroke-width="0.5" />
<line x1="476.4" y1="540.6" x2="476.4" y2="614.6" stroke="#f4f4f4" stroke-width="0.5" />
<line x1="528.4" y1="540.6" x2="528.4" y2="614.6" stroke="#f4f4f4" stroke-width="0.5" />
<line x1="580.4" y1="540.6" x2="580.4" y2="614.6" stroke="#f4f4f4" stroke-width="0.5" />
<line x1="86.4" y1="540.6" x2="86.4" y2="614.6" stroke="#ebebeb" stroke-width="0.6" />
<line x1="138.4" y1="540.6" x2="138.4" y2="614.6" stroke="#ebebeb" stroke-width="0.6" />
<line x1="190.4" y1="540.6" x2="190.4" y2="614.6" stroke="#ebebeb" stroke-width="0.6" />
<line x1="242.4" y1="540.6" x2="242.4" y2="614.6" stroke="#ebebeb" stroke-width="0.6" />
<line x1="294.4" y1="540.6" x2="294.4" y2="614.6" stroke="#ebebeb" stroke-width="0.6" />
<line x1="346.4" y1="540.6" x2="346.4" y2="614.6" stroke="#ebebeb" stroke-width="0.6" />
<line x1="398.4" y1="540.6" x2="398.4" y2="614.6" stroke="#ebebeb" stroke-width="0.6" />
<line x1="450.4" y1="540.6" x2="450.4" y2="614.6" stroke="#ebebeb" stroke-width="0.6" />
<line x1="502.4" y1="540.6" x2="502.4" y2="614.6" stroke="#ebebeb" stroke-width="0.6" />
<line x1="554.4" y1="540.6" x2="554.4" y2="614.6" stroke="#ebebeb" stroke-width="0.6" />
<line x1="606.4" y1="540.6" x2="606.4" y2="614.6" stroke="#ebebeb" stroke-width="0.6" />
<rect x="101.55" y="609.7" width="2.7" height="1.6" fill="#ad92dc" />
<rect x="105.65" y="610.3" width="2.7" height="1" fill="#ad92dc" />
<rect x="109.85" y="610.77" width="2.7" height="0.52" fill="#c4aff8" />
<rect x="109.85" y="607.8" width="2.7" height="2.98" fill="#9577be" />
<rect x="113.95" y="609.7" width="2.7" height="1.6" fill="#ad92dc" />
<rect x="130.05" y="611" width="2.7" height="0.3" fill="#c4aff8" />
<rect x="130.05" y="606" width="2.7" height="5" fill="#9577be" />
<rect x="130.05" y="605" width="2.7" height="1" fill="#88ff70" />
<rect x="130.05" y="604.2" width="2.7" height="0.8" fill="#d9d9d9" />
<rect x="141.75" y="610.88" width="2.7" height="0.42" fill="#c4aff8" />
<rect x="141.75" y="608.5" width="2.7" height="2.38" fill="#9577be" />
<rect x="153.65" y="610.88" width="2.7" height="0.42" fill="#c4aff8" />
<rect x="153.65" y="608.5" width="2.7" height="2.38" fill="#9577be" />
<rect x="157.85" y="609.53" width="2.7" height="1.77" fill="#c4aff8" />
<rect x="157.85" y="599.5" width="2.7" height="10.03" fill="#9577be" />
<rect x="161.75" y="610.77" width="2.7" height="0.52" fill="#c4aff8" />
<rect x="161.75" y="607.8" width="2.7" height="2.98" fill="#9577be" />
<rect x="165.35" y="609.7" width="2.7" height="1.6" fill="#ad92dc" />
<rect x="173.65" y="610.5" width="2.7" height="1" fill="#c4aff8" />
<rect x="173.65" y="607.8" width="2.7" height="2.7" fill="#9577be" />
<rect x="177.25" y="609.7" width="2.7" height="1.6" fill="#ad92dc" />
<rect x="193.05" y="610.77" width="2.7" height="0.52" fill="#c4aff8" />
<rect x="193.05" y="607.8" width="2.7" height="2.98" fill="#9577be" />
<rect x="197.25" y="609.7" width="2.7" height="1.6" fill="#ad92dc" />
<rect x="216.65" y="610.88" width="2.7" height="0.42" fill="#c4aff8" />
<rect x="216.65" y="608.5" width="2.7" height="2.38" fill="#9577be" />
<rect x="224.95" y="610.88" width="2.7" height="0.42" fill="#c4aff8" />
<rect x="224.95" y="608.5" width="2.7" height="2.38" fill="#9577be" />
<rect x="233.05" y="610.17" width="2.7" height="1.12" fill="#c4aff8" />
<rect x="233.05" y="603.8" width="2.7" height="6.38" fill="#9577be" />
<rect x="236.85" y="610.44" width="2.7" height="0.86" fill="#c4aff8" />
<rect x="236.85" y="605.6" width="2.7" height="4.84" fill="#9577be" />
<rect x="241.25" y="609.21" width="2.7" height="2.09" fill="#c4aff8" />
<rect x="241.25" y="597.4" width="2.7" height="11.81" fill="#9577be" />
<rect x="249.05" y="610.44" width="2.7" height="0.86" fill="#c4aff8" />
<rect x="249.05" y="605.6" width="2.7" height="4.84" fill="#9577be" />
<rect x="252.85" y="609.7" width="2.7" height="1.6" fill="#ad92dc" />
<rect x="268.05" y="610" width="2.7" height="1.3" fill="#ad92dc" />
<rect x="281.25" y="609.7" width="2.7" height="1.6" fill="#ad92dc" />
<rect x="289.05" y="610.75" width="2.7" height="0.55" fill="#c4aff8" />
<rect x="289.05" y="607.6" width="2.7" height="3.14" fill="#9577be" />
<rect x="297.25" y="610.88" width="2.7" height="0.42" fill="#c4aff8" />
<rect x="297.25" y="608.5" width="2.7" height="2.38" fill="#9577be" />
<rect x="305.15" y="610.88" width="2.7" height="0.42" fill="#c4aff8" />
<rect x="305.15" y="608.5" width="2.7" height="2.38" fill="#9577be" />
<rect x="321.45" y="609.7" width="2.7" height="1.6" fill="#ad92dc" />
<rect x="325.05" y="610.88" width="2.7" height="0.42" fill="#c4aff8" />
<rect x="325.05" y="608.5" width="2.7" height="2.38" fill="#9577be" />
<rect x="329.35" y="610.53" width="2.7" height="0.76" fill="#c4aff8" />
<rect x="329.35" y="606.2" width="2.7" height="4.33" fill="#9577be" />
<rect x="337.25" y="609" width="2.7" height="2.3" fill="#ad92dc" />
<rect x="341.05" y="609.7" width="2.7" height="1.6" fill="#ad92dc" />
<rect x="348.35" y="609.7" width="2.7" height="1.6" fill="#ad92dc" />
<rect x="365.85" y="610" width="2.7" height="1.3" fill="#ad92dc" />
<rect x="373.15" y="609.7" width="2.7" height="1.6" fill="#ad92dc" />
<rect x="380.45" y="609" width="2.7" height="2.3" fill="#ad92dc" />
<rect x="384.85" y="609.7" width="2.7" height="1.6" fill="#ad92dc" />
<rect x="389.25" y="609.7" width="2.7" height="1.6" fill="#ad92dc" />
<rect x="393.05" y="610.53" width="2.7" height="0.76" fill="#c4aff8" />
<rect x="393.05" y="606.2" width="2.7" height="4.33" fill="#9577be" />
<rect x="397.15" y="610.61" width="2.7" height="0.69" fill="#c4aff8" />
<rect x="397.15" y="606.7" width="2.7" height="3.91" fill="#9577be" />
<rect x="400.95" y="609.78" width="2.7" height="1.51" fill="#c4aff8" />
<rect x="400.95" y="601.2" width="2.7" height="8.58" fill="#9577be" />
<rect x="405.25" y="610" width="2.7" height="1.3" fill="#c4aff8" />
<rect x="405.25" y="608.5" width="2.7" height="1.5" fill="#88ff70" />
<rect x="409.05" y="610.61" width="2.7" height="0.69" fill="#c4aff8" />
<rect x="409.05" y="606.7" width="2.7" height="3.91" fill="#9577be" />
<rect x="413.15" y="609" width="2.7" height="2.3" fill="#ad92dc" />
<rect x="421.35" y="610" width="2.7" height="1.3" fill="#ad92dc" />
<rect x="427.15" y="609" width="2.7" height="2.3" fill="#ad92dc" />
<rect x="432.35" y="610" width="2.7" height="1.3" fill="#ad92dc" />
<rect x="448.35" y="610.88" width="2.7" height="0.42" fill="#c4aff8" />
<rect x="448.35" y="608.5" width="2.7" height="2.38" fill="#9577be" />
<rect x="452.15" y="609.7" width="2.7" height="1.6" fill="#ad92dc" />
<rect x="457.15" y="610" width="2.7" height="1.3" fill="#ad92dc" />
<rect x="462.95" y="610" width="2.7" height="1.3" fill="#ad92dc" />
<rect x="467.35" y="610" width="2.7" height="1.3" fill="#ad92dc" />
<rect x="476.15" y="609.7" width="2.7" height="1.6" fill="#ad92dc" />
<rect x="484.85" y="609.7" width="2.7" height="1.6" fill="#ad92dc" />
<rect x="496.55" y="604.5" width="2.7" height="6.8" fill="#c4aff8" />
<rect x="496.55" y="600.9" width="2.7" height="3.6" fill="#9577be" />
<rect x="500.35" y="604.7" width="2.7" height="6.6" fill="#c4aff8" />
<rect x="500.35" y="590.1" width="2.7" height="14.6" fill="#9577be" />
<rect x="504.45" y="605" width="2.7" height="6.3" fill="#c4aff8" />
<rect x="504.45" y="595.9" width="2.7" height="9.1" fill="#9577be" />
<rect x="508.85" y="606" width="2.7" height="5.5" fill="#c4aff8" />
<rect x="508.85" y="589.2" width="2.7" height="16.8" fill="#9577be" />
<rect x="512.95" y="606" width="2.7" height="5.3" fill="#c4aff8" />
<rect x="512.95" y="597.4" width="2.7" height="8.6" fill="#9577be" />
<rect x="512.95" y="593" width="2.7" height="4.4" fill="#d9d9d9" />
<rect x="517.05" y="606" width="2.7" height="5.3" fill="#c4aff8" />
<rect x="517.05" y="596.8" width="2.7" height="9.2" fill="#9577be" />
<rect x="520.75" y="607" width="2.7" height="4.3" fill="#c4aff8" />
<rect x="520.75" y="603.8" width="2.7" height="3.2" fill="#9577be" />
<rect x="524.55" y="606" width="2.7" height="5.3" fill="#c4aff8" />
<rect x="524.55" y="601.8" width="2.7" height="4.2" fill="#9577be" />
<rect x="524.55" y="594.5" width="2.7" height="7.3" fill="#d9d9d9" />
<rect x="528.65" y="606" width="2.7" height="5.3" fill="#f46268" />
<rect x="528.65" y="581.5" width="2.7" height="24.5" fill="#9577be" />
<rect x="528.65" y="575.5" width="2.7" height="6" fill="#d9d9d9" />
<rect x="533.05" y="610.31" width="2.7" height="0.99" fill="#c4aff8" />
<rect x="533.05" y="604.7" width="2.7" height="5.61" fill="#9577be" />
<rect x="538.35" y="610.44" width="2.7" height="0.86" fill="#c4aff8" />
<rect x="538.35" y="605.6" width="2.7" height="4.84" fill="#9577be" />
<rect x="544.75" y="607" width="2.7" height="4.3" fill="#c4aff8" />
<rect x="544.75" y="571.7" width="2.7" height="35.3" fill="#9577be" />
<rect x="544.75" y="567.6" width="2.7" height="4.1" fill="#d9d9d9" />
<rect x="550.55" y="610.31" width="2.7" height="0.99" fill="#c4aff8" />
<rect x="550.55" y="604.7" width="2.7" height="5.61" fill="#9577be" />
<rect x="556.45" y="610.88" width="2.7" height="0.42" fill="#c4aff8" />
<rect x="556.45" y="608.5" width="2.7" height="2.38" fill="#9577be" />
<rect x="562.25" y="610" width="2.7" height="1.3" fill="#c4aff8" />
<rect x="562.25" y="602.6" width="2.7" height="7.39" fill="#9577be" />
<rect x="568.05" y="610.44" width="2.7" height="0.86" fill="#c4aff8" />
<rect x="568.05" y="605.6" width="2.7" height="4.84" fill="#9577be" />
<rect x="573.95" y="610.75" width="2.7" height="0.55" fill="#c4aff8" />
<rect x="573.95" y="607.6" width="2.7" height="3.14" fill="#9577be" />
<rect x="579.75" y="610.75" width="2.7" height="0.55" fill="#c4aff8" />
<rect x="579.75" y="607.6" width="2.7" height="3.14" fill="#9577be" />
<rect x="586.45" y="609.7" width="2.7" height="1.6" fill="#ad92dc" />
<rect x="592.95" y="610" width="2.7" height="1.3" fill="#ad92dc" />
<rect x="97.65" y="610.4" width="2.7" height="0.9" fill="#c4b1f0" />
<rect x="119.3" y="610.28" width="2.7" height="1.02" fill="#c4b1f0" />
<rect x="123.63" y="610.17" width="2.7" height="1.13" fill="#c4b1f0" />
<rect x="127.96" y="610.05" width="2.7" height="1.25" fill="#c4b1f0" />
<rect x="132.29" y="609.93" width="2.7" height="1.37" fill="#c4b1f0" />
<rect x="136.62" y="609.82" width="2.7" height="1.48" fill="#c4b1f0" />
<rect x="145.28" y="609.7" width="2.7" height="1.6" fill="#c4b1f0" />
<rect x="149.61" y="610.34" width="2.7" height="0.96" fill="#c4b1f0" />
<rect x="171.26" y="610.22" width="2.7" height="1.07" fill="#c4b1f0" />
<rect x="179.92" y="610.11" width="2.7" height="1.19" fill="#c4b1f0" />
<rect x="184.25" y="609.99" width="2.7" height="1.31" fill="#c4b1f0" />
<rect x="188.58" y="609.88" width="2.7" height="1.42" fill="#c4b1f0" />
<rect x="201.57" y="609.76" width="2.7" height="1.54" fill="#c4b1f0" />
<rect x="205.9" y="610.4" width="2.7" height="0.9" fill="#c4b1f0" />
<rect x="210.23" y="610.28" width="2.7" height="1.02" fill="#c4b1f0" />
<rect x="214.56" y="610.17" width="2.7" height="1.13" fill="#c4b1f0" />
<rect x="218.89" y="610.05" width="2.7" height="1.25" fill="#c4b1f0" />
<rect x="227.55" y="609.93" width="2.7" height="1.37" fill="#c4b1f0" />
<rect x="244.87" y="609.82" width="2.7" height="1.48" fill="#c4b1f0" />
<rect x="257.86" y="609.7" width="2.7" height="1.6" fill="#c4b1f0" />
<rect x="262.19" y="610.34" width="2.7" height="0.96" fill="#c4b1f0" />
<rect x="270.85" y="610.22" width="2.7" height="1.07" fill="#c4b1f0" />
<rect x="275.18" y="610.11" width="2.7" height="1.19" fill="#c4b1f0" />
<rect x="283.84" y="609.99" width="2.7" height="1.31" fill="#c4b1f0" />
<rect x="292.5" y="609.88" width="2.7" height="1.42" fill="#c4b1f0" />
<rect x="301.16" y="609.76" width="2.7" height="1.54" fill="#c4b1f0" />
<rect x="309.82" y="610.4" width="2.7" height="0.9" fill="#c4b1f0" />
<rect x="314.15" y="610.28" width="2.7" height="1.02" fill="#c4b1f0" />
<rect x="318.48" y="610.17" width="2.7" height="1.13" fill="#c4b1f0" />
<rect x="327.14" y="610.05" width="2.7" height="1.25" fill="#c4b1f0" />
<rect x="331.47" y="609.93" width="2.7" height="1.37" fill="#c4b1f0" />
<rect x="344.46" y="609.82" width="2.7" height="1.48" fill="#c4b1f0" />
<rect x="353.12" y="609.7" width="2.7" height="1.6" fill="#c4b1f0" />
<rect x="357.45" y="610.34" width="2.7" height="0.96" fill="#c4b1f0" />
<rect x="361.78" y="610.22" width="2.7" height="1.07" fill="#c4b1f0" />
<rect x="370.44" y="610.11" width="2.7" height="1.19" fill="#c4b1f0" />
<rect x="418.07" y="609.99" width="2.7" height="1.31" fill="#c4b1f0" />
<rect x="435.39" y="609.88" width="2.7" height="1.42" fill="#c4b1f0" />
<rect x="439.72" y="609.76" width="2.7" height="1.54" fill="#c4b1f0" />
<rect x="444.05" y="610.4" width="2.7" height="0.9" fill="#c4b1f0" />
<rect x="470.03" y="610.28" width="2.7" height="1.02" fill="#c4b1f0" />
<rect x="478.69" y="610.17" width="2.7" height="1.13" fill="#c4b1f0" />
<rect x="487.35" y="610.05" width="2.7" height="1.25" fill="#c4b1f0" />
<rect x="491.68" y="609.93" width="2.7" height="1.37" fill="#c4b1f0" />
<rect x="547.97" y="609.82" width="2.7" height="1.48" fill="#c4b1f0" />
<rect x="565.29" y="609.7" width="2.7" height="1.6" fill="#c4b1f0" />
<rect x="582.61" y="610.34" width="2.7" height="0.96" fill="#c4b1f0" />
<rect x="595.6" y="610.22" width="2.7" height="1.07" fill="#c4b1f0" />
<path d="M73.2,580.6 C73.4,577.26 74.2,558.97 74.6,557 C75,555.03 75.53,563.16 76,566.7 C76.47,570.24 77.36,581.67 77.9,582 C78.44,582.33 79.2,569.2 79.8,569 C80.39,568.8 81.39,581.39 82.1,580.6 C82.81,579.81 84.09,563.4 84.8,563.4 C85.51,563.4 86.5,577.19 87.1,580.6 C87.69,584.01 88.33,591.42 89,587.5 C89.67,583.58 91.13,555.45 91.8,552.9 C92.47,550.35 93.12,565.58 93.7,569.5 C94.28,573.42 94.99,577.46 95.9,580.6 C96.81,583.75 98.91,589.53 100.1,591.7 C101.29,593.87 103.12,595.04 104.3,595.9 C105.48,596.76 107.22,598.59 108.4,597.8 C109.58,597.01 111.62,594 112.6,590.3 C113.58,586.6 114.72,574.45 115.3,571.7 C115.88,568.95 116.22,570.04 116.7,570.9 C117.18,571.76 117.91,575.25 118.7,577.8 C119.49,580.35 121.28,587.71 122.3,588.9 C123.32,590.09 124.99,587.29 125.9,586.2 C126.81,585.11 127.84,580.82 128.7,581.2 C129.56,581.58 130.94,587.02 132,588.9 C133.06,590.78 134.83,593.24 136.2,594.5 C137.57,595.76 140.33,597.4 141.7,597.8 C143.07,598.2 144.92,597.3 145.9,597.3 C146.88,597.3 147.89,600.17 148.6,597.8 C149.31,595.43 150.31,585.08 150.9,580.6 C151.5,576.12 152.26,566.8 152.8,566.2 C153.34,565.61 154.03,573.38 154.7,576.4 C155.37,579.42 156.48,585.13 157.5,587.5 C158.52,589.87 160.8,593.21 161.9,593.1 C163,592.99 164.44,587.1 165.3,586.7 C166.16,586.3 167.02,591.94 168,590.3 C168.98,588.66 171.32,577.45 172.2,575.1 C173.08,572.75 173.6,574.69 174.2,573.7 C174.79,572.71 175.78,567.9 176.4,568.1 C177.02,568.3 177.82,573.73 178.6,575.1 C179.38,576.47 181.04,576.23 181.9,577.8 C182.76,579.37 183.91,587.06 184.7,586.2 C185.49,585.34 186.72,572.1 187.5,571.7 C188.28,571.3 189.22,580.37 190.2,583.4 C191.18,586.43 192.83,591.13 194.4,593.1 C195.97,595.07 199.13,596.32 201.3,597.3 C203.47,598.28 207.14,599.42 209.7,600 C212.26,600.58 217.76,602.38 219.4,601.4 C221.04,600.42 220.72,595.45 221.3,593.1 C221.88,590.75 222.79,586.57 223.5,584.8 C224.21,583.03 225.59,583.16 226.3,580.6 C227.01,578.04 227.91,567.88 228.5,566.7 C229.09,565.52 230.02,573.55 230.5,572.3 C230.98,571.05 231.55,559.64 231.9,557.9 C232.25,556.16 232.65,559.58 233,560 C233.35,560.42 233.92,557.67 234.4,560.9 C234.88,564.13 235.78,580.52 236.4,582.8 C237.02,585.08 238.26,578.25 238.8,577 C239.34,575.75 239.7,572.77 240.2,574 C240.7,575.23 241.46,583.21 242.3,585.7 C243.14,588.19 244.74,590.16 246.1,591.6 C247.46,593.04 250.26,594.67 251.9,595.9 C253.54,597.13 256.04,599.35 257.7,600.3 C259.36,601.25 261.94,602.1 263.6,602.6 C265.26,603.1 268.17,604.04 269.4,603.8 C270.63,603.56 271.27,601.4 272.3,600.9 C273.33,600.4 276.08,600.38 276.7,600.3" fill="none" stroke="#1a1a1a" stroke-width="1.0" stroke-linejoin="round" stroke-linecap="round"/>
<path d="M282.6,598.9 C282.8,597.44 283.59,592.95 284,588.6 C284.41,584.25 285,572.95 285.5,568.2 C286,563.45 286.88,554.69 287.5,555.1 C288.12,555.51 289.15,566.96 289.9,571.1 C290.65,575.24 291.77,581.2 292.8,584.3 C293.83,587.4 295.97,591.14 297.2,593 C298.43,594.86 300.27,596.28 301.5,597.4 C302.73,598.52 304.87,600.9 305.9,600.9 C306.93,600.9 307.96,598.31 308.8,597.4 C309.64,596.49 310.96,594.5 311.8,594.5 C312.64,594.5 313.88,597.81 314.7,597.4 C315.52,596.99 316.69,592.63 317.6,591.6 C318.51,590.57 320.28,592.59 321.1,590.1 C321.92,587.61 322.73,578.14 323.4,574 C324.07,569.86 325.18,563.38 325.8,560.9 C326.42,558.42 327.22,555.05 327.8,556.5 C328.38,557.95 329.36,570.26 329.9,571.1 C330.44,571.94 331.08,564.26 331.6,562.4 C332.12,560.54 333.02,557.39 333.6,558 C334.18,558.61 334.99,562.97 335.7,566.7 C336.41,570.43 337.86,582.02 338.6,584.3 C339.34,586.58 340.15,584.33 340.9,582.8 C341.65,581.27 343.15,573.91 343.9,573.5 C344.65,573.09 345.38,577.14 346.2,579.9 C347.02,582.66 348.38,590.31 349.7,593 C351.02,595.69 353.64,597.54 355.5,598.9 C357.36,600.26 360.73,601.78 362.8,602.6 C364.87,603.42 367.82,604.12 370.1,604.7 C372.38,605.28 377.24,607.11 378.9,606.7 C380.56,606.29 381.05,604.97 381.8,601.8 C382.55,598.63 383.58,586.99 384.2,584.3 C384.82,581.61 385.63,583.92 386.2,582.8 C386.77,581.68 387.58,576.19 388.2,576.4 C388.82,576.61 389.93,585.67 390.6,584.3 C391.27,582.93 392.28,567.32 392.9,566.7 C393.52,566.08 394.29,575.96 395,579.9 C395.71,583.84 396.87,592.64 397.9,594.5 C398.93,596.36 401.27,593.41 402.3,593 C403.33,592.59 404.17,591.19 405.2,591.6 C406.23,592.01 408.16,594.67 409.6,595.9 C411.05,597.13 413.76,599.27 415.4,600.3 C417.04,601.33 419.44,602.58 421.2,603.2 C422.96,603.82 426.24,604.9 427.8,604.7 C429.36,604.5 431.17,603.66 432.2,601.8 C433.23,599.94 434.39,594.08 435.1,591.6 C435.81,589.12 436.66,587.61 437.2,584.3 C437.74,580.99 438.45,570.27 438.9,568.2 C439.35,566.13 439.97,571.27 440.4,569.7 C440.82,568.13 441.4,558.76 441.9,557.1 C442.4,555.44 443.33,555.61 443.9,558 C444.47,560.39 445.28,570.08 445.9,574 C446.52,577.92 447.34,583.01 448.3,585.7 C449.26,588.39 451.54,591.56 452.7,593 C453.86,594.44 455.55,595.9 456.5,595.9 C457.45,595.9 458.49,593 459.4,593 C460.31,593 461.58,594.87 462.9,595.9 C464.22,596.93 466.84,599.27 468.7,600.3 C470.56,601.33 473.72,602.58 476,603.2 C478.28,603.82 482.86,604.79 484.8,604.7 C486.74,604.62 488.75,606.52 489.7,602.6 C490.65,598.68 490.96,583.45 491.5,577 C492.04,570.55 492.92,557.31 493.5,557.1 C494.08,556.89 494.89,571.04 495.6,575.5 C496.31,579.96 497.34,585.71 498.5,588.6 C499.66,591.49 502.23,594.44 503.8,595.9 C505.37,597.36 507.96,598.19 509.6,598.9 C511.24,599.61 513.54,600.38 515.4,600.9 C517.26,601.42 520.63,602.19 522.7,602.6 C524.77,603.01 528.13,603.8 530,603.8 C531.87,603.8 534.65,605.58 535.9,602.6 C537.15,599.62 538.06,587.05 538.8,582.8 C539.54,578.55 540.48,573.85 541.1,572.6 C541.72,571.35 542.7,575.94 543.2,574 C543.7,572.06 544.1,560.35 544.6,558.9 C545.1,557.45 546.08,560.82 546.7,563.8 C547.32,566.77 548.05,576.39 549,579.9 C549.95,583.41 552.15,586.74 553.4,588.6 C554.65,590.46 556.35,591.84 557.8,593 C559.25,594.16 562.78,596.26 563.6,596.8" fill="none" stroke="#1a1a1a" stroke-width="1.0" stroke-linejoin="round" stroke-linecap="round"/>
<path d="M571.5,600.9 C572.45,601.14 576.22,602.47 578.2,602.6 C580.18,602.73 584.06,602.75 585.5,601.8 C586.94,600.85 587.58,599.41 588.4,595.9 C589.22,592.39 590.59,579.89 591.3,577 C592.01,574.11 592.86,576.96 593.4,575.5 C593.94,574.04 594.56,566.49 595.1,566.7 C595.64,566.91 596.9,575.54 597.2,577" fill="none" stroke="#1a1a1a" stroke-width="1.0" stroke-linejoin="round" stroke-linecap="round"/>
<rect x="47.7" y="540.6" width="573.5" height="74" fill="none" stroke="#d2d2d2" stroke-width="1"/>
<line x1="47.7" y1="540.1" x2="47.7" y2="615.1" stroke="#a9a9a9" stroke-width="1.0" />
<line x1="45.7" y1="544.4" x2="47.7" y2="544.4" stroke="#a9a9a9" stroke-width="0.8" />
<text x="44.5" y="550.8" font-size="10.9" text-anchor="end" fill="#222" font-weight="normal" >15</text>
<line x1="45.7" y1="566.7" x2="47.7" y2="566.7" stroke="#a9a9a9" stroke-width="0.8" />
<text x="44.5" y="572.9" font-size="10.9" text-anchor="end" fill="#222" font-weight="normal" >10</text>
<line x1="45.7" y1="589" x2="47.7" y2="589" stroke="#a9a9a9" stroke-width="0.8" />
<text x="44.5" y="595.2" font-size="10.9" text-anchor="end" fill="#222" font-weight="normal" >5</text>
<line x1="45.7" y1="611.3" x2="47.7" y2="611.3" stroke="#a9a9a9" stroke-width="0.8" />
<text x="44.5" y="618.9" font-size="10.9" text-anchor="end" fill="#222" font-weight="normal" >0</text>
<line x1="86.4" y1="614.6" x2="86.4" y2="616.6" stroke="#999" stroke-width="0.8" />
<line x1="138.4" y1="614.6" x2="138.4" y2="616.6" stroke="#999" stroke-width="0.8" />
<line x1="190.4" y1="614.6" x2="190.4" y2="616.6" stroke="#999" stroke-width="0.8" />
<line x1="242.4" y1="614.6" x2="242.4" y2="616.6" stroke="#999" stroke-width="0.8" />
<line x1="294.4" y1="614.6" x2="294.4" y2="616.6" stroke="#999" stroke-width="0.8" />
<line x1="346.4" y1="614.6" x2="346.4" y2="616.6" stroke="#999" stroke-width="0.8" />
<line x1="398.4" y1="614.6" x2="398.4" y2="616.6" stroke="#999" stroke-width="0.8" />
<line x1="450.4" y1="614.6" x2="450.4" y2="616.6" stroke="#999" stroke-width="0.8" />
<line x1="502.4" y1="614.6" x2="502.4" y2="616.6" stroke="#999" stroke-width="0.8" />
<line x1="554.4" y1="614.6" x2="554.4" y2="616.6" stroke="#999" stroke-width="0.8" />
<line x1="606.4" y1="614.6" x2="606.4" y2="616.6" stroke="#999" stroke-width="0.8" />
<rect x="622" y="539.5" width="16.7" height="78.5" fill="#000" />
<rect x="622" y="616.1" width="16.7" height="3.9" fill="#000" />
<rect x="623.9" y="541.4" width="12.3" height="74.7" fill="#44968a" />
<text transform="translate(626.1,578.75) rotate(90)" font-size="10.9" text-anchor="middle" fill="#1a1a1a">H32</text>
<text x="640.5" y="550.3" font-size="11.1" text-anchor="start" fill="#222" font-weight="normal" >290</text>
<text x="640.5" y="618.7" font-size="11.1" text-anchor="start" fill="#222" font-weight="normal" >275</text>
<line x1="47.8" y1="638.2" x2="621.2" y2="638.2" stroke="#f4f4f4" stroke-width="0.5" />
<line x1="47.8" y1="672.1" x2="621.2" y2="672.1" stroke="#f4f4f4" stroke-width="0.5" />
<line x1="47.8" y1="621.2" x2="621.2" y2="621.2" stroke="#ebebeb" stroke-width="0.6" />
<line x1="47.8" y1="655.2" x2="621.2" y2="655.2" stroke="#ebebeb" stroke-width="0.6" />
<line x1="47.8" y1="689" x2="621.2" y2="689" stroke="#ebebeb" stroke-width="0.6" />
<line x1="60.59" y1="618.4" x2="60.59" y2="692.2" stroke="#f4f4f4" stroke-width="0.5" />
<line x1="112.46" y1="618.4" x2="112.46" y2="692.2" stroke="#f4f4f4" stroke-width="0.5" />
<line x1="164.34" y1="618.4" x2="164.34" y2="692.2" stroke="#f4f4f4" stroke-width="0.5" />
<line x1="216.21" y1="618.4" x2="216.21" y2="692.2" stroke="#f4f4f4" stroke-width="0.5" />
<line x1="268.08" y1="618.4" x2="268.08" y2="692.2" stroke="#f4f4f4" stroke-width="0.5" />
<line x1="319.95" y1="618.4" x2="319.95" y2="692.2" stroke="#f4f4f4" stroke-width="0.5" />
<line x1="371.82" y1="618.4" x2="371.82" y2="692.2" stroke="#f4f4f4" stroke-width="0.5" />
<line x1="423.69" y1="618.4" x2="423.69" y2="692.2" stroke="#f4f4f4" stroke-width="0.5" />
<line x1="475.56" y1="618.4" x2="475.56" y2="692.2" stroke="#f4f4f4" stroke-width="0.5" />
<line x1="527.44" y1="618.4" x2="527.44" y2="692.2" stroke="#f4f4f4" stroke-width="0.5" />
<line x1="579.31" y1="618.4" x2="579.31" y2="692.2" stroke="#f4f4f4" stroke-width="0.5" />
<line x1="86.53" y1="618.4" x2="86.53" y2="692.2" stroke="#ebebeb" stroke-width="0.6" />
<line x1="138.4" y1="618.4" x2="138.4" y2="692.2" stroke="#ebebeb" stroke-width="0.6" />
<line x1="190.27" y1="618.4" x2="190.27" y2="692.2" stroke="#ebebeb" stroke-width="0.6" />
<line x1="242.14" y1="618.4" x2="242.14" y2="692.2" stroke="#ebebeb" stroke-width="0.6" />
<line x1="294.01" y1="618.4" x2="294.01" y2="692.2" stroke="#ebebeb" stroke-width="0.6" />
<line x1="345.89" y1="618.4" x2="345.89" y2="692.2" stroke="#ebebeb" stroke-width="0.6" />
<line x1="397.76" y1="618.4" x2="397.76" y2="692.2" stroke="#ebebeb" stroke-width="0.6" />
<line x1="449.63" y1="618.4" x2="449.63" y2="692.2" stroke="#ebebeb" stroke-width="0.6" />
<line x1="501.5" y1="618.4" x2="501.5" y2="692.2" stroke="#ebebeb" stroke-width="0.6" />
<line x1="553.37" y1="618.4" x2="553.37" y2="692.2" stroke="#ebebeb" stroke-width="0.6" />
<line x1="605.24" y1="618.4" x2="605.24" y2="692.2" stroke="#ebebeb" stroke-width="0.6" />
<rect x="85.75" y="688.5" width="2.7" height="0.6" fill="#ad92dc" />
<rect x="97.35" y="688.5" width="2.7" height="0.6" fill="#ad92dc" />
<rect x="109.85" y="688.5" width="2.7" height="0.6" fill="#ad92dc" />
<rect x="117.35" y="688.5" width="2.7" height="0.6" fill="#ad92dc" />
<rect x="141.75" y="688.5" width="2.7" height="0.6" fill="#ad92dc" />
<rect x="169.45" y="676.5" width="2.7" height="12.6" fill="#9577be" />
<rect x="173.65" y="671.5" width="2.7" height="17.6" fill="#9577be" />
<rect x="177.25" y="681.2" width="2.7" height="7.9" fill="#9577be" />
<rect x="181.45" y="663.2" width="2.7" height="25.9" fill="#9577be" />
<rect x="185.55" y="681.2" width="2.7" height="7.9" fill="#9577be" />
<rect x="189.45" y="650.7" width="2.7" height="38.4" fill="#9577be" />
<rect x="193.65" y="682.6" width="2.7" height="6.5" fill="#9577be" />
<rect x="197.25" y="681.5" width="2.7" height="7.6" fill="#9577be" />
<rect x="201.35" y="683.1" width="2.7" height="6" fill="#9577be" />
<rect x="205.55" y="682.3" width="2.7" height="6.8" fill="#9577be" />
<rect x="205.55" y="681.5" width="2.7" height="0.8" fill="#88ff70" />
<rect x="209.65" y="687.6" width="2.7" height="1.5" fill="#9577be" />
<rect x="213.35" y="681.2" width="2.7" height="7.9" fill="#9577be" />
<rect x="217.45" y="682" width="2.7" height="7.1" fill="#9577be" />
<rect x="221.35" y="684.8" width="2.7" height="4.3" fill="#9577be" />
<rect x="225.55" y="684.8" width="2.7" height="4.3" fill="#9577be" />
<rect x="229.15" y="687" width="2.7" height="2.1" fill="#9577be" />
<rect x="233.25" y="687.6" width="2.7" height="1.5" fill="#9577be" />
<rect x="240.35" y="687.5" width="2.7" height="1.6" fill="#ad92dc" />
<rect x="245.25" y="687.2" width="2.7" height="1.9" fill="#ad92dc" />
<rect x="257.25" y="685.5" width="2.7" height="3.6" fill="#9577be" />
<rect x="261.35" y="686.5" width="2.7" height="2.6" fill="#9577be" />
<rect x="265.15" y="686.5" width="2.7" height="2.6" fill="#9577be" />
<rect x="268.95" y="683.2" width="2.7" height="5.9" fill="#9577be" />
<rect x="273.05" y="683.8" width="2.7" height="5.3" fill="#9577be" />
<rect x="276.85" y="683.8" width="2.7" height="5.3" fill="#9577be" />
<rect x="280.65" y="683.8" width="2.7" height="5.3" fill="#9577be" />
<rect x="285.55" y="685.5" width="2.7" height="3.6" fill="#9577be" />
<rect x="297.25" y="687" width="2.7" height="2.1" fill="#ad92dc" />
<rect x="301.05" y="687.5" width="2.7" height="1.6" fill="#ad92dc" />
<rect x="333.75" y="687.5" width="2.7" height="1.6" fill="#ad92dc" />
<rect x="337.25" y="687.2" width="2.7" height="1.9" fill="#ad92dc" />
<rect x="341.05" y="687.5" width="2.7" height="1.6" fill="#ad92dc" />
<rect x="345.45" y="670.9" width="2.7" height="18.2" fill="#9577be" />
<rect x="345.45" y="669.1" width="2.7" height="1.8" fill="#d9d9d9" />
<rect x="351.25" y="688" width="2.7" height="1.1" fill="#ad92dc" />
<rect x="357.15" y="688" width="2.7" height="1.1" fill="#ad92dc" />
<rect x="361.45" y="688" width="2.7" height="1.1" fill="#ad92dc" />
<rect x="376.05" y="687.5" width="2.7" height="1.6" fill="#ad92dc" />
<rect x="380.45" y="687.2" width="2.7" height="1.9" fill="#ad92dc" />
<rect x="384.85" y="687" width="2.7" height="2.1" fill="#ad92dc" />
<rect x="390.65" y="688" width="2.7" height="1.1" fill="#ad92dc" />
<rect x="403.85" y="688" width="2.7" height="1.1" fill="#ad92dc" />
<rect x="412.55" y="688" width="2.7" height="1.1" fill="#ad92dc" />
<rect x="419.85" y="687" width="2.7" height="2.1" fill="#ad92dc" />
<rect x="427.15" y="687" width="2.7" height="2.1" fill="#ad92dc" />
<rect x="422.65" y="687.8" width="2.7" height="1.3" fill="#ad92dc" />
<rect x="426.65" y="687.8" width="2.7" height="1.3" fill="#ad92dc" />
<rect x="430.65" y="688" width="2.7" height="1.1" fill="#ad92dc" />
<rect x="434.65" y="688.3" width="2.7" height="0.8" fill="#ad92dc" />
<rect x="83.65" y="688.2" width="2.7" height="0.9" fill="#c4b1f0" />
<rect x="87.98" y="688.08" width="2.7" height="1.02" fill="#c4b1f0" />
<rect x="92.31" y="687.97" width="2.7" height="1.13" fill="#c4b1f0" />
<rect x="100.97" y="687.85" width="2.7" height="1.25" fill="#c4b1f0" />
<rect x="105.3" y="687.73" width="2.7" height="1.37" fill="#c4b1f0" />
<rect x="113.96" y="687.62" width="2.7" height="1.48" fill="#c4b1f0" />
<rect x="122.62" y="687.5" width="2.7" height="1.6" fill="#c4b1f0" />
<rect x="126.95" y="688.14" width="2.7" height="0.96" fill="#c4b1f0" />
<rect x="131.28" y="688.02" width="2.7" height="1.07" fill="#c4b1f0" />
<rect x="135.61" y="687.91" width="2.7" height="1.19" fill="#c4b1f0" />
<rect x="144.27" y="687.79" width="2.7" height="1.31" fill="#c4b1f0" />
<rect x="148.6" y="687.68" width="2.7" height="1.42" fill="#c4b1f0" />
<rect x="166.65" y="687.56" width="2.7" height="1.54" fill="#c4b1f0" />
<rect x="235.93" y="688.2" width="2.7" height="0.9" fill="#c4b1f0" />
<rect x="248.92" y="688.08" width="2.7" height="1.02" fill="#c4b1f0" />
<rect x="253.25" y="687.97" width="2.7" height="1.13" fill="#c4b1f0" />
<rect x="287.89" y="687.85" width="2.7" height="1.25" fill="#c4b1f0" />
<rect x="292.22" y="687.73" width="2.7" height="1.37" fill="#c4b1f0" />
<rect x="305.21" y="687.62" width="2.7" height="1.48" fill="#c4b1f0" />
<rect x="309.54" y="687.5" width="2.7" height="1.6" fill="#c4b1f0" />
<rect x="313.87" y="688.14" width="2.7" height="0.96" fill="#c4b1f0" />
<rect x="318.2" y="688.02" width="2.7" height="1.07" fill="#c4b1f0" />
<rect x="322.53" y="687.91" width="2.7" height="1.19" fill="#c4b1f0" />
<rect x="326.86" y="687.79" width="2.7" height="1.31" fill="#c4b1f0" />
<rect x="331.19" y="687.68" width="2.7" height="1.42" fill="#c4b1f0" />
<rect x="348.51" y="687.56" width="2.7" height="1.54" fill="#c4b1f0" />
<rect x="365.83" y="688.2" width="2.7" height="0.9" fill="#c4b1f0" />
<rect x="370.16" y="688.08" width="2.7" height="1.02" fill="#c4b1f0" />
<rect x="387.48" y="687.97" width="2.7" height="1.13" fill="#c4b1f0" />
<rect x="396.14" y="687.85" width="2.7" height="1.25" fill="#c4b1f0" />
<rect x="400.47" y="687.73" width="2.7" height="1.37" fill="#c4b1f0" />
<rect x="409.13" y="687.62" width="2.7" height="1.48" fill="#c4b1f0" />
<rect x="417.79" y="687.5" width="2.7" height="1.6" fill="#c4b1f0" />
<rect x="439.44" y="688.14" width="2.7" height="0.96" fill="#c4b1f0" />
<rect x="443.77" y="688.02" width="2.7" height="1.07" fill="#c4b1f0" />
<rect x="448.1" y="687.91" width="2.7" height="1.19" fill="#c4b1f0" />
<rect x="452.43" y="687.79" width="2.7" height="1.31" fill="#c4b1f0" />
<rect x="456.76" y="687.68" width="2.7" height="1.42" fill="#c4b1f0" />
<rect x="461.09" y="687.56" width="2.7" height="1.54" fill="#c4b1f0" />
<rect x="465.42" y="688.2" width="2.7" height="0.9" fill="#c4b1f0" />
<path d="M73.9,667.6 C74.55,667.08 77.15,664.98 78.5,663.9 C79.85,662.82 82.2,661.09 83.4,660 C84.6,658.91 85.97,657.33 87,656.2 C88.03,655.07 89.85,653.09 90.7,652 C91.55,650.91 92.39,649.53 93,648.5 C93.61,647.47 94.29,645.59 95,644.7 C95.71,643.81 97.29,642.67 98,642.2 C98.71,641.73 99.39,641.56 100,641.4 C100.61,641.24 101.66,641.1 102.3,641.1 C102.94,641.1 103.88,641.24 104.5,641.4 C105.12,641.56 105.92,641.89 106.7,642.2 C107.48,642.51 109.06,643.19 110,643.6 C110.94,644.01 112.11,644.77 113.3,645.1 C114.49,645.43 116.74,645.55 118.4,645.9 C120.06,646.25 123.14,647.25 125,647.6 C126.86,647.95 129.96,648.13 131.5,648.4 C133.04,648.67 134.44,648.99 135.9,649.5 C137.36,650.01 139.94,651.33 141.8,652 C143.66,652.67 147.98,653.89 149,654.2" fill="none" stroke="#1a1a1a" stroke-width="0.85" stroke-linejoin="round" stroke-linecap="round"/>
<path d="M166.7,654.8 C167.48,655 170.83,656.12 172.2,656.2 C173.57,656.29 175.03,655.98 176.4,655.4 C177.77,654.82 180.33,652.96 181.9,652.1 C183.47,651.24 185.93,649.89 187.5,649.3 C189.07,648.7 191.43,647.9 193,647.9 C194.57,647.9 197.03,648.7 198.6,649.3 C200.17,649.89 202.53,651.19 204.1,652.1 C205.67,653.01 208.13,654.61 209.7,655.7 C211.27,656.79 213.63,658.82 215.2,659.8 C216.77,660.78 219.23,662.12 220.8,662.6 C222.37,663.08 224.93,663.2 226.3,663.2 C227.67,663.2 229.35,663.08 230.5,662.6 C231.65,662.12 233.85,660.2 234.4,659.8" fill="none" stroke="#1a1a1a" stroke-width="0.85" stroke-linejoin="round" stroke-linecap="round"/>
<path d="M240.2,655.4 C241.23,654.71 245.63,650.91 247.5,650.5 C249.37,650.09 251.74,651.81 253.4,652.5 C255.06,653.19 257.56,654.45 259.2,655.4 C260.84,656.35 263.14,658.08 265,659.2 C266.86,660.32 270.43,662.18 272.3,663.3 C274.17,664.42 277.36,666.56 278.2,667.1" fill="none" stroke="#1a1a1a" stroke-width="0.85" stroke-linejoin="round" stroke-linecap="round"/>
<path d="M282,669.1 C282.69,669.1 285.37,669.51 286.9,669.1 C288.43,668.69 291.14,666.89 292.8,666.2 C294.46,665.51 297.16,664.48 298.6,664.2 C300.05,663.92 302.38,664.2 303,664.2" fill="none" stroke="#1a1a1a" stroke-width="0.85" stroke-linejoin="round" stroke-linecap="round"/>
<path d="M305.9,665.1 C306.74,665.1 310.14,665.23 311.8,665.1 C313.46,664.97 315.96,664.74 317.6,664.2 C319.24,663.66 321.95,662.55 323.4,661.3 C324.84,660.05 326.55,657.47 327.8,655.4 C329.05,653.33 330.95,648.9 332.2,646.7 C333.45,644.5 335.37,641.27 336.6,639.9 C337.83,638.53 339.87,637.69 340.9,637 C341.93,636.31 343.47,635.28 343.9,635" fill="none" stroke="#1a1a1a" stroke-width="0.85" stroke-linejoin="round" stroke-linecap="round"/>
<path d="M349.7,640.8 C350.52,641.21 353.84,642.67 355.5,643.7 C357.16,644.73 359.74,646.85 361.4,648.1 C363.06,649.35 365.54,651.25 367.2,652.5 C368.86,653.75 371.44,655.65 373.1,656.9 C374.76,658.15 377.26,660.39 378.9,661.3 C380.54,662.21 383.88,663.02 384.7,663.3" fill="none" stroke="#1a1a1a" stroke-width="0.85" stroke-linejoin="round" stroke-linecap="round"/>
<path d="M395,663.3 C395.82,663.13 399.16,662.38 400.8,662.1 C402.44,661.82 404.94,661.34 406.6,661.3 C408.26,661.26 410.84,661.39 412.5,661.8 C414.16,662.21 416.64,663.58 418.3,664.2 C419.96,664.82 422.85,665.66 424.2,666.2 C425.55,666.74 426.45,667.46 427.8,668 C429.15,668.54 432.24,669.72 433.7,670 C435.16,670.28 436.87,670.41 438.1,670 C439.33,669.59 441.17,668.05 442.4,667.1 C443.63,666.15 445.55,664.05 446.8,663.3 C448.05,662.55 449.95,662.08 451.2,661.8 C452.45,661.52 454.35,661.58 455.6,661.3 C456.85,661.02 458.56,659.93 460,659.8 C461.44,659.67 464.16,659.99 465.8,660.4 C467.44,660.81 469.94,661.88 471.6,662.7 C473.26,663.52 475.84,665.25 477.5,666.2 C479.16,667.15 481.64,668.73 483.3,669.4 C484.96,670.07 487.75,670.94 489.2,670.9 C490.64,670.86 492.18,669.77 493.5,669.1 C494.82,668.43 497.79,666.61 498.5,666.2" fill="none" stroke="#1a1a1a" stroke-width="0.85" stroke-linejoin="round" stroke-linecap="round"/>
<path d="M502.3,663.3 C503.12,663.09 506.44,662.17 508.1,661.8 C509.76,661.43 512.34,660.77 514,660.7 C515.66,660.63 518.35,661.02 519.8,661.3 C521.25,661.58 523.58,662.5 524.2,662.7" fill="none" stroke="#1a1a1a" stroke-width="0.85" stroke-linejoin="round" stroke-linecap="round"/>
<path d="M528.6,665.1 C529.42,665.51 532.96,667.43 534.4,668 C535.84,668.57 537.55,669.1 538.8,669.1 C540.05,669.1 541.75,668.82 543.2,668 C544.65,667.18 547.36,664.46 549,663.3 C550.64,662.14 553.35,660.47 554.8,659.8 C556.25,659.13 557.95,658.73 559.2,658.6 C560.45,658.47 562.98,658.86 563.6,658.9" fill="none" stroke="#1a1a1a" stroke-width="0.85" stroke-linejoin="round" stroke-linecap="round"/>
<path d="M570.9,659.8 C571.72,660.3 575.04,662.27 576.7,663.3 C578.36,664.33 580.94,666.24 582.6,667.1 C584.26,667.96 586.54,669.12 588.4,669.4 C590.26,669.68 594.67,669.14 595.7,669.1" fill="none" stroke="#1a1a1a" stroke-width="0.85" stroke-linejoin="round" stroke-linecap="round"/>
<rect x="47.8" y="618.4" width="573.4" height="73.8" fill="none" stroke="#d2d2d2" stroke-width="1"/>
<line x1="47.8" y1="617.9" x2="47.8" y2="692.7" stroke="#a9a9a9" stroke-width="1.0" />
<line x1="45.8" y1="621.2" x2="47.8" y2="621.2" stroke="#a9a9a9" stroke-width="0.8" />
<text x="44.5" y="629.1" font-size="10.9" text-anchor="end" fill="#222" font-weight="normal" >50</text>
<line x1="45.8" y1="655.2" x2="47.8" y2="655.2" stroke="#a9a9a9" stroke-width="0.8" />
<text x="44.5" y="662.3" font-size="10.9" text-anchor="end" fill="#222" font-weight="normal" >25</text>
<line x1="45.8" y1="689" x2="47.8" y2="689" stroke="#a9a9a9" stroke-width="0.8" />
<text x="44.5" y="697.4" font-size="10.9" text-anchor="end" fill="#222" font-weight="normal" >0</text>
<line x1="86.53" y1="692.2" x2="86.53" y2="694.2" stroke="#999" stroke-width="0.8" />
<line x1="138.4" y1="692.2" x2="138.4" y2="694.2" stroke="#999" stroke-width="0.8" />
<line x1="190.27" y1="692.2" x2="190.27" y2="694.2" stroke="#999" stroke-width="0.8" />
<line x1="242.14" y1="692.2" x2="242.14" y2="694.2" stroke="#999" stroke-width="0.8" />
<line x1="294.01" y1="692.2" x2="294.01" y2="694.2" stroke="#999" stroke-width="0.8" />
<line x1="345.89" y1="692.2" x2="345.89" y2="694.2" stroke="#999" stroke-width="0.8" />
<line x1="397.76" y1="692.2" x2="397.76" y2="694.2" stroke="#999" stroke-width="0.8" />
<line x1="449.63" y1="692.2" x2="449.63" y2="694.2" stroke="#999" stroke-width="0.8" />
<line x1="501.5" y1="692.2" x2="501.5" y2="694.2" stroke="#999" stroke-width="0.8" />
<line x1="553.37" y1="692.2" x2="553.37" y2="694.2" stroke="#999" stroke-width="0.8" />
<line x1="605.24" y1="692.2" x2="605.24" y2="694.2" stroke="#999" stroke-width="0.8" />
<rect x="622" y="618.1" width="16.7" height="79.1" fill="#000" />
<rect x="622" y="695.3" width="16.7" height="4.5" fill="#000" />
<rect x="623.9" y="620" width="12.3" height="75.3" fill="#d69ae4" />
<text transform="translate(626.1,657.65) rotate(90)" font-size="10.9" text-anchor="middle" fill="#1a1a1a">H53</text>
<text x="640.5" y="628.5" font-size="11.1" text-anchor="start" fill="#222" font-weight="normal" >240</text>
<text x="640.5" y="696.7" font-size="11.1" text-anchor="start" fill="#222" font-weight="normal" >215</text>
<line x1="45.6" y1="714.5" x2="621.2" y2="714.5" stroke="#f4f4f4" stroke-width="0.5" />
<line x1="45.6" y1="737.1" x2="621.2" y2="737.1" stroke="#f4f4f4" stroke-width="0.5" />
<line x1="45.6" y1="759.7" x2="621.2" y2="759.7" stroke="#f4f4f4" stroke-width="0.5" />
<line x1="45.6" y1="703.2" x2="621.2" y2="703.2" stroke="#ebebeb" stroke-width="0.6" />
<line x1="45.6" y1="725.8" x2="621.2" y2="725.8" stroke="#ebebeb" stroke-width="0.6" />
<line x1="45.6" y1="748.4" x2="621.2" y2="748.4" stroke="#ebebeb" stroke-width="0.6" />
<line x1="45.6" y1="771" x2="621.2" y2="771" stroke="#ebebeb" stroke-width="0.6" />
<line x1="59.5" y1="699.6" x2="59.5" y2="774.1" stroke="#f4f4f4" stroke-width="0.5" />
<line x1="111.5" y1="699.6" x2="111.5" y2="774.1" stroke="#f4f4f4" stroke-width="0.5" />
<line x1="163.5" y1="699.6" x2="163.5" y2="774.1" stroke="#f4f4f4" stroke-width="0.5" />
<line x1="215.5" y1="699.6" x2="215.5" y2="774.1" stroke="#f4f4f4" stroke-width="0.5" />
<line x1="267.5" y1="699.6" x2="267.5" y2="774.1" stroke="#f4f4f4" stroke-width="0.5" />
<line x1="319.5" y1="699.6" x2="319.5" y2="774.1" stroke="#f4f4f4" stroke-width="0.5" />
<line x1="371.5" y1="699.6" x2="371.5" y2="774.1" stroke="#f4f4f4" stroke-width="0.5" />
<line x1="423.5" y1="699.6" x2="423.5" y2="774.1" stroke="#f4f4f4" stroke-width="0.5" />
<line x1="475.5" y1="699.6" x2="475.5" y2="774.1" stroke="#f4f4f4" stroke-width="0.5" />
<line x1="527.5" y1="699.6" x2="527.5" y2="774.1" stroke="#f4f4f4" stroke-width="0.5" />
<line x1="579.5" y1="699.6" x2="579.5" y2="774.1" stroke="#f4f4f4" stroke-width="0.5" />
<line x1="85.5" y1="699.6" x2="85.5" y2="774.1" stroke="#ebebeb" stroke-width="0.6" />
<line x1="137.5" y1="699.6" x2="137.5" y2="774.1" stroke="#ebebeb" stroke-width="0.6" />
<line x1="189.5" y1="699.6" x2="189.5" y2="774.1" stroke="#ebebeb" stroke-width="0.6" />
<line x1="241.5" y1="699.6" x2="241.5" y2="774.1" stroke="#ebebeb" stroke-width="0.6" />
<line x1="293.5" y1="699.6" x2="293.5" y2="774.1" stroke="#ebebeb" stroke-width="0.6" />
<line x1="345.5" y1="699.6" x2="345.5" y2="774.1" stroke="#ebebeb" stroke-width="0.6" />
<line x1="397.5" y1="699.6" x2="397.5" y2="774.1" stroke="#ebebeb" stroke-width="0.6" />
<line x1="449.5" y1="699.6" x2="449.5" y2="774.1" stroke="#ebebeb" stroke-width="0.6" />
<line x1="501.5" y1="699.6" x2="501.5" y2="774.1" stroke="#ebebeb" stroke-width="0.6" />
<line x1="553.5" y1="699.6" x2="553.5" y2="774.1" stroke="#ebebeb" stroke-width="0.6" />
<line x1="605.5" y1="699.6" x2="605.5" y2="774.1" stroke="#ebebeb" stroke-width="0.6" />
<rect x="77.35" y="769.6" width="2.7" height="1.3" fill="#9577be" />
<rect x="84.85" y="768.5" width="2.7" height="2.4" fill="#9577be" />
<rect x="100.15" y="769.6" width="2.7" height="1.3" fill="#9577be" />
<rect x="105.15" y="769.6" width="2.7" height="1.3" fill="#f46268" />
<rect x="140.35" y="769.3" width="2.7" height="1.6" fill="#9577be" />
<rect x="168.05" y="768.7" width="2.7" height="2.2" fill="#9577be" />
<rect x="177.25" y="769.6" width="2.7" height="1.3" fill="#9577be" />
<rect x="195.85" y="768.3" width="2.7" height="2.6" fill="#9577be" />
<rect x="199.95" y="762.6" width="2.7" height="8.3" fill="#9577be" />
<rect x="204.15" y="764.6" width="2.7" height="6.3" fill="#9577be" />
<rect x="208.35" y="769.3" width="2.7" height="1.6" fill="#9577be" />
<rect x="212.45" y="768.3" width="2.7" height="2.6" fill="#9577be" />
<rect x="216.65" y="765.1" width="2.7" height="5.8" fill="#9577be" />
<rect x="220.75" y="769.6" width="2.7" height="1.3" fill="#9577be" />
<rect x="224.95" y="769.6" width="2.7" height="1.3" fill="#9577be" />
<rect x="243.85" y="769.3" width="2.7" height="1.6" fill="#9577be" />
<rect x="247.65" y="769.3" width="2.7" height="1.6" fill="#9577be" />
<rect x="256.35" y="769.3" width="2.7" height="1.6" fill="#9577be" />
<rect x="260.15" y="767.3" width="2.7" height="3.6" fill="#9577be" />
<rect x="268.05" y="769.2" width="2.7" height="1.7" fill="#9577be" />
<rect x="271.85" y="767.3" width="2.7" height="3.6" fill="#9577be" />
<rect x="275.95" y="765.2" width="2.7" height="5.7" fill="#9577be" />
<rect x="279.75" y="768" width="2.7" height="2.9" fill="#9577be" />
<rect x="284.15" y="768.5" width="2.7" height="2.4" fill="#9577be" />
<rect x="288.55" y="768.8" width="2.7" height="2.1" fill="#9577be" />
<rect x="296.35" y="768" width="2.7" height="2.9" fill="#9577be" />
<rect x="300.15" y="765.2" width="2.7" height="5.7" fill="#9577be" />
<rect x="304.55" y="769.5" width="2.7" height="1.4" fill="#c4aff8" />
<rect x="339.55" y="769.5" width="2.7" height="1.4" fill="#c4aff8" />
<rect x="408.25" y="769.2" width="2.7" height="1.7" fill="#c4aff8" />
<rect x="412.55" y="769.2" width="2.7" height="1.7" fill="#9577be" />
<rect x="416.95" y="769.2" width="2.7" height="1.7" fill="#9577be" />
<rect x="421.35" y="769.2" width="2.7" height="1.7" fill="#9577be" />
<rect x="425.75" y="768.7" width="2.7" height="2.2" fill="#9577be" />
<rect x="430.65" y="769.5" width="2.7" height="1.4" fill="#9577be" />
<rect x="451.65" y="769.6" width="2.7" height="1.3" fill="#c4aff8" />
<rect x="455.65" y="769.6" width="2.7" height="1.3" fill="#9577be" />
<rect x="459.65" y="769.6" width="2.7" height="1.3" fill="#9577be" />
<rect x="471.65" y="769.3" width="2.7" height="1.6" fill="#9577be" />
<rect x="475.65" y="769.3" width="2.7" height="1.6" fill="#9577be" />
<rect x="513.65" y="769.8" width="2.7" height="1.1" fill="#c4aff8" />
<rect x="518.65" y="769.8" width="2.7" height="1.1" fill="#c4aff8" />
<rect x="538.65" y="769.8" width="2.7" height="1.1" fill="#c4aff8" />
<rect x="550.65" y="769.8" width="2.7" height="1.1" fill="#c4aff8" />
<rect x="74.65" y="770" width="2.7" height="0.9" fill="#c4b1f0" />
<rect x="87.64" y="769.88" width="2.7" height="1.02" fill="#c4b1f0" />
<rect x="91.97" y="769.77" width="2.7" height="1.13" fill="#c4b1f0" />
<rect x="96.3" y="769.65" width="2.7" height="1.25" fill="#c4b1f0" />
<rect x="109.29" y="769.53" width="2.7" height="1.37" fill="#c4b1f0" />
<rect x="113.62" y="769.42" width="2.7" height="1.48" fill="#c4b1f0" />
<rect x="117.95" y="769.3" width="2.7" height="1.6" fill="#c4b1f0" />
<rect x="122.28" y="769.94" width="2.7" height="0.96" fill="#c4b1f0" />
<rect x="126.61" y="769.82" width="2.7" height="1.07" fill="#c4b1f0" />
<rect x="130.94" y="769.71" width="2.7" height="1.19" fill="#c4b1f0" />
<rect x="135.27" y="769.59" width="2.7" height="1.31" fill="#c4b1f0" />
<rect x="143.93" y="769.48" width="2.7" height="1.42" fill="#c4b1f0" />
<rect x="148.26" y="769.36" width="2.7" height="1.54" fill="#c4b1f0" />
<rect x="152.59" y="770" width="2.7" height="0.9" fill="#c4b1f0" />
<rect x="156.92" y="769.88" width="2.7" height="1.02" fill="#c4b1f0" />
<rect x="161.25" y="769.77" width="2.7" height="1.13" fill="#c4b1f0" />
<rect x="165.58" y="769.65" width="2.7" height="1.25" fill="#c4b1f0" />
<rect x="174.24" y="769.53" width="2.7" height="1.37" fill="#c4b1f0" />
<rect x="182.9" y="769.42" width="2.7" height="1.48" fill="#c4b1f0" />
<rect x="187.23" y="769.3" width="2.7" height="1.6" fill="#c4b1f0" />
<rect x="191.56" y="769.94" width="2.7" height="0.96" fill="#c4b1f0" />
<rect x="230.53" y="769.82" width="2.7" height="1.07" fill="#c4b1f0" />
<rect x="234.86" y="769.71" width="2.7" height="1.19" fill="#c4b1f0" />
<rect x="239.19" y="769.59" width="2.7" height="1.31" fill="#c4b1f0" />
<rect x="252.18" y="769.48" width="2.7" height="1.42" fill="#c4b1f0" />
<rect x="265.17" y="769.36" width="2.7" height="1.54" fill="#c4b1f0" />
<rect x="291.15" y="770" width="2.7" height="0.9" fill="#c4b1f0" />
<rect x="308.47" y="769.88" width="2.7" height="1.02" fill="#c4b1f0" />
<rect x="312.8" y="769.77" width="2.7" height="1.13" fill="#c4b1f0" />
<rect x="317.13" y="769.65" width="2.7" height="1.25" fill="#c4b1f0" />
<rect x="321.46" y="769.53" width="2.7" height="1.37" fill="#c4b1f0" />
<rect x="325.79" y="769.42" width="2.7" height="1.48" fill="#c4b1f0" />
<rect x="330.12" y="769.3" width="2.7" height="1.6" fill="#c4b1f0" />
<rect x="334.45" y="769.94" width="2.7" height="0.96" fill="#c4b1f0" />
<rect x="343.11" y="769.82" width="2.7" height="1.07" fill="#c4b1f0" />
<rect x="347.44" y="769.71" width="2.7" height="1.19" fill="#c4b1f0" />
<rect x="351.77" y="769.59" width="2.7" height="1.31" fill="#c4b1f0" />
<rect x="356.1" y="769.48" width="2.7" height="1.42" fill="#c4b1f0" />
<rect x="360.43" y="769.36" width="2.7" height="1.54" fill="#c4b1f0" />
<rect x="364.76" y="770" width="2.7" height="0.9" fill="#c4b1f0" />
<rect x="369.09" y="769.88" width="2.7" height="1.02" fill="#c4b1f0" />
<rect x="373.42" y="769.77" width="2.7" height="1.13" fill="#c4b1f0" />
<rect x="377.75" y="769.65" width="2.7" height="1.25" fill="#c4b1f0" />
<rect x="382.08" y="769.53" width="2.7" height="1.37" fill="#c4b1f0" />
<rect x="386.41" y="769.42" width="2.7" height="1.48" fill="#c4b1f0" />
<rect x="390.74" y="769.3" width="2.7" height="1.6" fill="#c4b1f0" />
<rect x="395.07" y="769.94" width="2.7" height="0.96" fill="#c4b1f0" />
<rect x="399.4" y="769.82" width="2.7" height="1.07" fill="#c4b1f0" />
<rect x="403.73" y="769.71" width="2.7" height="1.19" fill="#c4b1f0" />
<rect x="434.04" y="769.59" width="2.7" height="1.31" fill="#c4b1f0" />
<rect x="438.37" y="769.48" width="2.7" height="1.42" fill="#c4b1f0" />
<rect x="442.7" y="769.36" width="2.7" height="1.54" fill="#c4b1f0" />
<rect x="447.03" y="770" width="2.7" height="0.9" fill="#c4b1f0" />
<rect x="464.35" y="769.88" width="2.7" height="1.02" fill="#c4b1f0" />
<rect x="468.68" y="769.77" width="2.7" height="1.13" fill="#c4b1f0" />
<rect x="481.67" y="769.65" width="2.7" height="1.25" fill="#c4b1f0" />
<rect x="486" y="769.53" width="2.7" height="1.37" fill="#c4b1f0" />
<rect x="490.33" y="769.42" width="2.7" height="1.48" fill="#c4b1f0" />
<rect x="494.66" y="769.3" width="2.7" height="1.6" fill="#c4b1f0" />
<rect x="498.99" y="769.94" width="2.7" height="0.96" fill="#c4b1f0" />
<rect x="503.32" y="769.82" width="2.7" height="1.07" fill="#c4b1f0" />
<rect x="507.65" y="769.71" width="2.7" height="1.19" fill="#c4b1f0" />
<rect x="516.31" y="769.59" width="2.7" height="1.31" fill="#c4b1f0" />
<rect x="524.97" y="769.48" width="2.7" height="1.42" fill="#c4b1f0" />
<rect x="529.3" y="769.36" width="2.7" height="1.54" fill="#c4b1f0" />
<rect x="533.63" y="770" width="2.7" height="0.9" fill="#c4b1f0" />
<rect x="542.29" y="769.88" width="2.7" height="1.02" fill="#c4b1f0" />
<rect x="546.62" y="769.77" width="2.7" height="1.13" fill="#c4b1f0" />
<rect x="555.28" y="769.65" width="2.7" height="1.25" fill="#c4b1f0" />
<rect x="559.61" y="769.53" width="2.7" height="1.37" fill="#c4b1f0" />
<rect x="563.94" y="769.42" width="2.7" height="1.48" fill="#c4b1f0" />
<rect x="568.27" y="769.3" width="2.7" height="1.6" fill="#c4b1f0" />
<rect x="572.6" y="769.94" width="2.7" height="0.96" fill="#c4b1f0" />
<rect x="576.93" y="769.82" width="2.7" height="1.07" fill="#c4b1f0" />
<rect x="581.26" y="769.71" width="2.7" height="1.19" fill="#c4b1f0" />
<rect x="585.59" y="769.59" width="2.7" height="1.31" fill="#c4b1f0" />
<rect x="589.92" y="769.48" width="2.7" height="1.42" fill="#c4b1f0" />
<rect x="594.25" y="769.36" width="2.7" height="1.54" fill="#c4b1f0" />
<rect x="598.58" y="770" width="2.7" height="0.9" fill="#c4b1f0" />
<path d="M72.4,749.3 C72.78,748.63 74.12,745.97 75.1,744.6 C76.08,743.23 78.31,740.78 79.3,739.6 C80.29,738.42 81.39,737.67 82.1,736.3 C82.81,734.93 83.59,731.4 84.3,729.9 C85.01,728.4 86.32,726.68 87.1,725.7 C87.88,724.72 89.42,723.38 89.8,723" fill="none" stroke="#1a1a1a" stroke-width="0.85" stroke-linejoin="round" stroke-linecap="round"/>
<path d="M93.7,717.4 C94.21,717.71 96.19,718.74 97.3,719.6 C98.41,720.46 100.32,722.31 101.5,723.5 C102.68,724.69 104.62,726.89 105.6,728 C106.58,729.11 107.61,730.76 108.4,731.3 C109.19,731.84 110.41,731.88 111.2,731.8 C111.99,731.71 113.02,730.7 114,730.7 C114.98,730.7 116.92,731.4 118.1,731.8 C119.28,732.2 121.12,733.17 122.3,733.5 C123.48,733.83 125.42,734.1 126.4,734.1 C127.38,734.1 128.21,733.19 129.2,733.5 C130.19,733.81 132.22,735.44 133.4,736.3 C134.58,737.16 136.44,738.93 137.5,739.6 C138.56,740.27 140.11,740.91 140.9,741 C141.69,741.09 142.39,740 143.1,740.2 C143.81,740.4 144.92,742.09 145.9,742.4 C146.88,742.71 148.82,742.6 150,742.4 C151.18,742.2 153.02,741.09 154.2,741 C155.38,740.91 157.12,741.29 158.3,741.8 C159.48,742.31 161.51,744.32 162.5,744.6 C163.49,744.88 164.32,743.53 165.3,743.8 C166.28,744.07 168.22,746.9 169.4,746.5 C170.58,746.1 172.41,742.37 173.6,741 C174.79,739.63 176.62,737.71 177.8,736.8 C178.98,735.89 180.92,735.07 181.9,734.6 C182.88,734.13 183.71,734.17 184.7,733.5 C185.69,732.83 187.72,730.01 188.9,729.9 C190.08,729.79 191.63,731.52 193,732.7 C194.37,733.88 197.03,736.63 198.6,738.2 C200.17,739.77 202.53,742.23 204.1,743.8 C205.67,745.37 208.33,747.93 209.7,749.3 C211.07,750.67 212.71,752.51 213.8,753.5 C214.89,754.49 216.34,756.5 217.4,756.3 C218.46,756.1 220.75,752.7 221.3,752.1" fill="none" stroke="#1a1a1a" stroke-width="0.85" stroke-linejoin="round" stroke-linecap="round"/>
<path d="M224.9,752.9 C225.5,752.19 227.92,749.59 229.1,747.9 C230.28,746.21 232.17,742.49 233.2,741 C234.23,739.51 235.28,738.45 236.4,737.4 C237.52,736.35 239.73,733.88 241.1,733.6 C242.47,733.32 244.57,734.56 246.1,735.4 C247.63,736.24 251.08,738.92 251.9,739.5" fill="none" stroke="#1a1a1a" stroke-width="0.85" stroke-linejoin="round" stroke-linecap="round"/>
<path d="M256.3,743.3 C257.12,744.12 260.44,747.57 262.1,749.1 C263.76,750.63 266.34,752.85 268,754.1 C269.66,755.35 272.48,757.08 273.8,757.9 C275.12,758.72 276.8,759.62 277.3,759.9" fill="none" stroke="#1a1a1a" stroke-width="0.85" stroke-linejoin="round" stroke-linecap="round"/>
<path d="M282,762.2 C282.5,761.17 284.38,756.54 285.5,754.9 C286.62,753.26 288.45,751.29 289.9,750.6 C291.34,749.91 294.06,749.8 295.7,750 C297.34,750.2 300.14,751.31 301.5,752 C302.86,752.69 304.27,754.9 305.3,754.9 C306.33,754.9 307.68,752.28 308.8,752 C309.92,751.72 312.17,752.6 313.2,752.9 C314.23,753.2 315.07,754.43 316.1,754.1 C317.13,753.77 319.25,751.93 320.5,750.6 C321.75,749.27 323.65,746.77 324.9,744.7 C326.15,742.63 328.07,738.56 329.3,736 C330.53,733.44 332.45,728.17 333.6,726.6 C334.75,725.03 336.37,725.14 337.4,724.9 C338.43,724.66 339.78,725.4 340.9,724.9 C342.02,724.4 344.14,721.4 345.3,721.4 C346.46,721.4 348.56,724.4 349.1,724.9" fill="none" stroke="#1a1a1a" stroke-width="0.85" stroke-linejoin="round" stroke-linecap="round"/>
<path d="M354.1,730.1 C354.92,731.13 358.24,735.42 359.9,737.4 C361.56,739.38 364.14,742.23 365.8,744.1 C367.46,745.97 369.96,748.94 371.6,750.6 C373.24,752.26 375.95,755.19 377.4,755.8 C378.84,756.41 380.55,755.31 381.8,754.9 C383.05,754.49 384.95,753.31 386.2,752.9 C387.45,752.49 389.57,752.67 390.6,752 C391.63,751.33 392.47,748.61 393.5,748.2 C394.53,747.79 396.65,749.51 397.9,749.1 C399.15,748.69 401.27,745.92 402.3,745.3 C403.33,744.68 404.79,744.79 405.2,744.7" fill="none" stroke="#1a1a1a" stroke-width="0.85" stroke-linejoin="round" stroke-linecap="round"/>
<path d="M408.7,747.1 C409.44,747.67 412.33,749.87 413.9,751.1 C415.47,752.33 418.14,754.55 419.8,755.8 C421.46,757.05 424.04,759.08 425.6,759.9 C427.16,760.72 429.45,761.69 430.8,761.6 C432.15,761.51 433.87,760.66 435.1,759.3 C436.33,757.94 438.25,753.86 439.5,752 C440.75,750.14 442.74,747.32 443.9,746.2 C445.06,745.08 446.45,744.23 447.7,744.1 C448.95,743.97 451.58,744.8 452.7,745.3 C453.82,745.8 454.91,747.88 455.6,747.6 C456.29,747.32 456.57,743.5 457.6,743.3 C458.63,743.1 461.33,745.17 462.9,746.2 C464.47,747.23 467.04,749.37 468.7,750.6 C470.36,751.83 472.94,753.67 474.6,754.9 C476.26,756.13 478.67,757.93 480.4,759.3 C482.13,760.67 485.36,764.6 486.8,764.6 C488.25,764.6 489.44,761.08 490.6,759.3 C491.76,757.51 493.75,753.57 495,752 C496.25,750.43 498.78,748.74 499.4,748.2" fill="none" stroke="#1a1a1a" stroke-width="0.85" stroke-linejoin="round" stroke-linecap="round"/>
<path d="M502.3,745.3 C503.12,745.13 506.44,743.85 508.1,744.1 C509.76,744.36 512.34,746.11 514,747.1 C515.66,748.09 518.16,749.87 519.8,751.1 C521.44,752.33 523.94,754.55 525.6,755.8 C527.26,757.05 530.04,759.19 531.5,759.9 C532.96,760.61 534.67,761.51 535.9,760.8 C537.13,760.09 538.97,756.68 540.2,754.9 C541.43,753.12 543.35,749.84 544.6,748.2 C545.85,746.56 547.75,744.42 549,743.3 C550.25,742.18 552.15,740.6 553.4,740.3 C554.65,740 556.35,740.49 557.8,741.2 C559.25,741.91 562.78,744.72 563.6,745.3" fill="none" stroke="#1a1a1a" stroke-width="0.85" stroke-linejoin="round" stroke-linecap="round"/>
<path d="M570.9,751.1 C571.72,751.85 575.13,755.03 576.7,756.4 C578.27,757.77 580.54,760.18 582,760.8 C583.46,761.42 585.68,761.42 587,760.8 C588.32,760.18 589.94,757.65 591.3,756.4 C592.66,755.15 595.85,752.62 596.6,752" fill="none" stroke="#1a1a1a" stroke-width="0.85" stroke-linejoin="round" stroke-linecap="round"/>
<rect x="45.6" y="699.6" width="575.6" height="74.5" fill="none" stroke="#d2d2d2" stroke-width="1"/>
<line x1="45.6" y1="699.1" x2="45.6" y2="774.6" stroke="#a9a9a9" stroke-width="1.0" />
<line x1="43.6" y1="703.2" x2="45.6" y2="703.2" stroke="#a9a9a9" stroke-width="0.8" />
<text x="44.5" y="710.9" font-size="10.9" text-anchor="end" fill="#222" font-weight="normal" >15</text>
<line x1="43.6" y1="725.8" x2="45.6" y2="725.8" stroke="#a9a9a9" stroke-width="0.8" />
<text x="44.5" y="730.7" font-size="10.9" text-anchor="end" fill="#222" font-weight="normal" >10</text>
<line x1="43.6" y1="748.4" x2="45.6" y2="748.4" stroke="#a9a9a9" stroke-width="0.8" />
<text x="44.5" y="753.9" font-size="10.9" text-anchor="end" fill="#222" font-weight="normal" >5</text>
<line x1="43.6" y1="771" x2="45.6" y2="771" stroke="#a9a9a9" stroke-width="0.8" />
<text x="44.5" y="777.1" font-size="10.9" text-anchor="end" fill="#222" font-weight="normal" >0</text>
<line x1="85.5" y1="774.1" x2="85.5" y2="776.1" stroke="#999" stroke-width="0.8" />
<line x1="137.5" y1="774.1" x2="137.5" y2="776.1" stroke="#999" stroke-width="0.8" />
<line x1="189.5" y1="774.1" x2="189.5" y2="776.1" stroke="#999" stroke-width="0.8" />
<line x1="241.5" y1="774.1" x2="241.5" y2="776.1" stroke="#999" stroke-width="0.8" />
<line x1="293.5" y1="774.1" x2="293.5" y2="776.1" stroke="#999" stroke-width="0.8" />
<line x1="345.5" y1="774.1" x2="345.5" y2="776.1" stroke="#999" stroke-width="0.8" />
<line x1="397.5" y1="774.1" x2="397.5" y2="776.1" stroke="#999" stroke-width="0.8" />
<line x1="449.5" y1="774.1" x2="449.5" y2="776.1" stroke="#999" stroke-width="0.8" />
<line x1="501.5" y1="774.1" x2="501.5" y2="776.1" stroke="#999" stroke-width="0.8" />
<line x1="553.5" y1="774.1" x2="553.5" y2="776.1" stroke="#999" stroke-width="0.8" />
<line x1="605.5" y1="774.1" x2="605.5" y2="776.1" stroke="#999" stroke-width="0.8" />
<rect x="622" y="697.9" width="16.7" height="79" fill="#000" />
<rect x="623.9" y="699.8" width="12.3" height="75.2" fill="#cda3fd" />
<text transform="translate(626.1,737.4) rotate(90)" font-size="10.9" text-anchor="middle" fill="#1a1a1a">H52</text>
<text x="640.5" y="713.9" font-size="11.1" text-anchor="start" fill="#222" font-weight="normal" >240</text>
<text x="640.5" y="774.1" font-size="11.1" text-anchor="start" fill="#222" font-weight="normal" >215</text>
<text x="543.3" y="239.8" font-size="10.4" font-weight="bold" fill="#000">P<tspan font-size="7.3" dy="1.9">spearman</tspan><tspan dy="-1.9"> &lt;0.01</tspan></text>
<text x="543.6" y="252.9" font-size="10.4" font-weight="bold" fill="#000">r<tspan font-size="7.3" dy="1.9">spearman</tspan><tspan dy="-1.9"> = 0.3</tspan></text>
<text x="543.3" y="317.1" font-size="10.4" font-weight="normal" fill="#000">P<tspan font-size="7.3" dy="1.9">spearman</tspan><tspan dy="-1.9"> &gt; 0.05</tspan></text>
<text x="543.3" y="396.8" font-size="10.4" font-weight="bold" fill="#000">P<tspan font-size="7.3" dy="1.9">spearman</tspan><tspan dy="-1.9"> &lt; 0.05</tspan></text>
<text x="543.6" y="409.5" font-size="10.4" font-weight="bold" fill="#000">r<tspan font-size="7.3" dy="1.9">spearman</tspan><tspan dy="-1.9"> = 0.2</tspan></text>
<text x="543.3" y="475.8" font-size="10.4" font-weight="normal" fill="#000">P<tspan font-size="7.3" dy="1.9">spearman</tspan><tspan dy="-1.9"> &gt; 0.05</tspan></text>
<text x="543.3" y="554.2" font-size="10.4" font-weight="normal" fill="#000">P<tspan font-size="7.3" dy="1.9">spearman</tspan><tspan dy="-1.9"> &gt; 0.05</tspan></text>
<text x="543.3" y="632.6" font-size="10.4" font-weight="normal" fill="#000">P<tspan font-size="7.3" dy="1.9">spearman</tspan><tspan dy="-1.9"> &gt; 0.05</tspan></text>
<text x="543.3" y="711.6" font-size="10.4" font-weight="bold" fill="#000">P<tspan font-size="7.3" dy="1.9">spearman</tspan><tspan dy="-1.9"> &lt; 0.05</tspan></text>
<text x="543.6" y="724.8" font-size="10.4" font-weight="bold" fill="#000">r<tspan font-size="7.3" dy="1.9">spearman</tspan><tspan dy="-1.9"> = -0.2</tspan></text>
<text transform="translate(88.4,776.8) rotate(-53.0)" font-size="11.0" text-anchor="end" fill="#2b2b2b" dy="0.72em">May 2013</text>
<text transform="translate(140.4,776.8) rotate(-53.0)" font-size="11.0" text-anchor="end" fill="#2b2b2b" dy="0.72em">May 2014</text>
<text transform="translate(192.4,776.8) rotate(-53.0)" font-size="11.0" text-anchor="end" fill="#2b2b2b" dy="0.72em">May 2015</text>
<text transform="translate(244.4,776.8) rotate(-53.0)" font-size="11.0" text-anchor="end" fill="#2b2b2b" dy="0.72em">May 2016</text>
<text transform="translate(296.4,776.8) rotate(-53.0)" font-size="11.0" text-anchor="end" fill="#2b2b2b" dy="0.72em">May 2017</text>
<text transform="translate(348.4,776.8) rotate(-53.0)" font-size="11.0" text-anchor="end" fill="#2b2b2b" dy="0.72em">May 2018</text>
<text transform="translate(400.4,776.8) rotate(-53.0)" font-size="11.0" text-anchor="end" fill="#2b2b2b" dy="0.72em">May 2019</text>
<text transform="translate(452.4,776.8) rotate(-53.0)" font-size="11.0" text-anchor="end" fill="#2b2b2b" dy="0.72em">May 2020</text>
<text transform="translate(504.4,776.8) rotate(-53.0)" font-size="11.0" text-anchor="end" fill="#2b2b2b" dy="0.72em">May 2021</text>
<text transform="translate(556.4,776.8) rotate(-53.0)" font-size="11.0" text-anchor="end" fill="#2b2b2b" dy="0.72em">May 2022</text>
</svg>
</body></html>
